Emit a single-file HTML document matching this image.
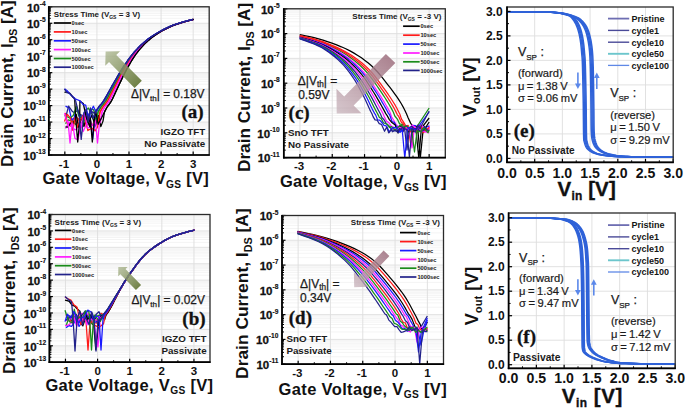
<!DOCTYPE html>
<html><head><meta charset="utf-8"><title>Figure</title>
<style>html,body{margin:0;padding:0;background:#fff;overflow:hidden}svg{display:block}</style>
</head><body>
<svg width="685" height="408" viewBox="0 0 685 408">
<rect width="685" height="408" fill="#ffffff"/>
<defs><clipPath id="clipA"><rect x="48.8" y="6.8" width="160.4" height="148.2"/></clipPath><clipPath id="clipB"><rect x="49.4" y="214.5" width="160.6" height="147.7"/></clipPath><clipPath id="clipC"><rect x="283.8" y="8.8" width="161.5" height="148.8"/></clipPath><clipPath id="clipD"><rect x="282" y="215.5" width="161.5" height="148.7"/></clipPath><clipPath id="clipE"><rect x="507" y="7" width="166.2" height="155.3"/></clipPath><clipPath id="clipF"><rect x="508.6" y="213" width="166.6" height="155.3"/></clipPath></defs>
<defs>
<linearGradient id="gOl" x1="1" y1="1" x2="0" y2="0"><stop offset="0" stop-color="#5f7230" stop-opacity="0.95"/><stop offset="1" stop-color="#aab58e" stop-opacity="0.75"/></linearGradient>
<linearGradient id="gMv" x1="1" y1="0" x2="0" y2="1"><stop offset="0" stop-color="#9a6878" stop-opacity="0.85"/><stop offset="1" stop-color="#c8b4bc" stop-opacity="0.75"/></linearGradient>
</defs>
<line x1="48.8" y1="150.04" x2="209.2" y2="150.04" stroke="#f1f1f1" stroke-width="0.8" />
<line x1="48.8" y1="147.14" x2="209.2" y2="147.14" stroke="#f1f1f1" stroke-width="0.8" />
<line x1="48.8" y1="145.09" x2="209.2" y2="145.09" stroke="#f1f1f1" stroke-width="0.8" />
<line x1="48.8" y1="143.49" x2="209.2" y2="143.49" stroke="#f1f1f1" stroke-width="0.8" />
<line x1="48.8" y1="142.19" x2="209.2" y2="142.19" stroke="#f1f1f1" stroke-width="0.8" />
<line x1="48.8" y1="141.08" x2="209.2" y2="141.08" stroke="#f1f1f1" stroke-width="0.8" />
<line x1="48.8" y1="140.13" x2="209.2" y2="140.13" stroke="#f1f1f1" stroke-width="0.8" />
<line x1="48.8" y1="139.29" x2="209.2" y2="139.29" stroke="#f1f1f1" stroke-width="0.8" />
<line x1="48.8" y1="133.58" x2="209.2" y2="133.58" stroke="#f1f1f1" stroke-width="0.8" />
<line x1="48.8" y1="130.68" x2="209.2" y2="130.68" stroke="#f1f1f1" stroke-width="0.8" />
<line x1="48.8" y1="128.62" x2="209.2" y2="128.62" stroke="#f1f1f1" stroke-width="0.8" />
<line x1="48.8" y1="127.02" x2="209.2" y2="127.02" stroke="#f1f1f1" stroke-width="0.8" />
<line x1="48.8" y1="125.72" x2="209.2" y2="125.72" stroke="#f1f1f1" stroke-width="0.8" />
<line x1="48.8" y1="124.62" x2="209.2" y2="124.62" stroke="#f1f1f1" stroke-width="0.8" />
<line x1="48.8" y1="123.66" x2="209.2" y2="123.66" stroke="#f1f1f1" stroke-width="0.8" />
<line x1="48.8" y1="122.82" x2="209.2" y2="122.82" stroke="#f1f1f1" stroke-width="0.8" />
<line x1="48.8" y1="117.11" x2="209.2" y2="117.11" stroke="#f1f1f1" stroke-width="0.8" />
<line x1="48.8" y1="114.21" x2="209.2" y2="114.21" stroke="#f1f1f1" stroke-width="0.8" />
<line x1="48.8" y1="112.15" x2="209.2" y2="112.15" stroke="#f1f1f1" stroke-width="0.8" />
<line x1="48.8" y1="110.56" x2="209.2" y2="110.56" stroke="#f1f1f1" stroke-width="0.8" />
<line x1="48.8" y1="109.25" x2="209.2" y2="109.25" stroke="#f1f1f1" stroke-width="0.8" />
<line x1="48.8" y1="108.15" x2="209.2" y2="108.15" stroke="#f1f1f1" stroke-width="0.8" />
<line x1="48.8" y1="107.2" x2="209.2" y2="107.2" stroke="#f1f1f1" stroke-width="0.8" />
<line x1="48.8" y1="106.35" x2="209.2" y2="106.35" stroke="#f1f1f1" stroke-width="0.8" />
<line x1="48.8" y1="100.64" x2="209.2" y2="100.64" stroke="#f1f1f1" stroke-width="0.8" />
<line x1="48.8" y1="97.74" x2="209.2" y2="97.74" stroke="#f1f1f1" stroke-width="0.8" />
<line x1="48.8" y1="95.69" x2="209.2" y2="95.69" stroke="#f1f1f1" stroke-width="0.8" />
<line x1="48.8" y1="94.09" x2="209.2" y2="94.09" stroke="#f1f1f1" stroke-width="0.8" />
<line x1="48.8" y1="92.79" x2="209.2" y2="92.79" stroke="#f1f1f1" stroke-width="0.8" />
<line x1="48.8" y1="91.68" x2="209.2" y2="91.68" stroke="#f1f1f1" stroke-width="0.8" />
<line x1="48.8" y1="90.73" x2="209.2" y2="90.73" stroke="#f1f1f1" stroke-width="0.8" />
<line x1="48.8" y1="89.89" x2="209.2" y2="89.89" stroke="#f1f1f1" stroke-width="0.8" />
<line x1="48.8" y1="84.18" x2="209.2" y2="84.18" stroke="#f1f1f1" stroke-width="0.8" />
<line x1="48.8" y1="81.28" x2="209.2" y2="81.28" stroke="#f1f1f1" stroke-width="0.8" />
<line x1="48.8" y1="79.22" x2="209.2" y2="79.22" stroke="#f1f1f1" stroke-width="0.8" />
<line x1="48.8" y1="77.62" x2="209.2" y2="77.62" stroke="#f1f1f1" stroke-width="0.8" />
<line x1="48.8" y1="76.32" x2="209.2" y2="76.32" stroke="#f1f1f1" stroke-width="0.8" />
<line x1="48.8" y1="75.22" x2="209.2" y2="75.22" stroke="#f1f1f1" stroke-width="0.8" />
<line x1="48.8" y1="74.26" x2="209.2" y2="74.26" stroke="#f1f1f1" stroke-width="0.8" />
<line x1="48.8" y1="73.42" x2="209.2" y2="73.42" stroke="#f1f1f1" stroke-width="0.8" />
<line x1="48.8" y1="67.71" x2="209.2" y2="67.71" stroke="#f1f1f1" stroke-width="0.8" />
<line x1="48.8" y1="64.81" x2="209.2" y2="64.81" stroke="#f1f1f1" stroke-width="0.8" />
<line x1="48.8" y1="62.75" x2="209.2" y2="62.75" stroke="#f1f1f1" stroke-width="0.8" />
<line x1="48.8" y1="61.16" x2="209.2" y2="61.16" stroke="#f1f1f1" stroke-width="0.8" />
<line x1="48.8" y1="59.85" x2="209.2" y2="59.85" stroke="#f1f1f1" stroke-width="0.8" />
<line x1="48.8" y1="58.75" x2="209.2" y2="58.75" stroke="#f1f1f1" stroke-width="0.8" />
<line x1="48.8" y1="57.8" x2="209.2" y2="57.8" stroke="#f1f1f1" stroke-width="0.8" />
<line x1="48.8" y1="56.95" x2="209.2" y2="56.95" stroke="#f1f1f1" stroke-width="0.8" />
<line x1="48.8" y1="51.24" x2="209.2" y2="51.24" stroke="#f1f1f1" stroke-width="0.8" />
<line x1="48.8" y1="48.34" x2="209.2" y2="48.34" stroke="#f1f1f1" stroke-width="0.8" />
<line x1="48.8" y1="46.29" x2="209.2" y2="46.29" stroke="#f1f1f1" stroke-width="0.8" />
<line x1="48.8" y1="44.69" x2="209.2" y2="44.69" stroke="#f1f1f1" stroke-width="0.8" />
<line x1="48.8" y1="43.39" x2="209.2" y2="43.39" stroke="#f1f1f1" stroke-width="0.8" />
<line x1="48.8" y1="42.28" x2="209.2" y2="42.28" stroke="#f1f1f1" stroke-width="0.8" />
<line x1="48.8" y1="41.33" x2="209.2" y2="41.33" stroke="#f1f1f1" stroke-width="0.8" />
<line x1="48.8" y1="40.49" x2="209.2" y2="40.49" stroke="#f1f1f1" stroke-width="0.8" />
<line x1="48.8" y1="34.78" x2="209.2" y2="34.78" stroke="#f1f1f1" stroke-width="0.8" />
<line x1="48.8" y1="31.88" x2="209.2" y2="31.88" stroke="#f1f1f1" stroke-width="0.8" />
<line x1="48.8" y1="29.82" x2="209.2" y2="29.82" stroke="#f1f1f1" stroke-width="0.8" />
<line x1="48.8" y1="28.22" x2="209.2" y2="28.22" stroke="#f1f1f1" stroke-width="0.8" />
<line x1="48.8" y1="26.92" x2="209.2" y2="26.92" stroke="#f1f1f1" stroke-width="0.8" />
<line x1="48.8" y1="25.82" x2="209.2" y2="25.82" stroke="#f1f1f1" stroke-width="0.8" />
<line x1="48.8" y1="24.86" x2="209.2" y2="24.86" stroke="#f1f1f1" stroke-width="0.8" />
<line x1="48.8" y1="24.02" x2="209.2" y2="24.02" stroke="#f1f1f1" stroke-width="0.8" />
<line x1="48.8" y1="18.31" x2="209.2" y2="18.31" stroke="#f1f1f1" stroke-width="0.8" />
<line x1="48.8" y1="15.41" x2="209.2" y2="15.41" stroke="#f1f1f1" stroke-width="0.8" />
<line x1="48.8" y1="13.35" x2="209.2" y2="13.35" stroke="#f1f1f1" stroke-width="0.8" />
<line x1="48.8" y1="11.76" x2="209.2" y2="11.76" stroke="#f1f1f1" stroke-width="0.8" />
<line x1="48.8" y1="10.45" x2="209.2" y2="10.45" stroke="#f1f1f1" stroke-width="0.8" />
<line x1="48.8" y1="9.35" x2="209.2" y2="9.35" stroke="#f1f1f1" stroke-width="0.8" />
<line x1="48.8" y1="8.4" x2="209.2" y2="8.4" stroke="#f1f1f1" stroke-width="0.8" />
<line x1="48.8" y1="7.55" x2="209.2" y2="7.55" stroke="#f1f1f1" stroke-width="0.8" />
<line x1="64.84" y1="6.8" x2="64.84" y2="155" stroke="#dedede" stroke-width="0.9" />
<line x1="96.92" y1="6.8" x2="96.92" y2="155" stroke="#dedede" stroke-width="0.9" />
<line x1="129" y1="6.8" x2="129" y2="155" stroke="#dedede" stroke-width="0.9" />
<line x1="161.08" y1="6.8" x2="161.08" y2="155" stroke="#dedede" stroke-width="0.9" />
<line x1="193.16" y1="6.8" x2="193.16" y2="155" stroke="#dedede" stroke-width="0.9" />
<line x1="48.8" y1="155" x2="209.2" y2="155" stroke="#dedede" stroke-width="0.9" />
<line x1="48.8" y1="138.53" x2="209.2" y2="138.53" stroke="#dedede" stroke-width="0.9" />
<line x1="48.8" y1="122.07" x2="209.2" y2="122.07" stroke="#dedede" stroke-width="0.9" />
<line x1="48.8" y1="105.6" x2="209.2" y2="105.6" stroke="#dedede" stroke-width="0.9" />
<line x1="48.8" y1="89.13" x2="209.2" y2="89.13" stroke="#dedede" stroke-width="0.9" />
<line x1="48.8" y1="72.67" x2="209.2" y2="72.67" stroke="#dedede" stroke-width="0.9" />
<line x1="48.8" y1="56.2" x2="209.2" y2="56.2" stroke="#dedede" stroke-width="0.9" />
<line x1="48.8" y1="39.73" x2="209.2" y2="39.73" stroke="#dedede" stroke-width="0.9" />
<line x1="48.8" y1="23.27" x2="209.2" y2="23.27" stroke="#dedede" stroke-width="0.9" />
<line x1="48.8" y1="6.8" x2="209.2" y2="6.8" stroke="#dedede" stroke-width="0.9" />
<line x1="49.4" y1="357.26" x2="210" y2="357.26" stroke="#f1f1f1" stroke-width="0.8" />
<line x1="49.4" y1="354.37" x2="210" y2="354.37" stroke="#f1f1f1" stroke-width="0.8" />
<line x1="49.4" y1="352.32" x2="210" y2="352.32" stroke="#f1f1f1" stroke-width="0.8" />
<line x1="49.4" y1="350.73" x2="210" y2="350.73" stroke="#f1f1f1" stroke-width="0.8" />
<line x1="49.4" y1="349.43" x2="210" y2="349.43" stroke="#f1f1f1" stroke-width="0.8" />
<line x1="49.4" y1="348.33" x2="210" y2="348.33" stroke="#f1f1f1" stroke-width="0.8" />
<line x1="49.4" y1="347.38" x2="210" y2="347.38" stroke="#f1f1f1" stroke-width="0.8" />
<line x1="49.4" y1="346.54" x2="210" y2="346.54" stroke="#f1f1f1" stroke-width="0.8" />
<line x1="49.4" y1="340.85" x2="210" y2="340.85" stroke="#f1f1f1" stroke-width="0.8" />
<line x1="49.4" y1="337.96" x2="210" y2="337.96" stroke="#f1f1f1" stroke-width="0.8" />
<line x1="49.4" y1="335.91" x2="210" y2="335.91" stroke="#f1f1f1" stroke-width="0.8" />
<line x1="49.4" y1="334.32" x2="210" y2="334.32" stroke="#f1f1f1" stroke-width="0.8" />
<line x1="49.4" y1="333.02" x2="210" y2="333.02" stroke="#f1f1f1" stroke-width="0.8" />
<line x1="49.4" y1="331.92" x2="210" y2="331.92" stroke="#f1f1f1" stroke-width="0.8" />
<line x1="49.4" y1="330.97" x2="210" y2="330.97" stroke="#f1f1f1" stroke-width="0.8" />
<line x1="49.4" y1="330.13" x2="210" y2="330.13" stroke="#f1f1f1" stroke-width="0.8" />
<line x1="49.4" y1="324.44" x2="210" y2="324.44" stroke="#f1f1f1" stroke-width="0.8" />
<line x1="49.4" y1="321.55" x2="210" y2="321.55" stroke="#f1f1f1" stroke-width="0.8" />
<line x1="49.4" y1="319.5" x2="210" y2="319.5" stroke="#f1f1f1" stroke-width="0.8" />
<line x1="49.4" y1="317.91" x2="210" y2="317.91" stroke="#f1f1f1" stroke-width="0.8" />
<line x1="49.4" y1="316.61" x2="210" y2="316.61" stroke="#f1f1f1" stroke-width="0.8" />
<line x1="49.4" y1="315.51" x2="210" y2="315.51" stroke="#f1f1f1" stroke-width="0.8" />
<line x1="49.4" y1="314.56" x2="210" y2="314.56" stroke="#f1f1f1" stroke-width="0.8" />
<line x1="49.4" y1="313.72" x2="210" y2="313.72" stroke="#f1f1f1" stroke-width="0.8" />
<line x1="49.4" y1="308.03" x2="210" y2="308.03" stroke="#f1f1f1" stroke-width="0.8" />
<line x1="49.4" y1="305.14" x2="210" y2="305.14" stroke="#f1f1f1" stroke-width="0.8" />
<line x1="49.4" y1="303.09" x2="210" y2="303.09" stroke="#f1f1f1" stroke-width="0.8" />
<line x1="49.4" y1="301.5" x2="210" y2="301.5" stroke="#f1f1f1" stroke-width="0.8" />
<line x1="49.4" y1="300.2" x2="210" y2="300.2" stroke="#f1f1f1" stroke-width="0.8" />
<line x1="49.4" y1="299.1" x2="210" y2="299.1" stroke="#f1f1f1" stroke-width="0.8" />
<line x1="49.4" y1="298.15" x2="210" y2="298.15" stroke="#f1f1f1" stroke-width="0.8" />
<line x1="49.4" y1="297.31" x2="210" y2="297.31" stroke="#f1f1f1" stroke-width="0.8" />
<line x1="49.4" y1="291.62" x2="210" y2="291.62" stroke="#f1f1f1" stroke-width="0.8" />
<line x1="49.4" y1="288.73" x2="210" y2="288.73" stroke="#f1f1f1" stroke-width="0.8" />
<line x1="49.4" y1="286.68" x2="210" y2="286.68" stroke="#f1f1f1" stroke-width="0.8" />
<line x1="49.4" y1="285.08" x2="210" y2="285.08" stroke="#f1f1f1" stroke-width="0.8" />
<line x1="49.4" y1="283.79" x2="210" y2="283.79" stroke="#f1f1f1" stroke-width="0.8" />
<line x1="49.4" y1="282.69" x2="210" y2="282.69" stroke="#f1f1f1" stroke-width="0.8" />
<line x1="49.4" y1="281.73" x2="210" y2="281.73" stroke="#f1f1f1" stroke-width="0.8" />
<line x1="49.4" y1="280.9" x2="210" y2="280.9" stroke="#f1f1f1" stroke-width="0.8" />
<line x1="49.4" y1="275.2" x2="210" y2="275.2" stroke="#f1f1f1" stroke-width="0.8" />
<line x1="49.4" y1="272.31" x2="210" y2="272.31" stroke="#f1f1f1" stroke-width="0.8" />
<line x1="49.4" y1="270.26" x2="210" y2="270.26" stroke="#f1f1f1" stroke-width="0.8" />
<line x1="49.4" y1="268.67" x2="210" y2="268.67" stroke="#f1f1f1" stroke-width="0.8" />
<line x1="49.4" y1="267.37" x2="210" y2="267.37" stroke="#f1f1f1" stroke-width="0.8" />
<line x1="49.4" y1="266.28" x2="210" y2="266.28" stroke="#f1f1f1" stroke-width="0.8" />
<line x1="49.4" y1="265.32" x2="210" y2="265.32" stroke="#f1f1f1" stroke-width="0.8" />
<line x1="49.4" y1="264.48" x2="210" y2="264.48" stroke="#f1f1f1" stroke-width="0.8" />
<line x1="49.4" y1="258.79" x2="210" y2="258.79" stroke="#f1f1f1" stroke-width="0.8" />
<line x1="49.4" y1="255.9" x2="210" y2="255.9" stroke="#f1f1f1" stroke-width="0.8" />
<line x1="49.4" y1="253.85" x2="210" y2="253.85" stroke="#f1f1f1" stroke-width="0.8" />
<line x1="49.4" y1="252.26" x2="210" y2="252.26" stroke="#f1f1f1" stroke-width="0.8" />
<line x1="49.4" y1="250.96" x2="210" y2="250.96" stroke="#f1f1f1" stroke-width="0.8" />
<line x1="49.4" y1="249.86" x2="210" y2="249.86" stroke="#f1f1f1" stroke-width="0.8" />
<line x1="49.4" y1="248.91" x2="210" y2="248.91" stroke="#f1f1f1" stroke-width="0.8" />
<line x1="49.4" y1="248.07" x2="210" y2="248.07" stroke="#f1f1f1" stroke-width="0.8" />
<line x1="49.4" y1="242.38" x2="210" y2="242.38" stroke="#f1f1f1" stroke-width="0.8" />
<line x1="49.4" y1="239.49" x2="210" y2="239.49" stroke="#f1f1f1" stroke-width="0.8" />
<line x1="49.4" y1="237.44" x2="210" y2="237.44" stroke="#f1f1f1" stroke-width="0.8" />
<line x1="49.4" y1="235.85" x2="210" y2="235.85" stroke="#f1f1f1" stroke-width="0.8" />
<line x1="49.4" y1="234.55" x2="210" y2="234.55" stroke="#f1f1f1" stroke-width="0.8" />
<line x1="49.4" y1="233.45" x2="210" y2="233.45" stroke="#f1f1f1" stroke-width="0.8" />
<line x1="49.4" y1="232.5" x2="210" y2="232.5" stroke="#f1f1f1" stroke-width="0.8" />
<line x1="49.4" y1="231.66" x2="210" y2="231.66" stroke="#f1f1f1" stroke-width="0.8" />
<line x1="49.4" y1="225.97" x2="210" y2="225.97" stroke="#f1f1f1" stroke-width="0.8" />
<line x1="49.4" y1="223.08" x2="210" y2="223.08" stroke="#f1f1f1" stroke-width="0.8" />
<line x1="49.4" y1="221.03" x2="210" y2="221.03" stroke="#f1f1f1" stroke-width="0.8" />
<line x1="49.4" y1="219.44" x2="210" y2="219.44" stroke="#f1f1f1" stroke-width="0.8" />
<line x1="49.4" y1="218.14" x2="210" y2="218.14" stroke="#f1f1f1" stroke-width="0.8" />
<line x1="49.4" y1="217.04" x2="210" y2="217.04" stroke="#f1f1f1" stroke-width="0.8" />
<line x1="49.4" y1="216.09" x2="210" y2="216.09" stroke="#f1f1f1" stroke-width="0.8" />
<line x1="49.4" y1="215.25" x2="210" y2="215.25" stroke="#f1f1f1" stroke-width="0.8" />
<line x1="65.46" y1="214.5" x2="65.46" y2="362.2" stroke="#dedede" stroke-width="0.9" />
<line x1="97.58" y1="214.5" x2="97.58" y2="362.2" stroke="#dedede" stroke-width="0.9" />
<line x1="129.7" y1="214.5" x2="129.7" y2="362.2" stroke="#dedede" stroke-width="0.9" />
<line x1="161.82" y1="214.5" x2="161.82" y2="362.2" stroke="#dedede" stroke-width="0.9" />
<line x1="193.94" y1="214.5" x2="193.94" y2="362.2" stroke="#dedede" stroke-width="0.9" />
<line x1="49.4" y1="362.2" x2="210" y2="362.2" stroke="#dedede" stroke-width="0.9" />
<line x1="49.4" y1="345.79" x2="210" y2="345.79" stroke="#dedede" stroke-width="0.9" />
<line x1="49.4" y1="329.38" x2="210" y2="329.38" stroke="#dedede" stroke-width="0.9" />
<line x1="49.4" y1="312.97" x2="210" y2="312.97" stroke="#dedede" stroke-width="0.9" />
<line x1="49.4" y1="296.56" x2="210" y2="296.56" stroke="#dedede" stroke-width="0.9" />
<line x1="49.4" y1="280.14" x2="210" y2="280.14" stroke="#dedede" stroke-width="0.9" />
<line x1="49.4" y1="263.73" x2="210" y2="263.73" stroke="#dedede" stroke-width="0.9" />
<line x1="49.4" y1="247.32" x2="210" y2="247.32" stroke="#dedede" stroke-width="0.9" />
<line x1="49.4" y1="230.91" x2="210" y2="230.91" stroke="#dedede" stroke-width="0.9" />
<line x1="49.4" y1="214.5" x2="210" y2="214.5" stroke="#dedede" stroke-width="0.9" />
<line x1="283.8" y1="150.13" x2="445.3" y2="150.13" stroke="#f1f1f1" stroke-width="0.8" />
<line x1="283.8" y1="145.77" x2="445.3" y2="145.77" stroke="#f1f1f1" stroke-width="0.8" />
<line x1="283.8" y1="142.67" x2="445.3" y2="142.67" stroke="#f1f1f1" stroke-width="0.8" />
<line x1="283.8" y1="140.27" x2="445.3" y2="140.27" stroke="#f1f1f1" stroke-width="0.8" />
<line x1="283.8" y1="138.3" x2="445.3" y2="138.3" stroke="#f1f1f1" stroke-width="0.8" />
<line x1="283.8" y1="136.64" x2="445.3" y2="136.64" stroke="#f1f1f1" stroke-width="0.8" />
<line x1="283.8" y1="135.2" x2="445.3" y2="135.2" stroke="#f1f1f1" stroke-width="0.8" />
<line x1="283.8" y1="133.93" x2="445.3" y2="133.93" stroke="#f1f1f1" stroke-width="0.8" />
<line x1="283.8" y1="125.33" x2="445.3" y2="125.33" stroke="#f1f1f1" stroke-width="0.8" />
<line x1="283.8" y1="120.97" x2="445.3" y2="120.97" stroke="#f1f1f1" stroke-width="0.8" />
<line x1="283.8" y1="117.87" x2="445.3" y2="117.87" stroke="#f1f1f1" stroke-width="0.8" />
<line x1="283.8" y1="115.47" x2="445.3" y2="115.47" stroke="#f1f1f1" stroke-width="0.8" />
<line x1="283.8" y1="113.5" x2="445.3" y2="113.5" stroke="#f1f1f1" stroke-width="0.8" />
<line x1="283.8" y1="111.84" x2="445.3" y2="111.84" stroke="#f1f1f1" stroke-width="0.8" />
<line x1="283.8" y1="110.4" x2="445.3" y2="110.4" stroke="#f1f1f1" stroke-width="0.8" />
<line x1="283.8" y1="109.13" x2="445.3" y2="109.13" stroke="#f1f1f1" stroke-width="0.8" />
<line x1="283.8" y1="100.53" x2="445.3" y2="100.53" stroke="#f1f1f1" stroke-width="0.8" />
<line x1="283.8" y1="96.17" x2="445.3" y2="96.17" stroke="#f1f1f1" stroke-width="0.8" />
<line x1="283.8" y1="93.07" x2="445.3" y2="93.07" stroke="#f1f1f1" stroke-width="0.8" />
<line x1="283.8" y1="90.67" x2="445.3" y2="90.67" stroke="#f1f1f1" stroke-width="0.8" />
<line x1="283.8" y1="88.7" x2="445.3" y2="88.7" stroke="#f1f1f1" stroke-width="0.8" />
<line x1="283.8" y1="87.04" x2="445.3" y2="87.04" stroke="#f1f1f1" stroke-width="0.8" />
<line x1="283.8" y1="85.6" x2="445.3" y2="85.6" stroke="#f1f1f1" stroke-width="0.8" />
<line x1="283.8" y1="84.33" x2="445.3" y2="84.33" stroke="#f1f1f1" stroke-width="0.8" />
<line x1="283.8" y1="75.73" x2="445.3" y2="75.73" stroke="#f1f1f1" stroke-width="0.8" />
<line x1="283.8" y1="71.37" x2="445.3" y2="71.37" stroke="#f1f1f1" stroke-width="0.8" />
<line x1="283.8" y1="68.27" x2="445.3" y2="68.27" stroke="#f1f1f1" stroke-width="0.8" />
<line x1="283.8" y1="65.87" x2="445.3" y2="65.87" stroke="#f1f1f1" stroke-width="0.8" />
<line x1="283.8" y1="63.9" x2="445.3" y2="63.9" stroke="#f1f1f1" stroke-width="0.8" />
<line x1="283.8" y1="62.24" x2="445.3" y2="62.24" stroke="#f1f1f1" stroke-width="0.8" />
<line x1="283.8" y1="60.8" x2="445.3" y2="60.8" stroke="#f1f1f1" stroke-width="0.8" />
<line x1="283.8" y1="59.53" x2="445.3" y2="59.53" stroke="#f1f1f1" stroke-width="0.8" />
<line x1="283.8" y1="50.93" x2="445.3" y2="50.93" stroke="#f1f1f1" stroke-width="0.8" />
<line x1="283.8" y1="46.57" x2="445.3" y2="46.57" stroke="#f1f1f1" stroke-width="0.8" />
<line x1="283.8" y1="43.47" x2="445.3" y2="43.47" stroke="#f1f1f1" stroke-width="0.8" />
<line x1="283.8" y1="41.07" x2="445.3" y2="41.07" stroke="#f1f1f1" stroke-width="0.8" />
<line x1="283.8" y1="39.1" x2="445.3" y2="39.1" stroke="#f1f1f1" stroke-width="0.8" />
<line x1="283.8" y1="37.44" x2="445.3" y2="37.44" stroke="#f1f1f1" stroke-width="0.8" />
<line x1="283.8" y1="36" x2="445.3" y2="36" stroke="#f1f1f1" stroke-width="0.8" />
<line x1="283.8" y1="34.73" x2="445.3" y2="34.73" stroke="#f1f1f1" stroke-width="0.8" />
<line x1="283.8" y1="26.13" x2="445.3" y2="26.13" stroke="#f1f1f1" stroke-width="0.8" />
<line x1="283.8" y1="21.77" x2="445.3" y2="21.77" stroke="#f1f1f1" stroke-width="0.8" />
<line x1="283.8" y1="18.67" x2="445.3" y2="18.67" stroke="#f1f1f1" stroke-width="0.8" />
<line x1="283.8" y1="16.27" x2="445.3" y2="16.27" stroke="#f1f1f1" stroke-width="0.8" />
<line x1="283.8" y1="14.3" x2="445.3" y2="14.3" stroke="#f1f1f1" stroke-width="0.8" />
<line x1="283.8" y1="12.64" x2="445.3" y2="12.64" stroke="#f1f1f1" stroke-width="0.8" />
<line x1="283.8" y1="11.2" x2="445.3" y2="11.2" stroke="#f1f1f1" stroke-width="0.8" />
<line x1="283.8" y1="9.93" x2="445.3" y2="9.93" stroke="#f1f1f1" stroke-width="0.8" />
<line x1="299.95" y1="8.8" x2="299.95" y2="157.6" stroke="#dedede" stroke-width="0.9" />
<line x1="332.25" y1="8.8" x2="332.25" y2="157.6" stroke="#dedede" stroke-width="0.9" />
<line x1="364.55" y1="8.8" x2="364.55" y2="157.6" stroke="#dedede" stroke-width="0.9" />
<line x1="396.85" y1="8.8" x2="396.85" y2="157.6" stroke="#dedede" stroke-width="0.9" />
<line x1="429.15" y1="8.8" x2="429.15" y2="157.6" stroke="#dedede" stroke-width="0.9" />
<line x1="283.8" y1="157.6" x2="445.3" y2="157.6" stroke="#dedede" stroke-width="0.9" />
<line x1="283.8" y1="132.8" x2="445.3" y2="132.8" stroke="#dedede" stroke-width="0.9" />
<line x1="283.8" y1="108" x2="445.3" y2="108" stroke="#dedede" stroke-width="0.9" />
<line x1="283.8" y1="83.2" x2="445.3" y2="83.2" stroke="#dedede" stroke-width="0.9" />
<line x1="283.8" y1="58.4" x2="445.3" y2="58.4" stroke="#dedede" stroke-width="0.9" />
<line x1="283.8" y1="33.6" x2="445.3" y2="33.6" stroke="#dedede" stroke-width="0.9" />
<line x1="283.8" y1="8.8" x2="445.3" y2="8.8" stroke="#dedede" stroke-width="0.9" />
<line x1="282" y1="356.74" x2="443.5" y2="356.74" stroke="#f1f1f1" stroke-width="0.8" />
<line x1="282" y1="352.38" x2="443.5" y2="352.38" stroke="#f1f1f1" stroke-width="0.8" />
<line x1="282" y1="349.28" x2="443.5" y2="349.28" stroke="#f1f1f1" stroke-width="0.8" />
<line x1="282" y1="346.88" x2="443.5" y2="346.88" stroke="#f1f1f1" stroke-width="0.8" />
<line x1="282" y1="344.91" x2="443.5" y2="344.91" stroke="#f1f1f1" stroke-width="0.8" />
<line x1="282" y1="343.26" x2="443.5" y2="343.26" stroke="#f1f1f1" stroke-width="0.8" />
<line x1="282" y1="341.82" x2="443.5" y2="341.82" stroke="#f1f1f1" stroke-width="0.8" />
<line x1="282" y1="340.55" x2="443.5" y2="340.55" stroke="#f1f1f1" stroke-width="0.8" />
<line x1="282" y1="331.96" x2="443.5" y2="331.96" stroke="#f1f1f1" stroke-width="0.8" />
<line x1="282" y1="327.59" x2="443.5" y2="327.59" stroke="#f1f1f1" stroke-width="0.8" />
<line x1="282" y1="324.5" x2="443.5" y2="324.5" stroke="#f1f1f1" stroke-width="0.8" />
<line x1="282" y1="322.09" x2="443.5" y2="322.09" stroke="#f1f1f1" stroke-width="0.8" />
<line x1="282" y1="320.13" x2="443.5" y2="320.13" stroke="#f1f1f1" stroke-width="0.8" />
<line x1="282" y1="318.47" x2="443.5" y2="318.47" stroke="#f1f1f1" stroke-width="0.8" />
<line x1="282" y1="317.04" x2="443.5" y2="317.04" stroke="#f1f1f1" stroke-width="0.8" />
<line x1="282" y1="315.77" x2="443.5" y2="315.77" stroke="#f1f1f1" stroke-width="0.8" />
<line x1="282" y1="307.17" x2="443.5" y2="307.17" stroke="#f1f1f1" stroke-width="0.8" />
<line x1="282" y1="302.81" x2="443.5" y2="302.81" stroke="#f1f1f1" stroke-width="0.8" />
<line x1="282" y1="299.71" x2="443.5" y2="299.71" stroke="#f1f1f1" stroke-width="0.8" />
<line x1="282" y1="297.31" x2="443.5" y2="297.31" stroke="#f1f1f1" stroke-width="0.8" />
<line x1="282" y1="295.35" x2="443.5" y2="295.35" stroke="#f1f1f1" stroke-width="0.8" />
<line x1="282" y1="293.69" x2="443.5" y2="293.69" stroke="#f1f1f1" stroke-width="0.8" />
<line x1="282" y1="292.25" x2="443.5" y2="292.25" stroke="#f1f1f1" stroke-width="0.8" />
<line x1="282" y1="290.98" x2="443.5" y2="290.98" stroke="#f1f1f1" stroke-width="0.8" />
<line x1="282" y1="282.39" x2="443.5" y2="282.39" stroke="#f1f1f1" stroke-width="0.8" />
<line x1="282" y1="278.03" x2="443.5" y2="278.03" stroke="#f1f1f1" stroke-width="0.8" />
<line x1="282" y1="274.93" x2="443.5" y2="274.93" stroke="#f1f1f1" stroke-width="0.8" />
<line x1="282" y1="272.53" x2="443.5" y2="272.53" stroke="#f1f1f1" stroke-width="0.8" />
<line x1="282" y1="270.56" x2="443.5" y2="270.56" stroke="#f1f1f1" stroke-width="0.8" />
<line x1="282" y1="268.91" x2="443.5" y2="268.91" stroke="#f1f1f1" stroke-width="0.8" />
<line x1="282" y1="267.47" x2="443.5" y2="267.47" stroke="#f1f1f1" stroke-width="0.8" />
<line x1="282" y1="266.2" x2="443.5" y2="266.2" stroke="#f1f1f1" stroke-width="0.8" />
<line x1="282" y1="257.61" x2="443.5" y2="257.61" stroke="#f1f1f1" stroke-width="0.8" />
<line x1="282" y1="253.24" x2="443.5" y2="253.24" stroke="#f1f1f1" stroke-width="0.8" />
<line x1="282" y1="250.15" x2="443.5" y2="250.15" stroke="#f1f1f1" stroke-width="0.8" />
<line x1="282" y1="247.74" x2="443.5" y2="247.74" stroke="#f1f1f1" stroke-width="0.8" />
<line x1="282" y1="245.78" x2="443.5" y2="245.78" stroke="#f1f1f1" stroke-width="0.8" />
<line x1="282" y1="244.12" x2="443.5" y2="244.12" stroke="#f1f1f1" stroke-width="0.8" />
<line x1="282" y1="242.69" x2="443.5" y2="242.69" stroke="#f1f1f1" stroke-width="0.8" />
<line x1="282" y1="241.42" x2="443.5" y2="241.42" stroke="#f1f1f1" stroke-width="0.8" />
<line x1="282" y1="232.82" x2="443.5" y2="232.82" stroke="#f1f1f1" stroke-width="0.8" />
<line x1="282" y1="228.46" x2="443.5" y2="228.46" stroke="#f1f1f1" stroke-width="0.8" />
<line x1="282" y1="225.36" x2="443.5" y2="225.36" stroke="#f1f1f1" stroke-width="0.8" />
<line x1="282" y1="222.96" x2="443.5" y2="222.96" stroke="#f1f1f1" stroke-width="0.8" />
<line x1="282" y1="221" x2="443.5" y2="221" stroke="#f1f1f1" stroke-width="0.8" />
<line x1="282" y1="219.34" x2="443.5" y2="219.34" stroke="#f1f1f1" stroke-width="0.8" />
<line x1="282" y1="217.9" x2="443.5" y2="217.9" stroke="#f1f1f1" stroke-width="0.8" />
<line x1="282" y1="216.63" x2="443.5" y2="216.63" stroke="#f1f1f1" stroke-width="0.8" />
<line x1="298.15" y1="215.5" x2="298.15" y2="364.2" stroke="#dedede" stroke-width="0.9" />
<line x1="330.45" y1="215.5" x2="330.45" y2="364.2" stroke="#dedede" stroke-width="0.9" />
<line x1="362.75" y1="215.5" x2="362.75" y2="364.2" stroke="#dedede" stroke-width="0.9" />
<line x1="395.05" y1="215.5" x2="395.05" y2="364.2" stroke="#dedede" stroke-width="0.9" />
<line x1="427.35" y1="215.5" x2="427.35" y2="364.2" stroke="#dedede" stroke-width="0.9" />
<line x1="282" y1="364.2" x2="443.5" y2="364.2" stroke="#dedede" stroke-width="0.9" />
<line x1="282" y1="339.42" x2="443.5" y2="339.42" stroke="#dedede" stroke-width="0.9" />
<line x1="282" y1="314.63" x2="443.5" y2="314.63" stroke="#dedede" stroke-width="0.9" />
<line x1="282" y1="289.85" x2="443.5" y2="289.85" stroke="#dedede" stroke-width="0.9" />
<line x1="282" y1="265.07" x2="443.5" y2="265.07" stroke="#dedede" stroke-width="0.9" />
<line x1="282" y1="240.28" x2="443.5" y2="240.28" stroke="#dedede" stroke-width="0.9" />
<line x1="282" y1="215.5" x2="443.5" y2="215.5" stroke="#dedede" stroke-width="0.9" />
<line x1="534.7" y1="7" x2="534.7" y2="162.3" stroke="#dedede" stroke-width="0.9" />
<line x1="562.4" y1="7" x2="562.4" y2="162.3" stroke="#dedede" stroke-width="0.9" />
<line x1="590.1" y1="7" x2="590.1" y2="162.3" stroke="#dedede" stroke-width="0.9" />
<line x1="617.8" y1="7" x2="617.8" y2="162.3" stroke="#dedede" stroke-width="0.9" />
<line x1="645.5" y1="7" x2="645.5" y2="162.3" stroke="#dedede" stroke-width="0.9" />
<line x1="507" y1="158.4" x2="673.2" y2="158.4" stroke="#dedede" stroke-width="0.9" />
<line x1="507" y1="133.9" x2="673.2" y2="133.9" stroke="#dedede" stroke-width="0.9" />
<line x1="507" y1="109.4" x2="673.2" y2="109.4" stroke="#dedede" stroke-width="0.9" />
<line x1="507" y1="84.9" x2="673.2" y2="84.9" stroke="#dedede" stroke-width="0.9" />
<line x1="507" y1="60.4" x2="673.2" y2="60.4" stroke="#dedede" stroke-width="0.9" />
<line x1="507" y1="35.9" x2="673.2" y2="35.9" stroke="#dedede" stroke-width="0.9" />
<line x1="536.37" y1="213" x2="536.37" y2="368.3" stroke="#dedede" stroke-width="0.9" />
<line x1="564.13" y1="213" x2="564.13" y2="368.3" stroke="#dedede" stroke-width="0.9" />
<line x1="591.9" y1="213" x2="591.9" y2="368.3" stroke="#dedede" stroke-width="0.9" />
<line x1="619.67" y1="213" x2="619.67" y2="368.3" stroke="#dedede" stroke-width="0.9" />
<line x1="647.43" y1="213" x2="647.43" y2="368.3" stroke="#dedede" stroke-width="0.9" />
<line x1="508.6" y1="364.7" x2="675.2" y2="364.7" stroke="#dedede" stroke-width="0.9" />
<line x1="508.6" y1="340.2" x2="675.2" y2="340.2" stroke="#dedede" stroke-width="0.9" />
<line x1="508.6" y1="315.7" x2="675.2" y2="315.7" stroke="#dedede" stroke-width="0.9" />
<line x1="508.6" y1="291.2" x2="675.2" y2="291.2" stroke="#dedede" stroke-width="0.9" />
<line x1="508.6" y1="266.7" x2="675.2" y2="266.7" stroke="#dedede" stroke-width="0.9" />
<line x1="508.6" y1="242.2" x2="675.2" y2="242.2" stroke="#dedede" stroke-width="0.9" />
<g clip-path="url(#clipA)">
<polyline points="65.5,123.58 68.4,119.83 70.43,120.53 73.46,122.17 75.71,124.5 78.54,118.98 80.68,120.24 83.4,118.92 85.48,120.98 88.13,124.7 90.25,109.07 93.5,109.61 96.79,122.08 98,112 98.22,111.63 98.5,111.14 98.83,110.57 99.2,109.92 99.61,109.22 100.06,108.49 100.53,107.74 101.03,107 101.53,106.31 102.05,105.68 102.59,105.06 103.17,104.39 103.79,103.63 104.47,102.72 105.23,101.63 106.06,100.3 107,98.69 108.03,96.82 109.14,94.75 110.31,92.55 111.51,90.27 112.74,87.96 113.96,85.68 115.15,83.5 116.33,81.37 117.51,79.22 118.69,77.06 119.89,74.9 121.1,72.75 122.35,70.6 123.63,68.49 124.94,66.4 126.29,64.33 127.66,62.26 129.05,60.21 130.48,58.17 131.94,56.16 133.45,54.19 135.01,52.27 136.63,50.4 138.29,48.58 139.98,46.81 141.71,45.08 143.49,43.39 145.34,41.74 147.27,40.13 149.28,38.55 151.4,37 153.65,35.47 156.01,33.96 158.47,32.47 161,31.02 163.59,29.63 166.2,28.3 168.83,27.06 171.44,25.9 174.21,24.81 177.23,23.78 180.37,22.81 183.49,21.91 186.45,21.09 189.12,20.38 191.36,19.78 193.04,19.3" fill="none" stroke="#1a8c1a" stroke-width="1.3" stroke-linejoin="round" />
<polyline points="65.5,112.94 67.59,124.49 70.79,126.13 73.14,118.56 76.37,117.15 78.43,118.93 81,126.83 84.58,125.48 86.67,118.54 88.82,115.77 92.17,125.64 95.37,120.21 98.14,123.17 100,112 100.21,111.63 100.48,111.14 100.79,110.57 101.15,109.92 101.55,109.22 101.98,108.49 102.44,107.74 102.92,107 103.41,106.31 103.91,105.68 104.44,105.06 105,104.39 105.61,103.63 106.27,102.72 107,101.63 107.81,100.3 108.71,98.69 109.71,96.82 110.77,94.75 111.89,92.55 113.05,90.27 114.22,87.96 115.39,85.68 116.54,83.5 117.67,81.37 118.8,79.22 119.94,77.06 121.09,74.9 122.26,72.75 123.46,70.6 124.69,68.49 125.97,66.4 127.27,64.33 128.59,62.26 129.94,60.21 131.32,58.17 132.74,56.16 134.21,54.19 135.73,52.27 137.31,50.4 138.93,48.58 140.58,46.81 142.28,45.08 144.02,43.39 145.83,41.74 147.72,40.13 149.71,38.55 151.79,37 154,35.47 156.33,33.96 158.76,32.47 161.27,31.02 163.83,29.63 166.44,28.3 169.07,27.06 171.68,25.9 174.45,24.81 177.47,23.78 180.61,22.81 183.73,21.91 186.69,21.09 189.36,20.38 191.6,19.78 193.28,19.3" fill="none" stroke="#ff1a1a" stroke-width="1.3" stroke-linejoin="round" />
<polyline points="65.5,128.46 69.02,122.15 71.8,127.12 74.11,129.25 76.52,129.83 79.89,121.18 83.13,131.52 86.73,123.65 89.98,124.39 92.62,129.9 95.81,124.99 98.31,117.26 100.54,121.75 102,112 102.2,111.63 102.46,111.14 102.76,110.57 103.11,109.92 103.49,109.22 103.91,108.49 104.35,107.74 104.81,107 105.29,106.31 105.78,105.68 106.29,105.06 106.84,104.39 107.43,103.63 108.07,102.72 108.78,101.63 109.56,100.3 110.43,98.69 111.38,96.82 112.4,94.75 113.48,92.55 114.58,90.27 115.7,87.96 116.83,85.68 117.93,83.5 119.02,81.37 120.1,79.22 121.19,77.06 122.29,74.9 123.42,72.75 124.57,70.6 125.76,68.49 126.99,66.4 128.25,64.33 129.53,62.26 130.83,60.21 132.17,58.17 133.54,56.16 134.97,54.19 136.45,52.27 137.99,50.4 139.57,48.58 141.18,46.81 142.84,45.08 144.55,43.39 146.32,41.74 148.18,40.13 150.13,38.55 152.18,37 154.36,35.47 156.66,33.96 159.05,32.47 161.53,31.02 164.07,29.63 166.68,28.3 169.31,27.06 171.92,25.9 174.69,24.81 177.71,23.78 180.85,22.81 183.97,21.91 186.93,21.09 189.6,20.38 191.84,19.78 193.52,19.3" fill="none" stroke="#ff1aff" stroke-width="1.3" stroke-linejoin="round" />
<polyline points="65.5,126.79 67.88,127.16 70.65,122.93 72.88,124.09 76.24,114.45 78.52,127.01 81.85,116.93 83.99,126.46 86.32,117.07 88.64,122.96 91.77,115.22 95.34,125.84 98.7,115.52 100.83,126.51 103,121.12 104.5,112 104.69,111.63 104.94,111.14 105.23,110.57 105.55,109.92 105.92,109.22 106.31,108.49 106.73,107.74 107.18,107 107.64,106.31 108.11,105.68 108.61,105.06 109.13,104.39 109.7,103.63 110.32,102.72 111,101.63 111.75,100.3 112.57,98.69 113.47,96.82 114.44,94.75 115.45,92.55 116.5,90.27 117.56,87.96 118.62,85.68 119.66,83.5 120.69,81.37 121.72,79.22 122.75,77.06 123.8,74.9 124.86,72.75 125.96,70.6 127.09,68.49 128.26,66.4 129.47,64.33 130.69,62.26 131.94,60.21 133.22,58.17 134.54,56.16 135.92,54.19 137.34,52.27 138.83,50.4 140.37,48.58 141.94,46.81 143.54,45.08 145.21,43.39 146.94,41.74 148.75,40.13 150.66,38.55 152.67,37 154.81,35.47 157.06,33.96 159.42,32.47 161.85,31.02 164.37,29.63 166.98,28.3 169.61,27.06 172.22,25.9 174.99,24.81 178.01,23.78 181.15,22.81 184.27,21.91 187.23,21.09 189.9,20.38 192.14,19.78 193.82,19.3" fill="none" stroke="#000000" stroke-width="1.3" stroke-linejoin="round" />
<polyline points="65.5,106.13 68.98,107.82 71.74,120.14 74.16,118.35 76.42,106.4 78.79,114.02 82.37,117.39 85.15,110.28 87.31,115.95 89.76,113.26 92.7,139.29 94.85,120.05 96,112 96.23,111.63 96.52,111.14 96.86,110.57 97.24,109.92 97.67,109.22 98.13,108.49 98.62,107.74 99.13,107 99.65,106.31 100.19,105.68 100.74,105.06 101.33,104.39 101.97,103.63 102.67,102.72 103.45,101.63 104.31,100.3 105.29,98.69 106.36,96.82 107.51,94.75 108.73,92.55 109.98,90.27 111.25,87.96 112.52,85.68 113.76,83.5 114.99,81.37 116.21,79.22 117.44,77.06 118.68,74.9 119.95,72.75 121.24,70.6 122.56,68.49 123.92,66.4 125.32,64.33 126.73,62.26 128.16,60.21 129.63,58.17 131.14,56.16 132.69,54.19 134.29,52.27 135.95,50.4 137.65,48.58 139.38,46.81 141.15,45.08 142.97,43.39 144.85,41.74 146.81,40.13 148.86,38.55 151.01,37 153.29,35.47 155.68,33.96 158.18,32.47 160.74,31.02 163.35,29.63 165.96,28.3 168.59,27.06 171.2,25.9 173.97,24.81 176.99,23.78 180.13,22.81 183.25,21.91 186.21,21.09 188.88,20.38 191.12,19.78 192.8,19.3" fill="none" stroke="#1a1aff" stroke-width="1.3" stroke-linejoin="round" />
<polyline points="65.5,118.2 68.57,106.12 72.15,111.21 74.44,112.71 77.67,110.16 79.97,114.24 82.59,115.55 84.91,116.14 87.89,120.91 90.96,110.43 93.26,113.01 95.5,112 95.73,111.63 96.02,111.14 96.36,110.57 96.75,109.92 97.19,109.22 97.65,108.49 98.15,107.74 98.66,107 99.19,106.31 99.72,105.68 100.28,105.06 100.87,104.39 101.51,103.63 102.22,102.72 103,101.63 103.88,100.3 104.86,98.69 105.94,96.82 107.11,94.75 108.33,92.55 109.6,90.27 110.88,87.96 112.16,85.68 113.42,83.5 114.65,81.37 115.89,79.22 117.13,77.06 118.38,74.9 119.66,72.75 120.96,70.6 122.29,68.49 123.67,66.4 125.07,64.33 126.5,62.26 127.94,60.21 129.42,58.17 130.94,56.16 132.5,54.19 134.11,52.27 135.78,50.4 137.49,48.58 139.23,46.81 141.01,45.08 142.83,43.39 144.73,41.74 146.69,40.13 148.75,38.55 150.91,37 153.2,35.47 155.6,33.96 158.1,32.47 160.68,31.02 163.29,29.63 165.9,28.3 168.53,27.06 171.14,25.9 173.91,24.81 176.93,23.78 180.07,22.81 183.19,21.91 186.15,21.09 188.82,20.38 191.06,19.78 192.74,19.3" fill="none" stroke="#22228a" stroke-width="1.3" stroke-linejoin="round" />
<polyline points="64.5,115.49 66.63,116.51 70.04,118.11 73.21,115.46 76.55,106.51 78.6,115.82 80.97,117.57 83.95,121.57 85.97,110.42 88.29,108.05 91.35,112.95 93.87,116.99 96.56,119.51 98,112 98.22,111.63 98.5,111.14 98.83,110.57 99.2,109.92 99.61,109.22 100.06,108.49 100.53,107.74 101.03,107 101.53,106.31 102.05,105.68 102.59,105.06 103.17,104.39 103.79,103.63 104.47,102.72 105.23,101.63 106.06,100.3 107,98.69 108.03,96.82 109.14,94.75 110.31,92.55 111.51,90.27 112.74,87.96 113.96,85.68 115.15,83.5 116.33,81.37 117.51,79.22 118.69,77.06 119.89,74.9 121.1,72.75 122.35,70.6 123.63,68.49 124.94,66.4 126.29,64.33 127.66,62.26 129.05,60.21 130.48,58.17 131.94,56.16 133.45,54.19 135.01,52.27 136.63,50.4 138.29,48.58 139.98,46.81 141.71,45.08 143.49,43.39 145.34,41.74 147.27,40.13 149.28,38.55 151.4,37 153.65,35.47 156.01,33.96 158.47,32.47 161,31.02 163.59,29.63 166.2,28.3 168.83,27.06 171.44,25.9 174.21,24.81 177.23,23.78 180.37,22.81 183.49,21.91 186.45,21.09 189.12,20.38 191.36,19.78 193.04,19.3" fill="none" stroke="#1a8c1a" stroke-width="1.3" stroke-linejoin="round" />
<polyline points="64.5,121.46 67.14,114.31 70.38,117.86 72.91,130.35 75.1,117.43 77.2,127.35 80.09,121.05 83.26,115.36 85.45,120.57 87.88,130.48 90.37,128.93 93,128.38 95.16,130.81 97.57,126.91 100,112 100.21,111.63 100.48,111.14 100.79,110.57 101.15,109.92 101.55,109.22 101.98,108.49 102.44,107.74 102.92,107 103.41,106.31 103.91,105.68 104.44,105.06 105,104.39 105.61,103.63 106.27,102.72 107,101.63 107.81,100.3 108.71,98.69 109.71,96.82 110.77,94.75 111.89,92.55 113.05,90.27 114.22,87.96 115.39,85.68 116.54,83.5 117.67,81.37 118.8,79.22 119.94,77.06 121.09,74.9 122.26,72.75 123.46,70.6 124.69,68.49 125.97,66.4 127.27,64.33 128.59,62.26 129.94,60.21 131.32,58.17 132.74,56.16 134.21,54.19 135.73,52.27 137.31,50.4 138.93,48.58 140.58,46.81 142.28,45.08 144.02,43.39 145.83,41.74 147.72,40.13 149.71,38.55 151.79,37 154,35.47 156.33,33.96 158.76,32.47 161.27,31.02 163.83,29.63 166.44,28.3 169.07,27.06 171.68,25.9 174.45,24.81 177.47,23.78 180.61,22.81 183.73,21.91 186.69,21.09 189.36,20.38 191.6,19.78 193.28,19.3" fill="none" stroke="#ff1a1a" stroke-width="1.3" stroke-linejoin="round" />
<polyline points="64.5,113.09 67.09,122.3 68,121 70,143 72,123 72.72,124.44 74.95,138.45 78.07,139.82 80.84,125.15 84.44,113.35 87.62,128.2 90.74,126.28 93.31,124.33 95.5,121 97.5,143 99.5,123 100.08,122.31 102,112 102.2,111.63 102.46,111.14 102.76,110.57 103.11,109.92 103.49,109.22 103.91,108.49 104.35,107.74 104.81,107 105.29,106.31 105.78,105.68 106.29,105.06 106.84,104.39 107.43,103.63 108.07,102.72 108.78,101.63 109.56,100.3 110.43,98.69 111.38,96.82 112.4,94.75 113.48,92.55 114.58,90.27 115.7,87.96 116.83,85.68 117.93,83.5 119.02,81.37 120.1,79.22 121.19,77.06 122.29,74.9 123.42,72.75 124.57,70.6 125.76,68.49 126.99,66.4 128.25,64.33 129.53,62.26 130.83,60.21 132.17,58.17 133.54,56.16 134.97,54.19 136.45,52.27 137.99,50.4 139.57,48.58 141.18,46.81 142.84,45.08 144.55,43.39 146.32,41.74 148.18,40.13 150.13,38.55 152.18,37 154.36,35.47 156.66,33.96 159.05,32.47 161.53,31.02 164.07,29.63 166.68,28.3 169.31,27.06 171.92,25.9 174.69,24.81 177.71,23.78 180.85,22.81 183.97,21.91 186.93,21.09 189.6,20.38 191.84,19.78 193.52,19.3" fill="none" stroke="#ff1aff" stroke-width="1.3" stroke-linejoin="round" />
<polyline points="64.5,92.27 67.25,91.88 70.06,93.49 72.55,96.95 74.62,98.21 75.7,118 77.7,142 79.7,120 79.91,101.09 83.25,103.5 86.31,117.23 89.91,126.92 90.3,118 92.3,142 94.3,120 95.5,110.26 98.15,124.24 101.5,118 104.5,112 104.69,111.63 104.94,111.14 105.23,110.57 105.55,109.92 105.92,109.22 106.31,108.49 106.73,107.74 107.18,107 107.64,106.31 108.11,105.68 108.61,105.06 109.13,104.39 109.7,103.63 110.32,102.72 111,101.63 111.75,100.3 112.57,98.69 113.47,96.82 114.44,94.75 115.45,92.55 116.5,90.27 117.56,87.96 118.62,85.68 119.66,83.5 120.69,81.37 121.72,79.22 122.75,77.06 123.8,74.9 124.86,72.75 125.96,70.6 127.09,68.49 128.26,66.4 129.47,64.33 130.69,62.26 131.94,60.21 133.22,58.17 134.54,56.16 135.92,54.19 137.34,52.27 138.83,50.4 140.37,48.58 141.94,46.81 143.54,45.08 145.21,43.39 146.94,41.74 148.75,40.13 150.66,38.55 152.67,37 154.81,35.47 157.06,33.96 159.42,32.47 161.85,31.02 164.37,29.63 166.98,28.3 169.61,27.06 172.22,25.9 174.99,24.81 178.01,23.78 181.15,22.81 184.27,21.91 187.23,21.09 189.9,20.38 192.14,19.78 193.82,19.3" fill="none" stroke="#000000" stroke-width="1.3" stroke-linejoin="round" />
<polyline points="64.5,88.85 66.89,90.46 70.42,94.67 72.72,96.44 75.12,98.82 77.43,99.75 80.1,100.9 83.23,104.59 85.7,105.08 88.07,116.07 91.05,111.04 93.38,106.3 96,112 96.23,111.63 96.52,111.14 96.86,110.57 97.24,109.92 97.67,109.22 98.13,108.49 98.62,107.74 99.13,107 99.65,106.31 100.19,105.68 100.74,105.06 101.33,104.39 101.97,103.63 102.67,102.72 103.45,101.63 104.31,100.3 105.29,98.69 106.36,96.82 107.51,94.75 108.73,92.55 109.98,90.27 111.25,87.96 112.52,85.68 113.76,83.5 114.99,81.37 116.21,79.22 117.44,77.06 118.68,74.9 119.95,72.75 121.24,70.6 122.56,68.49 123.92,66.4 125.32,64.33 126.73,62.26 128.16,60.21 129.63,58.17 131.14,56.16 132.69,54.19 134.29,52.27 135.95,50.4 137.65,48.58 139.38,46.81 141.15,45.08 142.97,43.39 144.85,41.74 146.81,40.13 148.86,38.55 151.01,37 153.29,35.47 155.68,33.96 158.18,32.47 160.74,31.02 163.35,29.63 165.96,28.3 168.59,27.06 171.2,25.9 173.97,24.81 176.99,23.78 180.13,22.81 183.25,21.91 186.21,21.09 188.88,20.38 191.12,19.78 192.8,19.3" fill="none" stroke="#1a1aff" stroke-width="1.3" stroke-linejoin="round" />
<polyline points="64.5,88.95 66.72,92.57 69.86,93.4 72.58,96.62 75.58,100.63 79.15,115.14 81.2,139.46 84.11,112.56 86.14,109.45 88.18,121.93 90.41,107.84 93.12,118.34 95.5,112 95.73,111.63 96.02,111.14 96.36,110.57 96.75,109.92 97.19,109.22 97.65,108.49 98.15,107.74 98.66,107 99.19,106.31 99.72,105.68 100.28,105.06 100.87,104.39 101.51,103.63 102.22,102.72 103,101.63 103.88,100.3 104.86,98.69 105.94,96.82 107.11,94.75 108.33,92.55 109.6,90.27 110.88,87.96 112.16,85.68 113.42,83.5 114.65,81.37 115.89,79.22 117.13,77.06 118.38,74.9 119.66,72.75 120.96,70.6 122.29,68.49 123.67,66.4 125.07,64.33 126.5,62.26 127.94,60.21 129.42,58.17 130.94,56.16 132.5,54.19 134.11,52.27 135.78,50.4 137.49,48.58 139.23,46.81 141.01,45.08 142.83,43.39 144.73,41.74 146.69,40.13 148.75,38.55 150.91,37 153.2,35.47 155.6,33.96 158.1,32.47 160.68,31.02 163.29,29.63 165.9,28.3 168.53,27.06 171.14,25.9 173.91,24.81 176.93,23.78 180.07,22.81 183.19,21.91 186.15,21.09 188.82,20.38 191.06,19.78 192.74,19.3" fill="none" stroke="#22228a" stroke-width="1.3" stroke-linejoin="round" />
</g>
<g clip-path="url(#clipB)">
<polyline points="66,315 69.09,315.94 72.45,322.91 75.77,316.92 78.36,319.89 80.71,323.06 82.85,325.91 85.72,317.62 89.25,318.19 92.51,324.42 95.2,318.07 97.8,324.63 100.14,317.18 103.63,314.71 106,315 106.32,314.52 106.72,313.96 107.19,313.3 107.73,312.53 108.34,311.62 109.01,310.57 109.74,309.37 110.53,308 111.39,306.42 112.33,304.62 113.34,302.64 114.41,300.54 115.52,298.34 116.68,296.09 117.86,293.83 119.06,291.6 120.31,289.37 121.65,287.1 123.03,284.78 124.44,282.43 125.91,280.04 127.45,277.64 129.07,275.22 130.78,272.8 132.56,270.33 134.39,267.77 136.28,265.18 138.25,262.58 140.31,260.01 142.47,257.5 144.76,255.08 147.18,252.8 149.77,250.61 152.54,248.46 155.45,246.38 158.46,244.37 161.52,242.46 164.6,240.67 167.67,239.01 170.68,237.5 173.82,236.14 177.21,234.9 180.7,233.79 184.15,232.79 187.42,231.92 190.36,231.16 192.83,230.53 194.68,230" fill="none" stroke="#000000" stroke-width="1.3" stroke-linejoin="round" />
<polyline points="66,314.36 68.7,319.6 71.54,321.83 74.5,318.76 77.58,316.11 80.9,323.42 83.61,316.24 85.9,320.76 89.3,314.62 92.18,319.18 94.2,323.12 96.45,322.95 98.47,319.63 101.06,313.27 104.1,314.78 105.3,315 105.63,314.52 106.05,313.96 106.53,313.3 107.09,312.53 107.72,311.62 108.42,310.57 109.18,309.37 110,308 110.9,306.42 111.88,304.62 112.94,302.64 114.06,300.54 115.23,298.34 116.44,296.09 117.68,293.83 118.94,291.6 120.22,289.37 121.57,287.1 122.94,284.78 124.36,282.43 125.83,280.04 127.37,277.64 128.98,275.22 130.7,272.8 132.48,270.33 134.31,267.77 136.2,265.18 138.16,262.58 140.22,260.01 142.39,257.5 144.67,255.08 147.1,252.8 149.69,250.61 152.46,248.46 155.37,246.38 158.37,244.37 161.43,242.46 164.52,240.67 167.59,239.01 170.6,237.5 173.74,236.14 177.12,234.9 180.61,233.79 184.06,232.79 187.33,231.92 190.27,231.16 192.74,230.53 194.6,230" fill="none" stroke="#ff1a1a" stroke-width="1.3" stroke-linejoin="round" />
<polyline points="66,319.59 68.25,320.88 71.27,318.14 73.82,314.36 76.27,318.33 79.82,314.11 82.05,313.3 84.93,317.9 88.06,313.35 91.46,319.73 94.58,319.41 97.29,320.26 100.39,314.98 104,315 104.36,314.52 104.79,313.96 105.31,313.3 105.91,312.53 106.58,311.62 107.32,310.57 108.14,309.37 109.02,308 109.99,306.42 111.06,304.62 112.21,302.64 113.42,300.54 114.69,298.34 116.01,296.09 117.35,293.83 118.71,291.6 120.07,289.37 121.41,287.1 122.79,284.78 124.2,282.43 125.67,280.04 127.21,277.64 128.83,275.22 130.54,272.8 132.32,270.33 134.15,267.77 136.04,265.18 138.01,262.58 140.07,260.01 142.23,257.5 144.52,255.08 146.94,252.8 149.53,250.61 152.3,248.46 155.21,246.38 158.22,244.37 161.28,242.46 164.36,240.67 167.43,239.01 170.44,237.5 173.58,236.14 176.97,234.9 180.46,233.79 183.91,232.79 187.18,231.92 190.12,231.16 192.59,230.53 194.44,230" fill="none" stroke="#ff1aff" stroke-width="1.3" stroke-linejoin="round" />
<polyline points="66,325.95 69.44,316.36 71.86,316.52 74.94,317.28 77.06,323.94 80.3,319.45 82.81,319.82 86.2,314.7 89.64,317.86 92.59,323.95 95.83,315.86 98,315.63 100.63,314.85 103.5,315 103.86,314.52 104.31,313.96 104.84,313.3 105.45,312.53 106.14,311.62 106.9,310.57 107.74,309.37 108.65,308 109.65,306.42 110.74,304.62 111.92,302.64 113.18,300.54 114.49,298.34 115.84,296.09 117.22,293.83 118.62,291.6 120.01,289.37 121.35,287.1 122.73,284.78 124.14,282.43 125.61,280.04 127.15,277.64 128.77,275.22 130.48,272.8 132.26,270.33 134.09,267.77 135.98,265.18 137.95,262.58 140.01,260.01 142.17,257.5 144.46,255.08 146.88,252.8 149.47,250.61 152.24,248.46 155.15,246.38 158.16,244.37 161.22,242.46 164.3,240.67 167.37,239.01 170.38,237.5 173.52,236.14 176.91,234.9 180.4,233.79 183.85,232.79 187.12,231.92 190.06,231.16 192.53,230.53 194.38,230" fill="none" stroke="#1a8c1a" stroke-width="1.3" stroke-linejoin="round" />
<polyline points="66,327.8 69.09,325.58 71.52,326.4 73.76,323.41 76.42,318.12 79.08,326.43 81.86,322.31 84.23,319.17 87.27,316.62 90.81,316.88 94.36,322.25 97.69,321.63 100.11,319.7 103.32,317.24 104.5,315 104.85,314.52 105.28,313.96 105.78,313.3 106.36,312.53 107.02,311.62 107.74,310.57 108.54,309.37 109.4,308 110.34,306.42 111.38,304.62 112.49,302.64 113.67,300.54 114.9,298.34 116.18,296.09 117.48,293.83 118.8,291.6 120.13,289.37 121.47,287.1 122.85,284.78 124.26,282.43 125.73,280.04 127.27,277.64 128.89,275.22 130.6,272.8 132.38,270.33 134.21,267.77 136.1,265.18 138.07,262.58 140.13,260.01 142.29,257.5 144.58,255.08 147,252.8 149.59,250.61 152.36,248.46 155.27,246.38 158.28,244.37 161.34,242.46 164.42,240.67 167.49,239.01 170.5,237.5 173.64,236.14 177.03,234.9 180.52,233.79 183.97,232.79 187.24,231.92 190.18,231.16 192.65,230.53 194.5,230" fill="none" stroke="#1a1aff" stroke-width="1.3" stroke-linejoin="round" />
<polyline points="66,320.23 68.05,318.3 71.2,316.16 73.32,320.72 76.29,314.29 78.67,321.36 81.72,315.7 85.11,311.01 87.55,317.42 90.1,320.61 93.55,317.56 96.3,314.26 98.95,311.65 101.52,317.39 103,315 103.37,314.52 103.83,313.96 104.37,313.3 104.99,312.53 105.7,311.62 106.48,310.57 107.34,309.37 108.27,308 109.3,306.42 110.43,304.62 111.64,302.64 112.93,300.54 114.28,298.34 115.67,296.09 117.1,293.83 118.54,291.6 119.95,289.37 121.29,287.1 122.67,284.78 124.08,282.43 125.55,280.04 127.09,277.64 128.71,275.22 130.42,272.8 132.2,270.33 134.03,267.77 135.92,265.18 137.89,262.58 139.95,260.01 142.11,257.5 144.4,255.08 146.82,252.8 149.41,250.61 152.18,248.46 155.09,246.38 158.09,244.37 161.16,242.46 164.24,240.67 167.31,239.01 170.32,237.5 173.46,236.14 176.85,234.9 180.34,233.79 183.79,232.79 187.06,231.92 190,231.16 192.47,230.53 194.32,230" fill="none" stroke="#22228a" stroke-width="1.3" stroke-linejoin="round" />
<polyline points="65,300.18 67.13,300.72 69.34,301.48 72.07,305.04 74.74,306.03 76.84,308.53 79.83,311.12 82.42,320.01 84.92,313.2 88.07,320.27 91.1,314.55 93.62,323.42 95.8,349.62 98.72,323.49 101.31,316.04 104.55,319.69 106,315 106.32,314.52 106.72,313.96 107.19,313.3 107.73,312.53 108.34,311.62 109.01,310.57 109.74,309.37 110.53,308 111.39,306.42 112.33,304.62 113.34,302.64 114.41,300.54 115.52,298.34 116.68,296.09 117.86,293.83 119.06,291.6 120.31,289.37 121.65,287.1 123.03,284.78 124.44,282.43 125.91,280.04 127.45,277.64 129.07,275.22 130.78,272.8 132.56,270.33 134.39,267.77 136.28,265.18 138.25,262.58 140.31,260.01 142.47,257.5 144.76,255.08 147.18,252.8 149.77,250.61 152.54,248.46 155.45,246.38 158.46,244.37 161.52,242.46 164.6,240.67 167.67,239.01 170.68,237.5 173.82,236.14 177.21,234.9 180.7,233.79 184.15,232.79 187.42,231.92 190.36,231.16 192.83,230.53 194.68,230" fill="none" stroke="#000000" stroke-width="1.3" stroke-linejoin="round" />
<polyline points="65,296.99 67.38,298.48 70.89,300.11 73.56,304.46 77.12,307.3 80.7,324.49 84.26,319.28 86,321 88,350 90,323 92.04,321.41 94.91,325.38 97.58,326.61 100.13,326.49 103.56,323.63 105.3,315 105.63,314.52 106.05,313.96 106.53,313.3 107.09,312.53 107.72,311.62 108.42,310.57 109.18,309.37 110,308 110.9,306.42 111.88,304.62 112.94,302.64 114.06,300.54 115.23,298.34 116.44,296.09 117.68,293.83 118.94,291.6 120.22,289.37 121.57,287.1 122.94,284.78 124.36,282.43 125.83,280.04 127.37,277.64 128.98,275.22 130.7,272.8 132.48,270.33 134.31,267.77 136.2,265.18 138.16,262.58 140.22,260.01 142.39,257.5 144.67,255.08 147.1,252.8 149.69,250.61 152.46,248.46 155.37,246.38 158.37,244.37 161.43,242.46 164.52,240.67 167.59,239.01 170.6,237.5 173.74,236.14 177.12,234.9 180.61,233.79 184.06,232.79 187.33,231.92 190.27,231.16 192.74,230.53 194.6,230" fill="none" stroke="#ff1a1a" stroke-width="1.3" stroke-linejoin="round" />
<polyline points="65,325.58 68.4,325.09 71.65,322.43 74.11,317.48 76.6,326.44 79.22,318.87 81.98,320.75 84.43,314.25 86.85,324.93 89.02,319.48 91.93,319.19 94.34,324.91 97.92,346.96 100.36,318.07 104,315 104.36,314.52 104.79,313.96 105.31,313.3 105.91,312.53 106.58,311.62 107.32,310.57 108.14,309.37 109.02,308 109.99,306.42 111.06,304.62 112.21,302.64 113.42,300.54 114.69,298.34 116.01,296.09 117.35,293.83 118.71,291.6 120.07,289.37 121.41,287.1 122.79,284.78 124.2,282.43 125.67,280.04 127.21,277.64 128.83,275.22 130.54,272.8 132.32,270.33 134.15,267.77 136.04,265.18 138.01,262.58 140.07,260.01 142.23,257.5 144.52,255.08 146.94,252.8 149.53,250.61 152.3,248.46 155.21,246.38 158.22,244.37 161.28,242.46 164.36,240.67 167.43,239.01 170.44,237.5 173.58,236.14 176.97,234.9 180.46,233.79 183.91,232.79 187.18,231.92 190.12,231.16 192.59,230.53 194.44,230" fill="none" stroke="#ff1aff" stroke-width="1.3" stroke-linejoin="round" />
<polyline points="65,310.27 67.63,318.51 69.76,321.81 72.03,322.67 74.32,309.27 76.54,319.25 79.68,316.98 82.99,317.44 85.52,310.88 88.89,311.89 89.5,316 91.5,350 93.5,318 94.77,315.1 97.81,319.43 100.31,321.41 103.5,315 103.86,314.52 104.31,313.96 104.84,313.3 105.45,312.53 106.14,311.62 106.9,310.57 107.74,309.37 108.65,308 109.65,306.42 110.74,304.62 111.92,302.64 113.18,300.54 114.49,298.34 115.84,296.09 117.22,293.83 118.62,291.6 120.01,289.37 121.35,287.1 122.73,284.78 124.14,282.43 125.61,280.04 127.15,277.64 128.77,275.22 130.48,272.8 132.26,270.33 134.09,267.77 135.98,265.18 137.95,262.58 140.01,260.01 142.17,257.5 144.46,255.08 146.88,252.8 149.47,250.61 152.24,248.46 155.15,246.38 158.16,244.37 161.22,242.46 164.3,240.67 167.37,239.01 170.38,237.5 173.52,236.14 176.91,234.9 180.4,233.79 183.85,232.79 187.12,231.92 190.06,231.16 192.53,230.53 194.38,230" fill="none" stroke="#1a8c1a" stroke-width="1.3" stroke-linejoin="round" />
<polyline points="65,321.62 67.38,314.13 70.62,317.8 73.94,311.52 76.47,317.83 78.87,323.32 81.77,317.59 84.66,316.59 87.81,310.06 91.07,311.99 93.4,319.54 96.12,315.92 99,317 101,350 103,319 104.5,315 104.85,314.52 105.28,313.96 105.78,313.3 106.36,312.53 107.02,311.62 107.74,310.57 108.54,309.37 109.4,308 110.34,306.42 111.38,304.62 112.49,302.64 113.67,300.54 114.9,298.34 116.18,296.09 117.48,293.83 118.8,291.6 120.13,289.37 121.47,287.1 122.85,284.78 124.26,282.43 125.73,280.04 127.27,277.64 128.89,275.22 130.6,272.8 132.38,270.33 134.21,267.77 136.1,265.18 138.07,262.58 140.13,260.01 142.29,257.5 144.58,255.08 147,252.8 149.59,250.61 152.36,248.46 155.27,246.38 158.28,244.37 161.34,242.46 164.42,240.67 167.49,239.01 170.5,237.5 173.64,236.14 177.03,234.9 180.52,233.79 183.97,232.79 187.24,231.92 190.18,231.16 192.65,230.53 194.5,230" fill="none" stroke="#1a1aff" stroke-width="1.3" stroke-linejoin="round" />
<polyline points="65,296.52 68.33,299.6 71.54,301.76 73,318 75,351 77,320 79.65,310.86 82.57,324.55 85.57,316.99 89.04,324.74 91.73,311.88 94,318 96,351 98,320 99.59,320.92 103,315 103.37,314.52 103.83,313.96 104.37,313.3 104.99,312.53 105.7,311.62 106.48,310.57 107.34,309.37 108.27,308 109.3,306.42 110.43,304.62 111.64,302.64 112.93,300.54 114.28,298.34 115.67,296.09 117.1,293.83 118.54,291.6 119.95,289.37 121.29,287.1 122.67,284.78 124.08,282.43 125.55,280.04 127.09,277.64 128.71,275.22 130.42,272.8 132.2,270.33 134.03,267.77 135.92,265.18 137.89,262.58 139.95,260.01 142.11,257.5 144.4,255.08 146.82,252.8 149.41,250.61 152.18,248.46 155.09,246.38 158.09,244.37 161.16,242.46 164.24,240.67 167.31,239.01 170.32,237.5 173.46,236.14 176.85,234.9 180.34,233.79 183.79,232.79 187.06,231.92 190,231.16 192.47,230.53 194.32,230" fill="none" stroke="#22228a" stroke-width="1.3" stroke-linejoin="round" />
</g>
<g clip-path="url(#clipC)">
<polyline points="299.7,34.7 302.19,35.23 305.6,35.9 309.66,36.73 314.1,37.7 318.63,38.83 323,40.1 327.35,41.54 331.93,43.15 336.61,44.91 341.27,46.8 345.78,48.8 350,50.9 353.96,53.1 357.77,55.42 361.43,57.85 364.93,60.39 368.29,63.04 371.5,65.8 374.54,68.71 377.39,71.77 380.1,74.95 382.7,78.18 385.22,81.42 387.7,84.6 390.15,87.74 392.55,90.89 394.88,94.04 397.1,97.2 399.22,100.35 401.2,103.5 403.06,106.82 404.82,110.33 406.47,113.84 407.99,117.53 410.6,123.13 412.6,126.05 414.58,127.99 416.2,132.29 418.8,158 421.4,128.08 429.15,118" fill="none" stroke="#000000" stroke-width="1.25" stroke-linejoin="round" />
<polyline points="299.7,35.52 302.19,36.12 305.6,36.9 309.66,37.86 314.07,38.97 318.55,40.23 322.8,41.64 326.97,43.21 331.3,44.96 335.71,46.86 340.06,48.89 344.26,51.02 348.2,53.22 351.88,55.51 355.39,57.9 358.75,60.39 361.97,62.98 365.04,65.66 368,68.44 370.81,71.35 373.45,74.42 375.95,77.58 378.36,80.78 380.68,83.96 382.96,87.08 385.19,90.14 387.36,93.2 389.45,96.24 391.45,99.26 393.36,102.25 395.16,105.2 396.86,108.24 398.47,111.42 399.99,114.56 401.4,118.84 403.88,122.67 405.92,126.04 408.13,125.29 408.4,128.46 411,146 413.6,127.29 414.97,126.73 417.16,132.33 420,126.28 429.15,130" fill="none" stroke="#ff1a1a" stroke-width="1.25" stroke-linejoin="round" />
<polyline points="299.7,36.18 302.18,36.84 305.6,37.71 309.66,38.76 314.06,39.98 318.48,41.36 322.64,42.87 326.66,44.55 330.8,46.41 334.98,48.43 339.1,50.56 343.06,52.79 346.76,55.08 350.21,57.43 353.49,59.88 356.61,62.42 359.59,65.05 362.45,67.76 365.2,70.55 367.82,73.47 370.29,76.54 372.64,79.68 374.89,82.86 377.05,86 379.17,89.06 381.23,92.06 383.21,95.04 385.11,98 386.93,100.91 388.67,103.77 390.33,106.56 391.9,109.39 393.39,112.28 394.8,116.02 397.36,119.06 399.58,123.88 401.5,124.21 403.48,125.15 406.5,126.68 408.6,132.86 411.62,127.31 414.77,129.31 417,126.64 429.15,108" fill="none" stroke="#1a8c1a" stroke-width="1.25" stroke-linejoin="round" />
<polyline points="299.7,36.59 302.18,37.29 305.6,38.21 309.66,39.33 314.05,40.62 318.44,42.06 322.54,43.64 326.47,45.39 330.49,47.32 334.53,49.4 338.49,51.61 342.3,53.9 345.86,56.24 349.17,58.63 352.3,61.12 355.28,63.69 358.11,66.34 360.83,69.07 363.45,71.87 365.95,74.8 368.32,77.86 370.57,81 372.72,84.15 374.79,87.28 376.8,90.3 378.74,93.26 380.61,96.2 382.4,99.1 384.11,101.94 385.74,104.72 387.31,107.41 388.8,110.1 390.22,112.83 391.56,116.81 394.03,120.74 396.22,124.78 398.2,126.36 400.28,125.94 402.59,126.33 404.59,125.52 406.81,129.82 408.62,130.42 409.4,131.64 412,148 414.6,125.53 416.08,128.85 418.86,125.46 422.03,125.18 424.88,131.76 426.7,131.3 429.02,129.63 429.15,125.37" fill="none" stroke="#ff1aff" stroke-width="1.25" stroke-linejoin="round" />
<polyline points="299.7,36.83 302.18,37.56 305.6,38.51 309.66,39.67 314.04,41 318.42,42.49 322.48,44.1 326.35,45.89 330.3,47.86 334.26,49.99 338.13,52.24 341.85,54.56 345.32,56.93 348.55,59.36 351.59,61.86 354.48,64.45 357.22,67.12 359.86,69.85 362.4,72.66 364.83,75.59 367.14,78.65 369.32,81.78 371.41,84.93 373.43,88.04 375.38,91.05 377.26,93.98 379.05,96.89 380.77,99.76 382.41,102.56 383.99,105.29 385.5,107.92 386.94,110.53 388.31,113.15 389.62,114.74 392.02,121.54 394.2,122.38 396.22,125.85 398.36,127.77 401.48,127.76 403.78,129.2 406.66,125.86 409.51,131.38 412.51,125.29 415.64,125.73 417.91,129.89 421,127.72 421,129.36 429.15,126" fill="none" stroke="#1a1aff" stroke-width="1.25" stroke-linejoin="round" />
<polyline points="299.7,37.16 302.18,37.92 305.6,38.91 309.66,40.12 314.03,41.51 318.38,43.05 322.4,44.72 326.2,46.56 330.05,48.59 333.89,50.77 337.65,53.07 341.24,55.45 344.6,57.86 347.71,60.32 350.64,62.85 353.41,65.47 356.04,68.15 358.56,70.9 361,73.72 363.34,76.65 365.56,79.71 367.67,82.84 369.68,85.97 371.61,89.06 373.48,92.04 375.27,94.94 376.98,97.81 378.6,100.64 380.15,103.39 381.64,106.05 383.08,108.6 384.46,111.1 385.77,113.59 387.02,115.42 389.36,119.64 391.51,122.21 393.58,123.69 395.24,124.95 398,132.97 400.03,125.39 403.21,129.27 405.58,126.9 408.21,131.61 410.65,128.37 412.53,132.33 414.37,128.95 417.35,126.04 417.7,128.13 420.3,158 422.9,131.82 429.15,122" fill="none" stroke="#000000" stroke-width="1.25" stroke-linejoin="round" />
<polyline points="299.7,35.85 302.18,36.48 305.6,37.31 309.66,38.31 314.07,39.48 318.52,40.8 322.72,42.26 326.81,43.88 331.05,45.69 335.34,47.64 339.58,49.72 343.66,51.9 347.48,54.15 351.05,56.47 354.44,58.89 357.68,61.4 360.78,64.01 363.75,66.71 366.6,69.5 369.31,72.41 371.87,75.48 374.3,78.63 376.62,81.82 378.87,84.98 381.06,88.07 383.21,91.1 385.28,94.12 387.28,97.12 389.19,100.09 391.02,103.01 392.74,105.88 394.38,108.82 395.93,111.85 397.39,114.84 398.76,116.47 401.19,121.95 403.25,123.66 404.92,127 407.13,128.63 410.33,131.82 413.49,128.63 415.98,130.84 418.45,127.33 420.81,126.17 423.14,132.91 426.29,130.02 428.78,127.71 429.15,127.18" fill="none" stroke="#ff1a1a" stroke-width="1.25" stroke-linejoin="round" />
<polyline points="299.7,37.49 302.17,38.28 305.6,39.32 309.66,40.57 314.02,42.01 318.35,43.61 322.32,45.34 326.04,47.22 329.8,49.31 333.53,51.55 337.17,53.91 340.64,56.33 343.88,58.79 346.88,61.28 349.69,63.85 352.34,66.48 354.85,69.18 357.26,71.95 359.6,74.78 361.85,77.71 363.98,80.77 366.01,83.89 367.94,87.01 369.8,90.08 371.58,93.03 373.29,95.9 374.9,98.74 376.43,101.52 377.89,104.22 379.3,106.81 380.66,109.28 381.98,111.67 383.23,114.02 384.43,117.11 386.69,121.31 388.82,122.64 390.94,125.69 392.66,126.74 395.43,130.31 398.3,127.91 401.08,127.25 403.56,131.16 406.33,127.35 409.45,130.2 412.07,125.09 414.63,127.01 417.37,128.7 420,130.18 429.15,133" fill="none" stroke="#ff1aff" stroke-width="1.25" stroke-linejoin="round" />
<polyline points="299.7,37.82 302.17,38.64 305.6,39.72 309.66,41.02 314.01,42.52 318.32,44.18 322.24,45.95 325.89,47.89 329.55,50.04 333.17,52.34 336.68,54.75 340.03,57.22 343.16,59.72 346.05,62.24 348.74,64.84 351.27,67.5 353.67,70.22 355.97,73 358.2,75.83 360.35,78.77 362.4,81.83 364.35,84.94 366.21,88.05 367.98,91.1 369.69,94.02 371.3,96.86 372.82,99.66 374.26,102.39 375.63,105.04 376.96,107.57 378.25,109.96 379.5,112.24 380.69,114.46 381.84,117.44 384.02,119.77 386.13,123.37 388.3,125.43 390.08,126.82 392.37,131.74 395.39,130.51 398.56,132.65 401.08,129.23 403.12,131.69 404.4,126.57 407,150 409.6,127.37 411.82,126.37 414.71,129.65 417.44,128.37 420.12,131.2 422.81,130.76 424.65,126.28 427.06,130.2 429.15,130.49" fill="none" stroke="#22228a" stroke-width="1.25" stroke-linejoin="round" />
<polyline points="299.7,38.14 302.17,39 305.6,40.12 309.66,41.48 314,43.03 318.28,44.74 322.16,46.57 325.73,48.56 329.3,50.76 332.81,53.12 336.2,55.58 339.43,58.11 342.44,60.64 345.21,63.2 347.79,65.83 350.2,68.51 352.48,71.25 354.67,74.05 356.8,76.89 358.86,79.83 360.82,82.88 362.69,85.99 364.47,89.09 366.17,92.12 367.79,95.02 369.32,97.82 370.75,100.58 372.09,103.27 373.37,105.87 374.61,108.33 375.83,110.64 377.02,112.82 378.15,114.89 379.25,117.23 381.35,118.86 383.45,122.74 385.66,123.77 387.5,124.41 389.49,127.54 391.55,126.55 393.4,128.72 395.73,129.89 398.35,126.9 401.42,125.01 403.79,127.23 406.16,125.92 409.12,127.99 410.97,129.91 411.9,131.69 414.5,152 417.1,130.56 418.32,131.55 420.71,131.5 423.41,127.96 425.41,129.77 428,132.66 429.15,129.87" fill="none" stroke="#1a8c1a" stroke-width="1.25" stroke-linejoin="round" />
<polyline points="299.7,38.47 302.17,39.35 305.6,40.52 309.66,41.93 313.99,43.54 318.25,45.3 322.08,47.18 325.58,49.23 329.05,51.49 332.44,53.9 335.72,56.42 338.82,58.99 341.72,61.57 344.38,64.17 346.84,66.82 349.13,69.53 351.3,72.29 353.37,75.09 355.4,77.94 357.37,80.89 359.24,83.94 361.03,87.04 362.74,90.13 364.36,93.14 365.9,96.01 367.34,98.78 368.67,101.5 369.92,104.15 371.11,106.69 372.27,109.09 373.42,111.32 374.54,113.39 375.61,114.88 377.67,119.95 379.69,120.07 381.89,122.49 384.05,125.32 386.71,126.13 389.39,132.13 391.72,128.45 393.84,127.33 397,128.04 400.15,132.31 402.2,129.61 404.8,158 407.4,130.67 408.33,127.55 411.51,128.93 413.71,128.82 415.68,129.97 418,127.34 429.15,112" fill="none" stroke="#1a1aff" stroke-width="1.25" stroke-linejoin="round" />
<polyline points="299.7,38.8 302.16,39.71 305.6,40.92 309.66,42.38 313.99,44.04 318.22,45.87 322,47.8 325.43,49.9 328.8,52.21 332.08,54.68 335.23,57.26 338.22,59.88 341,62.5 343.55,65.13 345.89,67.81 348.06,70.54 350.11,73.32 352.08,76.14 354,79 355.88,81.95 357.67,85 359.38,88.09 361,91.17 362.54,94.16 364,97 365.35,99.74 366.59,102.43 367.75,105.03 368.85,107.52 369.93,109.85 371,112 372.06,113.96 373.07,116.6 375.04,119.89 377,120.04 379.22,123.63 381.44,124.34 384.55,131.26 386.7,127.14 388.71,132.91 390.92,129.86 393.39,130.16 396.03,130.95 398,131.08 400.22,129.27 402.49,127.37 405.03,128.71 406.8,130.06 409.4,157 412,128.86 412.12,128.64 415.2,132.1 417.77,125.12 420,128.42 429.15,111" fill="none" stroke="#22228a" stroke-width="1.25" stroke-linejoin="round" />
</g>
<g clip-path="url(#clipD)">
<polyline points="297.5,231.3 300.26,231.89 304.06,232.67 308.56,233.61 313.44,234.68 318.37,235.85 323,237.1 327.48,238.44 332.09,239.9 336.75,241.46 341.35,243.1 345.8,244.82 350,246.6 353.96,248.42 357.77,250.29 361.43,252.23 364.93,254.27 368.29,256.42 371.5,258.7 374.51,261.12 377.29,263.65 379.93,266.29 382.5,269.05 385.06,271.92 387.7,274.9 390.46,278.05 393.3,281.39 396.14,284.83 398.9,288.31 401.51,291.76 403.9,295.1 406.06,298.39 408.07,301.71 409.92,305 411.63,308.19 413.22,311.21 414.7,314 416.05,316.51 418.34,321.11 420.19,324.4 422.36,329.95 424,328.52 427.35,322" fill="none" stroke="#000000" stroke-width="1.25" stroke-linejoin="round" />
<polyline points="297.5,231.53 300.26,232.16 304.08,233.01 308.6,234.02 313.48,235.17 318.4,236.44 323,237.78 327.42,239.22 331.95,240.78 336.51,242.46 341.01,244.22 345.36,246.06 349.46,247.95 353.33,249.89 357.04,251.88 360.6,253.95 364.01,256.1 367.28,258.36 370.42,260.73 373.37,263.22 376.11,265.82 378.72,268.52 381.25,271.32 383.77,274.21 386.35,277.19 389.04,280.32 391.78,283.61 394.52,287 397.19,290.4 399.71,293.76 402.01,296.99 404.1,300.16 406.03,303.33 407.81,306.45 409.47,309.46 411,312.31 412.43,314.95 413.74,317.43 415.98,323.16 417.8,324.42 419.95,329.01 421.6,330.3 423.46,329.27 426.24,329.71 427.35,327.94" fill="none" stroke="#ff1a1a" stroke-width="1.25" stroke-linejoin="round" />
<polyline points="297.5,231.81 300.27,232.5 304.1,233.41 308.64,234.52 313.53,235.77 318.44,237.14 323,238.6 327.35,240.15 331.78,241.85 336.23,243.66 340.6,245.56 344.82,247.54 348.81,249.57 352.57,251.65 356.16,253.79 359.61,256.01 362.91,258.3 366.07,260.69 369.12,263.17 372,265.75 374.7,268.43 377.26,271.19 379.75,274.04 382.22,276.96 384.73,279.94 387.32,283.04 389.96,286.28 392.59,289.59 395.13,292.91 397.54,296.15 399.74,299.26 401.74,302.27 403.58,305.26 405.29,308.19 406.86,310.99 408.33,313.64 409.71,315.3 412.11,319.37 414.08,324.37 415.72,328.49 417.6,329.52 420.48,329.3 423.32,327.61 425.53,331.05 427.35,329.53" fill="none" stroke="#000000" stroke-width="1.25" stroke-linejoin="round" />
<polyline points="297.5,231.99 300.28,232.72 304.12,233.68 308.66,234.85 313.56,236.17 318.46,237.61 323,239.14 327.3,240.78 331.67,242.56 336.04,244.46 340.33,246.46 344.47,248.53 348.38,250.65 352.06,252.82 355.58,255.06 358.94,257.38 362.17,259.77 365.27,262.24 368.26,264.79 371.09,267.43 373.75,270.16 376.29,272.98 378.75,275.86 381.18,278.79 383.65,281.77 386.18,284.85 388.75,288.06 391.3,291.33 393.76,294.58 396.09,297.75 398.23,300.77 400.17,303.68 401.95,306.55 403.6,309.34 405.13,312.02 406.55,314.53 407.89,315.61 410.25,320.34 412.18,323.74 413.8,326.64 415.67,330.16 417.75,332.32 418.4,332.92 421,345 423.6,332 427.35,320" fill="none" stroke="#1a1aff" stroke-width="1.25" stroke-linejoin="round" />
<polyline points="297.5,232.17 300.28,232.94 304.13,233.95 308.69,235.18 313.6,236.57 318.49,238.08 323,239.68 327.25,241.4 331.56,243.27 335.85,245.26 340.06,247.35 344.11,249.52 347.95,251.73 351.56,254 355,256.34 358.28,258.75 361.43,261.24 364.47,263.79 367.4,266.41 370.18,269.12 372.81,271.9 375.31,274.76 377.75,277.67 380.15,280.62 382.57,283.6 385.04,286.67 387.54,289.84 390.01,293.06 392.39,296.25 394.65,299.35 396.72,302.28 398.6,305.09 400.32,307.85 401.92,310.5 403.4,313.04 404.78,315.42 406.07,316.18 408.38,321.32 410.28,326.09 412.58,327.07 414.21,329.74 416.18,330.47 419.23,328.22 421.04,327.5 423.6,327.1 425.52,329.98 427.35,329.52" fill="none" stroke="#ff1aff" stroke-width="1.25" stroke-linejoin="round" />
<polyline points="297.5,232.36 300.29,233.16 304.15,234.22 308.72,235.51 313.63,236.96 318.51,238.55 323,240.23 327.21,242.02 331.45,243.97 335.66,246.06 339.79,248.25 343.76,250.51 347.52,252.81 351.05,255.17 354.41,257.61 357.62,260.12 360.7,262.7 363.66,265.34 366.53,268.04 369.27,270.8 371.86,273.64 374.34,276.54 376.75,279.48 379.12,282.45 381.49,285.43 383.9,288.48 386.33,291.62 388.72,294.79 391.03,297.92 393.2,300.94 395.21,303.79 397.02,306.51 398.69,309.14 400.23,311.66 401.66,314.06 403,316 405.43,320.7 407.49,322.46 409.2,326.64 411.27,327.84 412.96,330.1 416.1,327.33 418.68,330.64 420,328.61 427.35,316" fill="none" stroke="#22228a" stroke-width="1.25" stroke-linejoin="round" />
<polyline points="297.5,232.56 300.29,233.41 304.17,234.53 308.75,235.88 313.66,237.41 318.54,239.08 323,240.84 327.15,242.72 331.32,244.77 335.45,246.96 339.48,249.25 343.36,251.62 347.03,254.03 350.48,256.49 353.76,259.04 356.88,261.67 359.87,264.35 362.76,267.09 365.56,269.87 368.25,272.7 370.8,275.6 373.25,278.55 375.62,281.52 377.95,284.51 380.27,287.5 382.62,290.52 384.96,293.63 387.27,296.74 389.48,299.8 391.58,302.74 393.5,305.5 395.25,308.09 396.86,310.59 398.34,312.96 399.71,315.21 401,318.78 403.36,322.49 405.36,322.97 407.05,327.2 409.1,330.16 410.8,328.94 413.46,327.26 415.77,331.04 418.39,331.65 420.32,329.08 423.33,330.5 425.76,329.41 427.35,330.45" fill="none" stroke="#ff1a1a" stroke-width="1.25" stroke-linejoin="round" />
<polyline points="297.5,232.77 300.3,233.66 304.18,234.83 308.78,236.25 313.7,237.86 318.57,239.61 323,241.45 327.1,243.42 331.2,245.57 335.24,247.86 339.18,250.26 342.96,252.73 346.54,255.24 349.91,257.81 353.1,260.47 356.13,263.21 359.04,266 361.85,268.84 364.59,271.69 367.23,274.59 369.74,277.55 372.16,280.55 374.5,283.57 376.79,286.58 379.06,289.56 381.33,292.56 383.6,295.63 385.81,298.69 387.94,301.68 389.95,304.53 391.8,307.2 393.49,309.68 395.02,312.04 396.44,314.27 397.76,314.91 400.17,320.98 402.3,322.68 404.11,325.53 406.32,327.46 407.95,329.19 410.21,327.53 412.89,327.62 415.79,327.15 418.68,331.85 421.18,331.26 422,331.43 427.35,327" fill="none" stroke="#1a8c1a" stroke-width="1.25" stroke-linejoin="round" />
<polyline points="297.5,232.96 300.3,233.88 304.2,235.1 308.81,236.58 313.73,238.26 318.59,240.08 323,242 327.05,244.05 331.08,246.28 335.05,248.66 338.9,251.15 342.61,253.72 346.11,256.32 349.4,258.99 352.51,261.75 355.47,264.58 358.31,267.47 361.05,270.39 363.72,273.32 366.32,276.27 368.8,279.29 371.18,282.33 373.5,285.38 375.76,288.41 377.98,291.39 380.19,294.38 382.39,297.41 384.52,300.42 386.57,303.35 388.51,306.13 390.29,308.71 391.91,311.09 393.39,313.33 394.76,315.43 396.03,317.15 398.36,320.03 400.43,325.1 402.21,325.69 404.39,327.97 406.03,330.41 408.35,331.01 410.39,332.06 412.55,327.3 414.4,327.64 417,342 419.6,329.09 421.49,327.07 423.37,328.25 425.72,330.67 427.35,329.13" fill="none" stroke="#ff1aff" stroke-width="1.25" stroke-linejoin="round" />
<polyline points="297.5,233.14 300.31,234.1 304.22,235.37 308.83,236.91 313.76,238.65 318.62,240.55 323,242.54 327.01,244.67 330.97,246.99 334.86,249.46 338.63,252.05 342.25,254.71 345.68,257.4 348.9,260.16 351.93,263.02 354.81,265.96 357.57,268.94 360.24,271.94 362.86,274.94 365.41,277.96 367.85,281.03 370.21,284.11 372.5,287.19 374.72,290.24 376.9,293.22 379.05,296.19 381.17,299.19 383.23,302.15 385.21,305.02 387.06,307.73 388.78,310.22 390.34,312.5 391.76,314.62 393.07,315.51 395.44,320.25 397.59,321.9 399.47,324.06 401.08,327.25 403.08,329.38 404.8,328.3 407.23,331.22 410.1,329.3 413.14,328.01 415.9,330.54 418.5,352 421.1,332.86 427.35,318" fill="none" stroke="#1a1aff" stroke-width="1.25" stroke-linejoin="round" />
<polyline points="297.5,233.37 300.31,234.38 304.24,235.71 308.87,237.32 313.8,239.15 318.65,241.14 323,243.22 326.95,245.45 330.83,247.88 334.62,250.46 338.29,253.16 341.81,255.94 345.14,258.75 348.26,261.63 351.2,264.61 353.98,267.67 356.65,270.77 359.24,273.88 361.78,276.97 364.27,280.06 366.67,283.2 369,286.34 371.25,289.46 373.43,292.53 375.55,295.51 377.63,298.46 379.66,301.42 381.62,304.32 383.49,307.1 385.26,309.72 386.89,312.11 388.38,314.27 389.73,316.62 392.12,318.43 394.27,323.39 396.23,324.01 397.93,325.12 400.06,327.44 401.7,329.13 404.28,329.33 406.33,329.89 409.45,330.21 412.57,327.17 415.76,332.33 418.32,330.14 420.87,332.46 422.77,330.86 425.32,328.8 427.35,331.32" fill="none" stroke="#1a8c1a" stroke-width="1.25" stroke-linejoin="round" />
<polyline points="297.5,233.6 300.32,234.65 304.26,236.05 308.9,237.74 313.84,239.65 318.68,241.72 323,243.9 326.89,246.23 330.69,248.76 334.39,251.46 337.95,254.28 341.36,257.18 344.6,260.1 347.63,263.09 350.47,266.2 353.16,269.39 355.73,272.61 358.23,275.82 360.7,279 363.13,282.17 365.49,285.37 367.78,288.57 370,291.73 372.14,294.82 374.2,297.8 376.2,300.73 378.14,303.64 380.01,306.48 381.78,309.19 383.45,311.72 385,314 386.41,314.84 388.86,320.08 390.99,322.14 392.97,324.54 394.75,326.66 397,326.66 398.81,329.34 401.13,332.27 403.26,331.94 406.08,330.75 409.11,327.22 411.74,330.68 414.49,329.44 416.39,328.13 417.1,327.05 419.7,364 422.3,332.72 423.39,330.21 425.22,331.65 427.35,331.7" fill="none" stroke="#22228a" stroke-width="1.25" stroke-linejoin="round" />
</g>
<g clip-path="url(#clipE)">
<polyline points="507,12 508.73,12 511.05,12 513.81,11.99 516.9,11.99 520.19,11.99 523.54,11.99 526.82,11.99 529.91,11.99 532.68,11.99 535,12 536.93,12.01 538.64,12.02 540.16,12.03 541.52,12.05 542.75,12.06 543.88,12.08 544.94,12.1 545.96,12.13 546.97,12.16 548,12.2 549.01,12.24 549.95,12.29 550.82,12.33 551.64,12.39 552.42,12.44 553.16,12.5 553.88,12.57 554.59,12.64 555.29,12.72 556,12.8 556.69,12.88 557.35,12.97 557.98,13.06 558.59,13.15 559.19,13.24 559.78,13.35 560.38,13.47 561,13.6 561.63,13.74 562.3,13.9 563.01,14.07 563.76,14.24 564.53,14.42 565.32,14.6 566.12,14.81 566.9,15.03 567.67,15.27 568.39,15.55 569.08,15.86 569.7,16.2 570.27,16.59 570.8,17.01 571.29,17.48 571.75,17.97 572.18,18.48 572.59,19.01 572.98,19.56 573.36,20.11 573.73,20.66 574.1,21.2 574.45,21.74 574.79,22.28 575.1,22.83 575.4,23.39 575.69,23.95 575.96,24.53 576.23,25.12 576.49,25.72 576.75,26.35 577,27 577.25,27.67 577.5,28.36 577.73,29.06 577.96,29.78 578.19,30.51 578.4,31.26 578.61,32.03 578.82,32.8 579.01,33.6 579.2,34.4 579.38,35.22 579.55,36.05 579.72,36.89 579.87,37.75 580.03,38.62 580.17,39.5 580.31,40.41 580.44,41.32 580.57,42.25 580.7,43.2 580.82,44.17 580.94,45.16 581.05,46.17 581.15,47.2 581.25,48.24 581.35,49.29 581.44,50.35 581.53,51.4 581.61,52.46 581.7,53.5 581.78,54.43 581.86,55.18 581.93,55.83 582,56.46 582.06,57.14 582.13,57.95 582.19,58.97 582.26,60.26 582.33,61.92 582.4,64 582.48,66.57 582.56,69.58 582.65,72.96 582.73,76.61 582.82,80.47 582.9,84.45 582.99,88.47 583.06,92.46 583.14,96.33 583.2,100 583.25,103.67 583.3,107.51 583.34,111.46 583.37,115.42 583.41,119.31 583.44,123.06 583.47,126.59 583.51,129.81 583.55,132.64 583.6,135 583.65,136.84 583.69,138.2 583.72,139.17 583.76,139.84 583.81,140.28 583.86,140.58 583.93,140.82 584.03,141.08 584.15,141.45 584.3,142 584.47,142.68 584.66,143.37 584.86,144.06 585.08,144.74 585.32,145.42 585.59,146.08 585.88,146.73 586.22,147.35 586.59,147.94 587,148.5 587.46,149.03 587.96,149.53 588.49,150.02 589.07,150.48 589.67,150.92 590.3,151.34 590.95,151.73 591.62,152.11 592.3,152.46 593,152.8 593.71,153.11 594.42,153.39 595.16,153.64 595.91,153.87 596.69,154.09 597.49,154.29 598.32,154.47 599.18,154.65 600.07,154.83 601,155 601.95,155.17 602.9,155.33 603.86,155.48 604.85,155.61 605.88,155.74 606.95,155.87 608.09,155.98 609.3,156.09 610.6,156.2 612,156.3 613.4,156.4 614.75,156.49 616.1,156.57 617.5,156.65 619,156.72 620.66,156.78 622.54,156.85 624.69,156.9 627.16,156.95 630,157 633.48,157.04 637.69,157.08 642.42,157.1 647.46,157.13 652.62,157.14 657.7,157.16 662.47,157.17 666.75,157.18 670.33,157.19 673,157.2" fill="none" stroke="#2f62d8" stroke-width="1.5" stroke-linejoin="round" />
<polyline points="508,12 509.73,12 512.05,12 514.81,11.99 517.9,11.99 521.19,11.99 524.54,11.99 527.82,11.99 530.91,11.99 533.68,11.99 536,12 537.93,12.01 539.64,12.02 541.16,12.03 542.52,12.05 543.75,12.06 544.88,12.08 545.94,12.1 546.96,12.13 547.97,12.16 549,12.2 550.01,12.24 550.95,12.29 551.82,12.33 552.64,12.39 553.42,12.44 554.16,12.5 554.88,12.57 555.59,12.64 556.29,12.72 557,12.8 557.69,12.88 558.35,12.97 558.98,13.06 559.59,13.15 560.19,13.24 560.78,13.35 561.38,13.47 562,13.6 562.63,13.74 563.3,13.9 564.01,14.07 564.76,14.24 565.53,14.42 566.32,14.6 567.12,14.81 567.9,15.03 568.67,15.27 569.39,15.55 570.08,15.86 570.7,16.2 571.27,16.59 571.8,17.01 572.29,17.48 572.75,17.97 573.18,18.48 573.59,19.01 573.98,19.56 574.36,20.11 574.73,20.66 575.1,21.2 575.45,21.74 575.79,22.28 576.1,22.83 576.4,23.39 576.69,23.95 576.96,24.53 577.23,25.12 577.49,25.72 577.75,26.35 578,27 578.25,27.67 578.5,28.36 578.73,29.06 578.96,29.78 579.19,30.51 579.4,31.26 579.61,32.03 579.82,32.8 580.01,33.6 580.2,34.4 580.38,35.22 580.55,36.05 580.72,36.89 580.87,37.75 581.03,38.62 581.17,39.5 581.31,40.41 581.44,41.32 581.57,42.25 581.7,43.2 581.82,44.17 581.94,45.16 582.05,46.17 582.15,47.2 582.25,48.24 582.35,49.29 582.44,50.35 582.53,51.4 582.61,52.46 582.7,53.5 582.78,54.43 582.86,55.18 582.93,55.83 583,56.46 583.06,57.14 583.13,57.95 583.19,58.97 583.26,60.26 583.33,61.92 583.4,64 583.48,66.57 583.56,69.58 583.65,72.96 583.73,76.61 583.82,80.47 583.9,84.45 583.99,88.47 584.06,92.46 584.14,96.33 584.2,100 584.25,103.67 584.3,107.51 584.34,111.46 584.37,115.42 584.41,119.31 584.44,123.06 584.47,126.59 584.51,129.81 584.55,132.64 584.6,135 584.65,136.84 584.69,138.2 584.72,139.17 584.76,139.84 584.81,140.28 584.86,140.58 584.93,140.82 585.03,141.08 585.15,141.45 585.3,142 585.47,142.68 585.66,143.37 585.86,144.06 586.08,144.74 586.32,145.42 586.59,146.08 586.88,146.73 587.22,147.35 587.59,147.94 588,148.5 588.46,149.03 588.96,149.53 589.49,150.02 590.07,150.48 590.67,150.92 591.3,151.34 591.95,151.73 592.62,152.11 593.3,152.46 594,152.8 594.71,153.11 595.42,153.39 596.16,153.64 596.91,153.87 597.69,154.09 598.49,154.29 599.32,154.47 600.18,154.65 601.07,154.83 602,155 602.95,155.17 603.9,155.33 604.86,155.48 605.85,155.61 606.88,155.74 607.95,155.87 609.09,155.98 610.3,156.09 611.6,156.2 613,156.3 614.4,156.4 615.75,156.49 617.1,156.57 618.5,156.65 620,156.72 621.66,156.78 623.54,156.85 625.69,156.9 628.16,156.95 631,157 634.48,157.04 638.69,157.08 643.42,157.1 648.46,157.13 653.62,157.14 658.7,157.16 663.47,157.17 667.75,157.18 671.33,157.19 674,157.2" fill="none" stroke="#2f62d8" stroke-width="1.5" stroke-linejoin="round" />
<polyline points="509,12 510.73,12 513.05,12 515.81,11.99 518.9,11.99 522.19,11.99 525.54,11.99 528.82,11.99 531.91,11.99 534.68,11.99 537,12 538.93,12.01 540.64,12.02 542.16,12.03 543.52,12.05 544.75,12.06 545.88,12.08 546.94,12.1 547.96,12.13 548.97,12.16 550,12.2 551.01,12.24 551.95,12.29 552.82,12.33 553.64,12.39 554.42,12.44 555.16,12.5 555.88,12.57 556.59,12.64 557.29,12.72 558,12.8 558.69,12.88 559.35,12.97 559.98,13.06 560.59,13.15 561.19,13.24 561.78,13.35 562.38,13.47 563,13.6 563.63,13.74 564.3,13.9 565.01,14.07 565.76,14.24 566.53,14.42 567.32,14.6 568.12,14.81 568.9,15.03 569.67,15.27 570.39,15.55 571.08,15.86 571.7,16.2 572.27,16.59 572.8,17.01 573.29,17.48 573.75,17.97 574.18,18.48 574.59,19.01 574.98,19.56 575.36,20.11 575.73,20.66 576.1,21.2 576.45,21.74 576.79,22.28 577.1,22.83 577.4,23.39 577.69,23.95 577.96,24.53 578.23,25.12 578.49,25.72 578.75,26.35 579,27 579.25,27.67 579.5,28.36 579.73,29.06 579.96,29.78 580.19,30.51 580.4,31.26 580.61,32.03 580.82,32.8 581.01,33.6 581.2,34.4 581.38,35.22 581.55,36.05 581.72,36.89 581.87,37.75 582.03,38.62 582.17,39.5 582.31,40.41 582.44,41.32 582.57,42.25 582.7,43.2 582.82,44.17 582.94,45.16 583.05,46.17 583.15,47.2 583.25,48.24 583.35,49.29 583.44,50.35 583.53,51.4 583.61,52.46 583.7,53.5 583.78,54.43 583.86,55.18 583.93,55.83 584,56.46 584.06,57.14 584.13,57.95 584.19,58.97 584.26,60.26 584.33,61.92 584.4,64 584.48,66.57 584.56,69.58 584.65,72.96 584.73,76.61 584.82,80.47 584.9,84.45 584.99,88.47 585.06,92.46 585.14,96.33 585.2,100 585.25,103.67 585.3,107.51 585.34,111.46 585.37,115.42 585.41,119.31 585.44,123.06 585.47,126.59 585.51,129.81 585.55,132.64 585.6,135 585.65,136.84 585.69,138.2 585.72,139.17 585.76,139.84 585.81,140.28 585.86,140.58 585.93,140.82 586.03,141.08 586.15,141.45 586.3,142 586.47,142.68 586.66,143.37 586.86,144.06 587.08,144.74 587.32,145.42 587.59,146.08 587.88,146.73 588.22,147.35 588.59,147.94 589,148.5 589.46,149.03 589.96,149.53 590.49,150.02 591.07,150.48 591.67,150.92 592.3,151.34 592.95,151.73 593.62,152.11 594.3,152.46 595,152.8 595.71,153.11 596.42,153.39 597.16,153.64 597.91,153.87 598.69,154.09 599.49,154.29 600.32,154.47 601.18,154.65 602.07,154.83 603,155 603.95,155.17 604.9,155.33 605.86,155.48 606.85,155.61 607.88,155.74 608.95,155.87 610.09,155.98 611.3,156.09 612.6,156.2 614,156.3 615.4,156.4 616.75,156.49 618.1,156.57 619.5,156.65 621,156.72 622.66,156.78 624.54,156.85 626.69,156.9 629.16,156.95 632,157 635.48,157.04 639.69,157.08 644.42,157.1 649.46,157.13 654.62,157.14 659.7,157.16 664.47,157.17 668.75,157.18 672.33,157.19 675,157.2" fill="none" stroke="#2f62d8" stroke-width="1.5" stroke-linejoin="round" />
<polyline points="509.9,12 511.63,12 513.95,12 516.71,11.99 519.8,11.99 523.09,11.99 526.44,11.99 529.72,11.99 532.81,11.99 535.58,11.99 537.9,12 539.83,12.01 541.54,12.02 543.06,12.03 544.42,12.05 545.65,12.06 546.78,12.08 547.84,12.1 548.86,12.13 549.87,12.16 550.9,12.2 551.91,12.24 552.85,12.29 553.72,12.33 554.54,12.39 555.32,12.44 556.06,12.5 556.78,12.57 557.49,12.64 558.19,12.72 558.9,12.8 559.59,12.88 560.25,12.97 560.88,13.06 561.49,13.15 562.09,13.24 562.68,13.35 563.28,13.47 563.9,13.6 564.53,13.74 565.2,13.9 565.91,14.07 566.66,14.24 567.43,14.42 568.22,14.6 569.02,14.81 569.8,15.03 570.57,15.27 571.29,15.55 571.98,15.86 572.6,16.2 573.17,16.59 573.7,17.01 574.19,17.48 574.65,17.97 575.08,18.48 575.49,19.01 575.88,19.56 576.26,20.11 576.63,20.66 577,21.2 577.35,21.74 577.69,22.28 578,22.83 578.3,23.39 578.59,23.95 578.86,24.53 579.13,25.12 579.39,25.72 579.65,26.35 579.9,27 580.15,27.67 580.4,28.36 580.63,29.06 580.86,29.78 581.09,30.51 581.3,31.26 581.51,32.03 581.72,32.8 581.91,33.6 582.1,34.4 582.28,35.22 582.45,36.05 582.62,36.89 582.77,37.75 582.93,38.62 583.07,39.5 583.21,40.41 583.34,41.32 583.47,42.25 583.6,43.2 583.72,44.17 583.84,45.16 583.95,46.17 584.05,47.2 584.15,48.24 584.25,49.29 584.34,50.35 584.43,51.4 584.51,52.46 584.6,53.5 584.68,54.43 584.76,55.18 584.83,55.83 584.9,56.46 584.96,57.14 585.03,57.95 585.09,58.97 585.16,60.26 585.23,61.92 585.3,64 585.38,66.57 585.46,69.58 585.55,72.96 585.63,76.61 585.72,80.47 585.8,84.45 585.89,88.47 585.96,92.46 586.04,96.33 586.1,100 586.15,103.67 586.2,107.51 586.24,111.46 586.27,115.42 586.31,119.31 586.34,123.06 586.37,126.59 586.41,129.81 586.45,132.64 586.5,135 586.55,136.84 586.59,138.2 586.62,139.17 586.66,139.84 586.71,140.28 586.76,140.58 586.83,140.82 586.93,141.08 587.05,141.45 587.2,142 587.37,142.68 587.56,143.37 587.76,144.06 587.98,144.74 588.22,145.42 588.49,146.08 588.78,146.73 589.12,147.35 589.49,147.94 589.9,148.5 590.36,149.03 590.86,149.53 591.39,150.02 591.97,150.48 592.57,150.92 593.2,151.34 593.85,151.73 594.52,152.11 595.2,152.46 595.9,152.8 596.61,153.11 597.32,153.39 598.06,153.64 598.81,153.87 599.59,154.09 600.39,154.29 601.22,154.47 602.08,154.65 602.97,154.83 603.9,155 604.85,155.17 605.8,155.33 606.76,155.48 607.75,155.61 608.77,155.74 609.85,155.87 610.99,155.98 612.2,156.09 613.5,156.2 614.9,156.3 616.3,156.4 617.65,156.49 619,156.57 620.4,156.65 621.9,156.72 623.56,156.78 625.44,156.85 627.59,156.9 630.06,156.95 632.9,157 636.38,157.04 640.59,157.08 645.32,157.1 650.36,157.13 655.52,157.14 660.6,157.16 665.37,157.17 669.65,157.18 673.23,157.19 675.9,157.2" fill="none" stroke="#2f62d8" stroke-width="1.5" stroke-linejoin="round" />
<polyline points="507,12 508.93,12 511.5,12 514.59,11.99 518.03,11.99 521.69,11.98 525.41,11.98 529.05,11.98 532.46,11.98 535.49,11.99 538,12 540.05,12.02 541.82,12.03 543.35,12.05 544.69,12.07 545.88,12.09 546.95,12.12 547.96,12.16 548.94,12.2 549.94,12.24 551,12.3 552.07,12.36 553.09,12.43 554.06,12.5 554.99,12.58 555.89,12.67 556.75,12.76 557.59,12.86 558.4,12.97 559.21,13.08 560,13.2 560.76,13.32 561.47,13.45 562.14,13.58 562.78,13.71 563.41,13.86 564.04,14.01 564.68,14.18 565.35,14.37 566.05,14.57 566.8,14.8 567.61,15.05 568.48,15.3 569.38,15.57 570.32,15.86 571.26,16.16 572.19,16.48 573.11,16.83 573.99,17.19 574.83,17.58 575.6,18 576.32,18.45 577,18.92 577.65,19.42 578.27,19.94 578.87,20.49 579.44,21.05 579.98,21.62 580.51,22.21 581.01,22.8 581.5,23.4 581.96,24 582.4,24.61 582.81,25.22 583.2,25.85 583.56,26.49 583.91,27.14 584.25,27.82 584.57,28.52 584.89,29.25 585.2,30 585.5,30.78 585.79,31.6 586.07,32.43 586.33,33.29 586.58,34.17 586.82,35.07 587.05,35.98 587.28,36.91 587.49,37.85 587.7,38.8 587.9,39.76 588.09,40.74 588.27,41.73 588.44,42.74 588.61,43.76 588.76,44.8 588.91,45.85 589.05,46.92 589.18,48 589.3,49.1 589.41,50.19 589.52,51.25 589.61,52.3 589.69,53.36 589.77,54.45 589.84,55.58 589.91,56.78 589.97,58.05 590.04,59.42 590.1,60.9 590.16,62.47 590.22,64.08 590.28,65.75 590.33,67.49 590.38,69.31 590.42,71.22 590.47,73.24 590.51,75.37 590.56,77.62 590.6,80 590.64,82.59 590.69,85.43 590.73,88.45 590.77,91.6 590.81,94.82 590.85,98.05 590.89,101.24 590.93,104.34 590.96,107.27 591,110 591.03,112.58 591.05,115.12 591.07,117.6 591.08,120 591.1,122.31 591.12,124.52 591.15,126.61 591.18,128.56 591.23,130.36 591.3,132 591.38,133.44 591.45,134.67 591.54,135.73 591.63,136.66 591.73,137.47 591.85,138.2 591.98,138.89 592.13,139.57 592.3,140.26 592.5,141 592.72,141.76 592.94,142.5 593.19,143.2 593.45,143.89 593.73,144.54 594.03,145.18 594.36,145.79 594.71,146.38 595.09,146.95 595.5,147.5 595.94,148.03 596.4,148.52 596.89,149 597.4,149.45 597.94,149.88 598.5,150.29 599.09,150.69 599.7,151.07 600.34,151.44 601,151.8 601.69,152.15 602.39,152.48 603.12,152.79 603.88,153.09 604.66,153.37 605.46,153.64 606.3,153.9 607.17,154.14 608.07,154.38 609,154.6 609.94,154.81 610.86,155.01 611.8,155.19 612.75,155.36 613.75,155.53 614.81,155.68 615.94,155.82 617.18,155.95 618.52,156.08 620,156.2 621.58,156.32 623.22,156.42 624.93,156.52 626.73,156.61 628.62,156.69 630.63,156.76 632.76,156.83 635.02,156.89 637.43,156.95 640,157 642.92,157.05 646.3,157.08 649.98,157.11 653.85,157.13 657.75,157.15 661.55,157.16 665.12,157.17 668.3,157.18 670.98,157.19 673,157.2" fill="none" stroke="#2f62d8" stroke-width="1.5" stroke-linejoin="round" />
<polyline points="508,12 509.93,12 512.5,12 515.59,11.99 519.03,11.99 522.69,11.98 526.41,11.98 530.05,11.98 533.46,11.98 536.49,11.99 539,12 541.05,12.02 542.82,12.03 544.35,12.05 545.69,12.07 546.88,12.09 547.95,12.12 548.96,12.16 549.94,12.2 550.94,12.24 552,12.3 553.07,12.36 554.09,12.43 555.06,12.5 555.99,12.58 556.89,12.67 557.75,12.76 558.59,12.86 559.4,12.97 560.21,13.08 561,13.2 561.76,13.32 562.47,13.45 563.14,13.58 563.78,13.71 564.41,13.86 565.04,14.01 565.68,14.18 566.35,14.37 567.05,14.57 567.8,14.8 568.61,15.05 569.48,15.3 570.38,15.57 571.32,15.86 572.26,16.16 573.19,16.48 574.11,16.83 574.99,17.19 575.83,17.58 576.6,18 577.32,18.45 578,18.92 578.65,19.42 579.27,19.94 579.87,20.49 580.44,21.05 580.98,21.62 581.51,22.21 582.01,22.8 582.5,23.4 582.96,24 583.4,24.61 583.81,25.22 584.2,25.85 584.56,26.49 584.91,27.14 585.25,27.82 585.57,28.52 585.89,29.25 586.2,30 586.5,30.78 586.79,31.6 587.07,32.43 587.33,33.29 587.58,34.17 587.82,35.07 588.05,35.98 588.28,36.91 588.49,37.85 588.7,38.8 588.9,39.76 589.09,40.74 589.27,41.73 589.44,42.74 589.61,43.76 589.76,44.8 589.91,45.85 590.05,46.92 590.18,48 590.3,49.1 590.41,50.19 590.52,51.25 590.61,52.3 590.69,53.36 590.77,54.45 590.84,55.58 590.91,56.78 590.97,58.05 591.04,59.42 591.1,60.9 591.16,62.47 591.22,64.08 591.28,65.75 591.33,67.49 591.38,69.31 591.42,71.22 591.47,73.24 591.51,75.37 591.56,77.62 591.6,80 591.64,82.59 591.69,85.43 591.73,88.45 591.77,91.6 591.81,94.82 591.85,98.05 591.89,101.24 591.93,104.34 591.96,107.27 592,110 592.03,112.58 592.05,115.12 592.07,117.6 592.08,120 592.1,122.31 592.12,124.52 592.15,126.61 592.18,128.56 592.23,130.36 592.3,132 592.38,133.44 592.45,134.67 592.54,135.73 592.63,136.66 592.73,137.47 592.85,138.2 592.98,138.89 593.13,139.57 593.3,140.26 593.5,141 593.72,141.76 593.94,142.5 594.19,143.2 594.45,143.89 594.73,144.54 595.03,145.18 595.36,145.79 595.71,146.38 596.09,146.95 596.5,147.5 596.94,148.03 597.4,148.52 597.89,149 598.4,149.45 598.94,149.88 599.5,150.29 600.09,150.69 600.7,151.07 601.34,151.44 602,151.8 602.69,152.15 603.39,152.48 604.12,152.79 604.88,153.09 605.66,153.37 606.46,153.64 607.3,153.9 608.17,154.14 609.07,154.38 610,154.6 610.94,154.81 611.86,155.01 612.8,155.19 613.75,155.36 614.75,155.53 615.81,155.68 616.94,155.82 618.18,155.95 619.52,156.08 621,156.2 622.58,156.32 624.22,156.42 625.93,156.52 627.73,156.61 629.62,156.69 631.63,156.76 633.76,156.83 636.02,156.89 638.43,156.95 641,157 643.92,157.05 647.3,157.08 650.98,157.11 654.85,157.13 658.75,157.15 662.55,157.16 666.12,157.17 669.3,157.18 671.98,157.19 674,157.2" fill="none" stroke="#2f62d8" stroke-width="1.5" stroke-linejoin="round" />
<polyline points="509,12 510.93,12 513.5,12 516.59,11.99 520.03,11.99 523.69,11.98 527.41,11.98 531.05,11.98 534.46,11.98 537.49,11.99 540,12 542.05,12.02 543.82,12.03 545.35,12.05 546.69,12.07 547.88,12.09 548.95,12.12 549.96,12.16 550.94,12.2 551.94,12.24 553,12.3 554.07,12.36 555.09,12.43 556.06,12.5 556.99,12.58 557.89,12.67 558.75,12.76 559.59,12.86 560.4,12.97 561.21,13.08 562,13.2 562.76,13.32 563.47,13.45 564.14,13.58 564.78,13.71 565.41,13.86 566.04,14.01 566.68,14.18 567.35,14.37 568.05,14.57 568.8,14.8 569.61,15.05 570.48,15.3 571.38,15.57 572.32,15.86 573.26,16.16 574.19,16.48 575.11,16.83 575.99,17.19 576.83,17.58 577.6,18 578.32,18.45 579,18.92 579.65,19.42 580.27,19.94 580.87,20.49 581.44,21.05 581.98,21.62 582.51,22.21 583.01,22.8 583.5,23.4 583.96,24 584.4,24.61 584.81,25.22 585.2,25.85 585.56,26.49 585.91,27.14 586.25,27.82 586.57,28.52 586.89,29.25 587.2,30 587.5,30.78 587.79,31.6 588.07,32.43 588.33,33.29 588.58,34.17 588.82,35.07 589.05,35.98 589.28,36.91 589.49,37.85 589.7,38.8 589.9,39.76 590.09,40.74 590.27,41.73 590.44,42.74 590.61,43.76 590.76,44.8 590.91,45.85 591.05,46.92 591.18,48 591.3,49.1 591.41,50.19 591.52,51.25 591.61,52.3 591.69,53.36 591.77,54.45 591.84,55.58 591.91,56.78 591.97,58.05 592.04,59.42 592.1,60.9 592.16,62.47 592.22,64.08 592.28,65.75 592.33,67.49 592.38,69.31 592.42,71.22 592.47,73.24 592.51,75.37 592.56,77.62 592.6,80 592.64,82.59 592.69,85.43 592.73,88.45 592.77,91.6 592.81,94.82 592.85,98.05 592.89,101.24 592.93,104.34 592.96,107.27 593,110 593.03,112.58 593.05,115.12 593.07,117.6 593.08,120 593.1,122.31 593.12,124.52 593.15,126.61 593.18,128.56 593.23,130.36 593.3,132 593.38,133.44 593.45,134.67 593.54,135.73 593.63,136.66 593.73,137.47 593.85,138.2 593.98,138.89 594.13,139.57 594.3,140.26 594.5,141 594.72,141.76 594.94,142.5 595.19,143.2 595.45,143.89 595.73,144.54 596.03,145.18 596.36,145.79 596.71,146.38 597.09,146.95 597.5,147.5 597.94,148.03 598.4,148.52 598.89,149 599.4,149.45 599.94,149.88 600.5,150.29 601.09,150.69 601.7,151.07 602.34,151.44 603,151.8 603.69,152.15 604.39,152.48 605.12,152.79 605.88,153.09 606.66,153.37 607.46,153.64 608.3,153.9 609.17,154.14 610.07,154.38 611,154.6 611.94,154.81 612.86,155.01 613.8,155.19 614.75,155.36 615.75,155.53 616.81,155.68 617.94,155.82 619.18,155.95 620.52,156.08 622,156.2 623.58,156.32 625.22,156.42 626.93,156.52 628.73,156.61 630.62,156.69 632.63,156.76 634.76,156.83 637.02,156.89 639.43,156.95 642,157 644.92,157.05 648.3,157.08 651.98,157.11 655.85,157.13 659.75,157.15 663.55,157.16 667.12,157.17 670.3,157.18 672.98,157.19 675,157.2" fill="none" stroke="#2f62d8" stroke-width="1.5" stroke-linejoin="round" />
<polyline points="509.9,12 511.83,12 514.4,12 517.49,11.99 520.93,11.99 524.59,11.98 528.31,11.98 531.95,11.98 535.36,11.98 538.39,11.99 540.9,12 542.95,12.02 544.72,12.03 546.25,12.05 547.59,12.07 548.77,12.09 549.85,12.12 550.86,12.16 551.84,12.2 552.84,12.24 553.9,12.3 554.97,12.36 555.99,12.43 556.96,12.5 557.89,12.58 558.79,12.67 559.65,12.76 560.49,12.86 561.3,12.97 562.11,13.08 562.9,13.2 563.66,13.32 564.37,13.45 565.04,13.58 565.68,13.71 566.31,13.86 566.94,14.01 567.58,14.18 568.25,14.37 568.95,14.57 569.7,14.8 570.51,15.05 571.38,15.3 572.28,15.57 573.22,15.86 574.16,16.16 575.09,16.48 576.01,16.83 576.89,17.19 577.73,17.58 578.5,18 579.22,18.45 579.9,18.92 580.55,19.42 581.17,19.94 581.77,20.49 582.34,21.05 582.88,21.62 583.41,22.21 583.91,22.8 584.4,23.4 584.86,24 585.3,24.61 585.71,25.22 586.1,25.85 586.46,26.49 586.81,27.14 587.15,27.82 587.47,28.52 587.79,29.25 588.1,30 588.4,30.78 588.69,31.6 588.97,32.43 589.23,33.29 589.48,34.17 589.72,35.07 589.95,35.98 590.18,36.91 590.39,37.85 590.6,38.8 590.8,39.76 590.99,40.74 591.17,41.73 591.34,42.74 591.51,43.76 591.66,44.8 591.81,45.85 591.95,46.92 592.08,48 592.2,49.1 592.31,50.19 592.42,51.25 592.51,52.3 592.59,53.36 592.67,54.45 592.74,55.58 592.81,56.78 592.87,58.05 592.94,59.42 593,60.9 593.06,62.47 593.12,64.08 593.18,65.75 593.23,67.49 593.28,69.31 593.32,71.22 593.37,73.24 593.41,75.37 593.46,77.62 593.5,80 593.54,82.59 593.59,85.43 593.63,88.45 593.67,91.6 593.71,94.82 593.75,98.05 593.79,101.24 593.83,104.34 593.86,107.27 593.9,110 593.93,112.58 593.95,115.12 593.97,117.6 593.98,120 594,122.31 594.02,124.52 594.05,126.61 594.08,128.56 594.13,130.36 594.2,132 594.28,133.44 594.35,134.67 594.44,135.73 594.53,136.66 594.63,137.47 594.75,138.2 594.88,138.89 595.03,139.57 595.2,140.26 595.4,141 595.62,141.76 595.84,142.5 596.09,143.2 596.35,143.89 596.63,144.54 596.93,145.18 597.26,145.79 597.61,146.38 597.99,146.95 598.4,147.5 598.84,148.03 599.3,148.52 599.79,149 600.3,149.45 600.84,149.88 601.4,150.29 601.99,150.69 602.6,151.07 603.24,151.44 603.9,151.8 604.59,152.15 605.29,152.48 606.02,152.79 606.78,153.09 607.56,153.37 608.36,153.64 609.2,153.9 610.07,154.14 610.97,154.38 611.9,154.6 612.84,154.81 613.76,155.01 614.7,155.19 615.65,155.36 616.65,155.53 617.71,155.68 618.84,155.82 620.08,155.95 621.42,156.08 622.9,156.2 624.48,156.32 626.12,156.42 627.83,156.52 629.63,156.61 631.52,156.69 633.53,156.76 635.66,156.83 637.92,156.89 640.33,156.95 642.9,157 645.82,157.05 649.2,157.08 652.88,157.11 656.75,157.13 660.65,157.15 664.45,157.16 668.02,157.17 671.2,157.18 673.88,157.19 675.9,157.2" fill="none" stroke="#2f62d8" stroke-width="1.5" stroke-linejoin="round" />
</g>
<g clip-path="url(#clipF)">
<polyline points="508.6,218 510.23,218 512.4,218 515,217.99 517.9,217.99 520.99,217.99 524.14,217.99 527.23,217.99 530.16,217.99 532.78,217.99 535,218 536.87,218.01 538.54,218.02 540.04,218.03 541.4,218.05 542.65,218.06 543.8,218.08 544.89,218.1 545.93,218.13 546.96,218.16 548,218.2 549.01,218.24 549.94,218.29 550.81,218.34 551.63,218.39 552.4,218.45 553.14,218.51 553.86,218.58 554.57,218.65 555.28,218.72 556,218.8 556.71,218.87 557.4,218.94 558.06,219.01 558.7,219.08 559.34,219.15 559.97,219.24 560.61,219.34 561.25,219.47 561.91,219.62 562.6,219.8 563.32,220.01 564.08,220.24 564.86,220.49 565.65,220.76 566.44,221.04 567.22,221.35 567.98,221.68 568.7,222.03 569.38,222.41 570,222.8 570.57,223.22 571.1,223.66 571.59,224.13 572.05,224.62 572.48,225.13 572.89,225.65 573.28,226.19 573.66,226.75 574.03,227.32 574.4,227.9 574.76,228.5 575.09,229.11 575.41,229.74 575.72,230.39 576.01,231.06 576.29,231.73 576.56,232.41 576.81,233.1 577.06,233.8 577.3,234.5 577.53,235.19 577.74,235.88 577.94,236.57 578.13,237.26 578.31,237.97 578.48,238.69 578.64,239.44 578.8,240.22 578.95,241.04 579.1,241.9 579.25,242.78 579.38,243.66 579.51,244.55 579.64,245.46 579.76,246.41 579.87,247.42 579.98,248.48 580.09,249.63 580.19,250.86 580.3,252.2 580.4,253.61 580.51,255.05 580.6,256.55 580.7,258.11 580.79,259.76 580.88,261.5 580.97,263.36 581.05,265.36 581.13,267.5 581.2,269.8 581.27,272.27 581.33,274.88 581.39,277.63 581.44,280.5 581.49,283.5 581.53,286.61 581.58,289.82 581.62,293.13 581.66,296.53 581.7,300 581.74,303.74 581.77,307.87 581.8,312.26 581.83,316.78 581.86,321.32 581.88,325.76 581.91,329.97 581.94,333.83 581.97,337.21 582,340 582.03,342.18 582.05,343.87 582.07,345.14 582.1,346.08 582.12,346.76 582.15,347.26 582.19,347.66 582.24,348.03 582.31,348.45 582.4,349 582.5,349.59 582.59,350.09 582.68,350.53 582.79,350.9 582.91,351.23 583.06,351.54 583.23,351.83 583.44,352.13 583.7,352.45 584,352.8 584.35,353.18 584.73,353.55 585.16,353.93 585.61,354.31 586.1,354.68 586.62,355.05 587.17,355.42 587.75,355.79 588.36,356.15 589,356.5 589.67,356.85 590.38,357.2 591.12,357.55 591.89,357.89 592.69,358.23 593.51,358.56 594.36,358.89 595.22,359.2 596.11,359.51 597,359.8 597.88,360.08 598.74,360.35 599.6,360.62 600.47,360.87 601.38,361.12 602.33,361.36 603.35,361.58 604.46,361.8 605.67,362 607,362.2 608.33,362.38 609.58,362.56 610.8,362.72 612.09,362.87 613.5,363.01 615.11,363.15 617,363.27 619.22,363.39 621.87,363.5 625,363.6 628.93,363.7 633.75,363.78 639.22,363.86 645.1,363.93 651.12,363.99 657.06,364.04 662.67,364.09 667.69,364.13 671.88,364.17 675,364.2" fill="none" stroke="#2f62d8" stroke-width="1.5" stroke-linejoin="round" />
<polyline points="509.4,218 511.03,218 513.2,218 515.8,217.99 518.7,217.99 521.79,217.99 524.94,217.99 528.03,217.99 530.96,217.99 533.58,217.99 535.8,218 537.67,218.01 539.34,218.02 540.84,218.03 542.2,218.05 543.45,218.06 544.6,218.08 545.69,218.1 546.73,218.13 547.76,218.16 548.8,218.2 549.81,218.24 550.74,218.29 551.61,218.34 552.43,218.39 553.2,218.45 553.94,218.51 554.66,218.58 555.37,218.65 556.08,218.72 556.8,218.8 557.51,218.87 558.2,218.94 558.86,219.01 559.5,219.08 560.14,219.15 560.77,219.24 561.41,219.34 562.05,219.47 562.71,219.62 563.4,219.8 564.12,220.01 564.88,220.24 565.66,220.49 566.45,220.76 567.24,221.04 568.02,221.35 568.78,221.68 569.5,222.03 570.18,222.41 570.8,222.8 571.37,223.22 571.9,223.66 572.39,224.13 572.85,224.62 573.28,225.13 573.69,225.65 574.08,226.19 574.46,226.75 574.83,227.32 575.2,227.9 575.56,228.5 575.89,229.11 576.21,229.74 576.52,230.39 576.81,231.06 577.09,231.73 577.36,232.41 577.61,233.1 577.86,233.8 578.1,234.5 578.33,235.19 578.54,235.88 578.74,236.57 578.93,237.26 579.11,237.97 579.28,238.69 579.44,239.44 579.6,240.22 579.75,241.04 579.9,241.9 580.05,242.78 580.18,243.66 580.31,244.55 580.44,245.46 580.56,246.41 580.67,247.42 580.78,248.48 580.89,249.63 580.99,250.86 581.1,252.2 581.2,253.61 581.31,255.05 581.4,256.55 581.5,258.11 581.59,259.76 581.68,261.5 581.77,263.36 581.85,265.36 581.93,267.5 582,269.8 582.07,272.27 582.13,274.88 582.19,277.63 582.24,280.5 582.29,283.5 582.33,286.61 582.38,289.82 582.42,293.13 582.46,296.53 582.5,300 582.54,303.74 582.57,307.87 582.6,312.26 582.63,316.78 582.66,321.32 582.68,325.76 582.71,329.97 582.74,333.83 582.77,337.21 582.8,340 582.83,342.18 582.85,343.87 582.87,345.14 582.9,346.08 582.92,346.76 582.95,347.26 582.99,347.66 583.04,348.03 583.11,348.45 583.2,349 583.3,349.59 583.39,350.09 583.48,350.53 583.59,350.9 583.71,351.23 583.86,351.54 584.03,351.83 584.24,352.13 584.5,352.45 584.8,352.8 585.15,353.18 585.53,353.55 585.96,353.93 586.41,354.31 586.9,354.68 587.42,355.05 587.97,355.42 588.55,355.79 589.16,356.15 589.8,356.5 590.47,356.85 591.18,357.2 591.92,357.55 592.69,357.89 593.49,358.23 594.31,358.56 595.16,358.89 596.02,359.2 596.91,359.51 597.8,359.8 598.68,360.08 599.54,360.35 600.4,360.62 601.27,360.87 602.17,361.12 603.13,361.36 604.15,361.58 605.26,361.8 606.47,362 607.8,362.2 609.13,362.38 610.38,362.56 611.6,362.72 612.89,362.87 614.3,363.01 615.91,363.15 617.8,363.27 620.02,363.39 622.67,363.5 625.8,363.6 629.73,363.7 634.55,363.78 640.02,363.86 645.9,363.93 651.92,363.99 657.86,364.04 663.47,364.09 668.49,364.13 672.68,364.17 675.8,364.2" fill="none" stroke="#2f62d8" stroke-width="1.5" stroke-linejoin="round" />
<polyline points="510.2,218 511.83,218 514,218 516.6,217.99 519.5,217.99 522.59,217.99 525.74,217.99 528.83,217.99 531.76,217.99 534.38,217.99 536.6,218 538.47,218.01 540.14,218.02 541.64,218.03 543,218.05 544.25,218.06 545.4,218.08 546.49,218.1 547.53,218.13 548.56,218.16 549.6,218.2 550.61,218.24 551.54,218.29 552.41,218.34 553.23,218.39 554,218.45 554.74,218.51 555.46,218.58 556.17,218.65 556.88,218.72 557.6,218.8 558.31,218.87 559,218.94 559.66,219.01 560.3,219.08 560.94,219.15 561.57,219.24 562.21,219.34 562.85,219.47 563.51,219.62 564.2,219.8 564.92,220.01 565.68,220.24 566.46,220.49 567.25,220.76 568.04,221.04 568.82,221.35 569.58,221.68 570.3,222.03 570.98,222.41 571.6,222.8 572.17,223.22 572.7,223.66 573.19,224.13 573.65,224.62 574.08,225.13 574.49,225.65 574.88,226.19 575.26,226.75 575.63,227.32 576,227.9 576.36,228.5 576.69,229.11 577.01,229.74 577.32,230.39 577.61,231.06 577.89,231.73 578.16,232.41 578.41,233.1 578.66,233.8 578.9,234.5 579.13,235.19 579.34,235.88 579.54,236.57 579.73,237.26 579.91,237.97 580.08,238.69 580.24,239.44 580.4,240.22 580.55,241.04 580.7,241.9 580.85,242.78 580.98,243.66 581.11,244.55 581.24,245.46 581.36,246.41 581.47,247.42 581.58,248.48 581.69,249.63 581.79,250.86 581.9,252.2 582,253.61 582.11,255.05 582.2,256.55 582.3,258.11 582.39,259.76 582.48,261.5 582.57,263.36 582.65,265.36 582.73,267.5 582.8,269.8 582.87,272.27 582.93,274.88 582.99,277.63 583.04,280.5 583.09,283.5 583.13,286.61 583.18,289.82 583.22,293.13 583.26,296.53 583.3,300 583.34,303.74 583.37,307.87 583.4,312.26 583.43,316.78 583.46,321.32 583.48,325.76 583.51,329.97 583.54,333.83 583.57,337.21 583.6,340 583.63,342.18 583.65,343.87 583.67,345.14 583.7,346.08 583.72,346.76 583.75,347.26 583.79,347.66 583.84,348.03 583.91,348.45 584,349 584.1,349.59 584.19,350.09 584.28,350.53 584.39,350.9 584.51,351.23 584.66,351.54 584.83,351.83 585.04,352.13 585.3,352.45 585.6,352.8 585.95,353.18 586.33,353.55 586.76,353.93 587.21,354.31 587.7,354.68 588.22,355.05 588.77,355.42 589.35,355.79 589.96,356.15 590.6,356.5 591.27,356.85 591.98,357.2 592.72,357.55 593.49,357.89 594.29,358.23 595.11,358.56 595.96,358.89 596.82,359.2 597.71,359.51 598.6,359.8 599.48,360.08 600.34,360.35 601.2,360.62 602.07,360.87 602.98,361.12 603.93,361.36 604.95,361.58 606.06,361.8 607.27,362 608.6,362.2 609.93,362.38 611.18,362.56 612.4,362.72 613.69,362.87 615.1,363.01 616.71,363.15 618.6,363.27 620.82,363.39 623.47,363.5 626.6,363.6 630.53,363.7 635.35,363.78 640.82,363.86 646.7,363.93 652.73,363.99 658.66,364.04 664.27,364.09 669.29,364.13 673.48,364.17 676.6,364.2" fill="none" stroke="#2f62d8" stroke-width="1.5" stroke-linejoin="round" />
<polyline points="510.9,218 512.53,218 514.7,218 517.3,217.99 520.2,217.99 523.29,217.99 526.44,217.99 529.53,217.99 532.46,217.99 535.08,217.99 537.3,218 539.17,218.01 540.84,218.02 542.34,218.03 543.7,218.05 544.95,218.06 546.1,218.08 547.19,218.1 548.23,218.13 549.26,218.16 550.3,218.2 551.31,218.24 552.24,218.29 553.11,218.34 553.93,218.39 554.7,218.45 555.44,218.51 556.16,218.58 556.87,218.65 557.58,218.72 558.3,218.8 559.01,218.87 559.7,218.94 560.36,219.01 561,219.08 561.64,219.15 562.27,219.24 562.91,219.34 563.55,219.47 564.21,219.62 564.9,219.8 565.62,220.01 566.38,220.24 567.16,220.49 567.95,220.76 568.74,221.04 569.52,221.35 570.28,221.68 571,222.03 571.68,222.41 572.3,222.8 572.87,223.22 573.4,223.66 573.89,224.13 574.35,224.62 574.78,225.13 575.19,225.65 575.58,226.19 575.96,226.75 576.33,227.32 576.7,227.9 577.06,228.5 577.39,229.11 577.71,229.74 578.02,230.39 578.31,231.06 578.59,231.73 578.86,232.41 579.11,233.1 579.36,233.8 579.6,234.5 579.83,235.19 580.04,235.88 580.24,236.57 580.43,237.26 580.61,237.97 580.78,238.69 580.94,239.44 581.1,240.22 581.25,241.04 581.4,241.9 581.55,242.78 581.68,243.66 581.81,244.55 581.94,245.46 582.06,246.41 582.17,247.42 582.28,248.48 582.39,249.63 582.49,250.86 582.6,252.2 582.7,253.61 582.81,255.05 582.9,256.55 583,258.11 583.09,259.76 583.18,261.5 583.27,263.36 583.35,265.36 583.43,267.5 583.5,269.8 583.57,272.27 583.63,274.88 583.69,277.63 583.74,280.5 583.79,283.5 583.83,286.61 583.88,289.82 583.92,293.13 583.96,296.53 584,300 584.04,303.74 584.07,307.87 584.1,312.26 584.13,316.78 584.16,321.32 584.18,325.76 584.21,329.97 584.24,333.83 584.27,337.21 584.3,340 584.33,342.18 584.35,343.87 584.37,345.14 584.4,346.08 584.42,346.76 584.45,347.26 584.49,347.66 584.54,348.03 584.61,348.45 584.7,349 584.8,349.59 584.89,350.09 584.98,350.53 585.09,350.9 585.21,351.23 585.36,351.54 585.53,351.83 585.74,352.13 586,352.45 586.3,352.8 586.65,353.18 587.03,353.55 587.46,353.93 587.91,354.31 588.4,354.68 588.92,355.05 589.47,355.42 590.05,355.79 590.66,356.15 591.3,356.5 591.97,356.85 592.68,357.2 593.42,357.55 594.19,357.89 594.99,358.23 595.81,358.56 596.66,358.89 597.52,359.2 598.41,359.51 599.3,359.8 600.18,360.08 601.04,360.35 601.9,360.62 602.77,360.87 603.67,361.12 604.63,361.36 605.65,361.58 606.76,361.8 607.97,362 609.3,362.2 610.63,362.38 611.88,362.56 613.1,362.72 614.39,362.87 615.8,363.01 617.41,363.15 619.3,363.27 621.52,363.39 624.17,363.5 627.3,363.6 631.23,363.7 636.05,363.78 641.52,363.86 647.4,363.93 653.42,363.99 659.36,364.04 664.97,364.09 669.99,364.13 674.18,364.17 677.3,364.2" fill="none" stroke="#2f62d8" stroke-width="1.5" stroke-linejoin="round" />
<polyline points="508.6,218 510.42,218 512.84,218 515.74,217.99 518.98,217.99 522.43,217.98 525.94,217.98 529.39,217.98 532.64,217.98 535.55,217.99 538,218 540.05,218.02 541.87,218.03 543.49,218.06 544.95,218.08 546.27,218.11 547.5,218.14 548.65,218.17 549.77,218.21 550.87,218.25 552,218.3 553.11,218.35 554.16,218.41 555.14,218.47 556.07,218.53 556.95,218.6 557.8,218.67 558.62,218.75 559.42,218.83 560.21,218.91 561,219 561.77,219.08 562.49,219.15 563.19,219.21 563.85,219.27 564.51,219.34 565.15,219.42 565.79,219.54 566.44,219.68 567.11,219.87 567.8,220.1 568.52,220.38 569.26,220.69 570.02,221.03 570.78,221.4 571.55,221.8 572.31,222.23 573.05,222.68 573.77,223.17 574.45,223.67 575.1,224.2 575.72,224.76 576.31,225.35 576.89,225.98 577.44,226.63 577.98,227.31 578.49,228 578.98,228.71 579.44,229.44 579.88,230.17 580.3,230.9 580.69,231.64 581.04,232.4 581.37,233.18 581.68,233.96 581.96,234.76 582.23,235.57 582.48,236.39 582.73,237.22 582.96,238.06 583.2,238.9 583.43,239.74 583.64,240.58 583.85,241.42 584.04,242.26 584.23,243.12 584.4,244 584.56,244.9 584.72,245.83 584.86,246.79 585,247.8 585.13,248.86 585.25,249.98 585.35,251.15 585.45,252.35 585.54,253.56 585.62,254.79 585.7,256 585.77,257.2 585.83,258.37 585.9,259.5 585.96,260.5 586.01,261.33 586.06,262.07 586.1,262.77 586.14,263.49 586.17,264.31 586.2,265.29 586.23,266.49 586.27,267.97 586.3,269.8 586.33,271.99 586.36,274.49 586.39,277.25 586.42,280.22 586.45,283.36 586.48,286.62 586.51,289.96 586.54,293.33 586.57,296.7 586.6,300 586.64,303.42 586.67,307.11 586.71,310.97 586.74,314.9 586.78,318.82 586.82,322.64 586.86,326.26 586.91,329.59 586.95,332.53 587,335 587.05,336.97 587.09,338.53 587.12,339.74 587.16,340.66 587.21,341.38 587.26,341.94 587.32,342.41 587.39,342.87 587.49,343.38 587.6,344 587.73,344.66 587.86,345.26 587.99,345.8 588.14,346.3 588.31,346.76 588.49,347.21 588.7,347.64 588.93,348.08 589.2,348.53 589.5,349 589.83,349.49 590.19,349.99 590.58,350.49 590.99,350.98 591.43,351.47 591.9,351.96 592.38,352.44 592.9,352.91 593.44,353.36 594,353.8 594.59,354.22 595.21,354.63 595.85,355.03 596.52,355.42 597.22,355.8 597.94,356.17 598.67,356.54 599.43,356.89 600.21,357.25 601,357.6 601.79,357.95 602.58,358.29 603.36,358.63 604.17,358.96 605,359.29 605.87,359.61 606.8,359.92 607.78,360.22 608.85,360.52 610,360.8 611.1,361.08 612.06,361.35 612.96,361.62 613.89,361.88 614.94,362.14 616.19,362.38 617.74,362.61 619.66,362.82 622.06,363.02 625,363.2 628.81,363.36 633.56,363.51 639,363.63 644.88,363.75 650.94,363.85 656.92,363.94 662.57,364.02 667.64,364.09 671.87,364.15 675,364.2" fill="none" stroke="#2f62d8" stroke-width="1.5" stroke-linejoin="round" />
<polyline points="509.4,218 511.22,218 513.64,218 516.54,217.99 519.78,217.99 523.23,217.98 526.74,217.98 530.19,217.98 533.44,217.98 536.35,217.99 538.8,218 540.85,218.02 542.67,218.03 544.29,218.06 545.75,218.08 547.07,218.11 548.3,218.14 549.45,218.17 550.57,218.21 551.67,218.25 552.8,218.3 553.91,218.35 554.96,218.41 555.94,218.47 556.87,218.53 557.75,218.6 558.6,218.67 559.42,218.75 560.22,218.83 561.01,218.91 561.8,219 562.57,219.08 563.29,219.15 563.99,219.21 564.65,219.27 565.31,219.34 565.95,219.42 566.59,219.54 567.24,219.68 567.91,219.87 568.6,220.1 569.32,220.38 570.06,220.69 570.82,221.03 571.58,221.4 572.35,221.8 573.11,222.23 573.85,222.68 574.57,223.17 575.25,223.67 575.9,224.2 576.52,224.76 577.11,225.35 577.69,225.98 578.24,226.63 578.77,227.31 579.29,228 579.78,228.71 580.24,229.44 580.68,230.17 581.1,230.9 581.49,231.64 581.84,232.4 582.17,233.18 582.48,233.96 582.76,234.76 583.03,235.57 583.28,236.39 583.53,237.22 583.76,238.06 584,238.9 584.23,239.74 584.44,240.58 584.65,241.42 584.84,242.26 585.02,243.12 585.2,244 585.36,244.9 585.52,245.83 585.66,246.79 585.8,247.8 585.93,248.86 586.05,249.98 586.15,251.15 586.25,252.35 586.34,253.56 586.42,254.79 586.5,256 586.57,257.2 586.63,258.37 586.7,259.5 586.76,260.5 586.81,261.33 586.86,262.07 586.9,262.77 586.94,263.49 586.97,264.31 587,265.29 587.03,266.49 587.07,267.97 587.1,269.8 587.13,271.99 587.16,274.49 587.19,277.25 587.22,280.22 587.25,283.36 587.28,286.62 587.31,289.96 587.34,293.33 587.37,296.7 587.4,300 587.44,303.42 587.47,307.11 587.51,310.97 587.54,314.9 587.58,318.82 587.62,322.64 587.66,326.26 587.71,329.59 587.75,332.53 587.8,335 587.85,336.97 587.89,338.53 587.92,339.74 587.96,340.66 588.01,341.38 588.06,341.94 588.12,342.41 588.19,342.87 588.29,343.38 588.4,344 588.53,344.66 588.66,345.26 588.79,345.8 588.94,346.3 589.11,346.76 589.29,347.21 589.5,347.64 589.73,348.08 590,348.53 590.3,349 590.63,349.49 590.99,349.99 591.38,350.49 591.79,350.98 592.23,351.47 592.7,351.96 593.18,352.44 593.7,352.91 594.24,353.36 594.8,353.8 595.39,354.22 596.01,354.63 596.65,355.03 597.32,355.42 598.02,355.8 598.74,356.17 599.47,356.54 600.23,356.89 601.01,357.25 601.8,357.6 602.59,357.95 603.38,358.29 604.16,358.63 604.97,358.96 605.8,359.29 606.67,359.61 607.6,359.92 608.58,360.22 609.65,360.52 610.8,360.8 611.9,361.08 612.86,361.35 613.76,361.62 614.69,361.88 615.74,362.14 616.99,362.38 618.54,362.61 620.46,362.82 622.86,363.02 625.8,363.2 629.61,363.36 634.36,363.51 639.8,363.63 645.68,363.75 651.74,363.85 657.72,363.94 663.37,364.02 668.44,364.09 672.67,364.15 675.8,364.2" fill="none" stroke="#2f62d8" stroke-width="1.5" stroke-linejoin="round" />
<polyline points="510.2,218 512.02,218 514.44,218 517.34,217.99 520.58,217.99 524.03,217.98 527.54,217.98 530.99,217.98 534.24,217.98 537.15,217.99 539.6,218 541.65,218.02 543.47,218.03 545.09,218.06 546.55,218.08 547.88,218.11 549.1,218.14 550.25,218.17 551.37,218.21 552.47,218.25 553.6,218.3 554.71,218.35 555.76,218.41 556.74,218.47 557.67,218.53 558.55,218.6 559.4,218.67 560.22,218.75 561.02,218.83 561.81,218.91 562.6,219 563.37,219.08 564.09,219.15 564.79,219.21 565.45,219.27 566.11,219.34 566.75,219.42 567.39,219.54 568.04,219.68 568.71,219.87 569.4,220.1 570.12,220.38 570.86,220.69 571.62,221.03 572.38,221.4 573.15,221.8 573.91,222.23 574.65,222.68 575.37,223.17 576.05,223.67 576.7,224.2 577.32,224.76 577.91,225.35 578.49,225.98 579.04,226.63 579.58,227.31 580.09,228 580.58,228.71 581.04,229.44 581.48,230.17 581.9,230.9 582.29,231.64 582.64,232.4 582.97,233.18 583.28,233.96 583.56,234.76 583.83,235.57 584.08,236.39 584.33,237.22 584.56,238.06 584.8,238.9 585.03,239.74 585.24,240.58 585.45,241.42 585.64,242.26 585.83,243.12 586,244 586.16,244.9 586.32,245.83 586.46,246.79 586.6,247.8 586.73,248.86 586.85,249.98 586.95,251.15 587.05,252.35 587.14,253.56 587.22,254.79 587.3,256 587.37,257.2 587.43,258.37 587.5,259.5 587.56,260.5 587.61,261.33 587.66,262.07 587.7,262.77 587.74,263.49 587.77,264.31 587.8,265.29 587.83,266.49 587.87,267.97 587.9,269.8 587.93,271.99 587.96,274.49 587.99,277.25 588.02,280.22 588.05,283.36 588.08,286.62 588.11,289.96 588.14,293.33 588.17,296.7 588.2,300 588.24,303.42 588.27,307.11 588.31,310.97 588.34,314.9 588.38,318.82 588.42,322.64 588.46,326.26 588.51,329.59 588.55,332.53 588.6,335 588.65,336.97 588.69,338.53 588.72,339.74 588.76,340.66 588.81,341.38 588.86,341.94 588.92,342.41 588.99,342.87 589.09,343.38 589.2,344 589.33,344.66 589.46,345.26 589.59,345.8 589.74,346.3 589.91,346.76 590.09,347.21 590.3,347.64 590.53,348.08 590.8,348.53 591.1,349 591.43,349.49 591.79,349.99 592.18,350.49 592.59,350.98 593.03,351.47 593.5,351.96 593.98,352.44 594.5,352.91 595.04,353.36 595.6,353.8 596.19,354.22 596.81,354.63 597.45,355.03 598.12,355.42 598.82,355.8 599.54,356.17 600.27,356.54 601.03,356.89 601.81,357.25 602.6,357.6 603.39,357.95 604.18,358.29 604.96,358.63 605.77,358.96 606.6,359.29 607.47,359.61 608.4,359.92 609.38,360.22 610.45,360.52 611.6,360.8 612.7,361.08 613.66,361.35 614.56,361.62 615.49,361.88 616.54,362.14 617.79,362.38 619.34,362.61 621.26,362.82 623.66,363.02 626.6,363.2 630.41,363.36 635.16,363.51 640.6,363.63 646.48,363.75 652.54,363.85 658.52,363.94 664.17,364.02 669.24,364.09 673.47,364.15 676.6,364.2" fill="none" stroke="#2f62d8" stroke-width="1.5" stroke-linejoin="round" />
<polyline points="510.9,218 512.72,218 515.14,218 518.04,217.99 521.28,217.99 524.73,217.98 528.24,217.98 531.69,217.98 534.94,217.98 537.85,217.99 540.3,218 542.35,218.02 544.17,218.03 545.79,218.06 547.25,218.08 548.57,218.11 549.8,218.14 550.95,218.17 552.07,218.21 553.17,218.25 554.3,218.3 555.41,218.35 556.46,218.41 557.44,218.47 558.37,218.53 559.25,218.6 560.1,218.67 560.92,218.75 561.72,218.83 562.51,218.91 563.3,219 564.07,219.08 564.79,219.15 565.49,219.21 566.15,219.27 566.81,219.34 567.45,219.42 568.09,219.54 568.74,219.68 569.41,219.87 570.1,220.1 570.82,220.38 571.56,220.69 572.32,221.03 573.08,221.4 573.85,221.8 574.61,222.23 575.35,222.68 576.07,223.17 576.75,223.67 577.4,224.2 578.02,224.76 578.61,225.35 579.19,225.98 579.74,226.63 580.27,227.31 580.79,228 581.28,228.71 581.74,229.44 582.18,230.17 582.6,230.9 582.99,231.64 583.34,232.4 583.67,233.18 583.98,233.96 584.26,234.76 584.53,235.57 584.78,236.39 585.03,237.22 585.26,238.06 585.5,238.9 585.73,239.74 585.94,240.58 586.15,241.42 586.34,242.26 586.52,243.12 586.7,244 586.86,244.9 587.02,245.83 587.16,246.79 587.3,247.8 587.43,248.86 587.55,249.98 587.65,251.15 587.75,252.35 587.84,253.56 587.92,254.79 588,256 588.07,257.2 588.13,258.37 588.2,259.5 588.26,260.5 588.31,261.33 588.36,262.07 588.4,262.77 588.44,263.49 588.47,264.31 588.5,265.29 588.53,266.49 588.57,267.97 588.6,269.8 588.63,271.99 588.66,274.49 588.69,277.25 588.72,280.22 588.75,283.36 588.78,286.62 588.81,289.96 588.84,293.33 588.87,296.7 588.9,300 588.94,303.42 588.97,307.11 589.01,310.97 589.04,314.9 589.08,318.82 589.12,322.64 589.16,326.26 589.21,329.59 589.25,332.53 589.3,335 589.35,336.97 589.39,338.53 589.42,339.74 589.46,340.66 589.51,341.38 589.56,341.94 589.62,342.41 589.69,342.87 589.79,343.38 589.9,344 590.03,344.66 590.16,345.26 590.29,345.8 590.44,346.3 590.61,346.76 590.79,347.21 591,347.64 591.23,348.08 591.5,348.53 591.8,349 592.13,349.49 592.49,349.99 592.88,350.49 593.29,350.98 593.73,351.47 594.2,351.96 594.68,352.44 595.2,352.91 595.74,353.36 596.3,353.8 596.89,354.22 597.51,354.63 598.15,355.03 598.82,355.42 599.52,355.8 600.24,356.17 600.97,356.54 601.73,356.89 602.51,357.25 603.3,357.6 604.09,357.95 604.88,358.29 605.66,358.63 606.47,358.96 607.3,359.29 608.17,359.61 609.1,359.92 610.08,360.22 611.15,360.52 612.3,360.8 613.4,361.08 614.36,361.35 615.26,361.62 616.19,361.88 617.24,362.14 618.49,362.38 620.04,362.61 621.96,362.82 624.36,363.02 627.3,363.2 631.11,363.36 635.86,363.51 641.3,363.63 647.18,363.75 653.24,363.85 659.22,363.94 664.87,364.02 669.94,364.09 674.17,364.15 677.3,364.2" fill="none" stroke="#2f62d8" stroke-width="1.5" stroke-linejoin="round" />
</g>
<line x1="64.84" y1="155" x2="64.84" y2="151.5" stroke="#000" stroke-width="1.2" />
<line x1="96.92" y1="155" x2="96.92" y2="151.5" stroke="#000" stroke-width="1.2" />
<line x1="129" y1="155" x2="129" y2="151.5" stroke="#000" stroke-width="1.2" />
<line x1="161.08" y1="155" x2="161.08" y2="151.5" stroke="#000" stroke-width="1.2" />
<line x1="193.16" y1="155" x2="193.16" y2="151.5" stroke="#000" stroke-width="1.2" />
<line x1="80.88" y1="155" x2="80.88" y2="153" stroke="#000" stroke-width="1.0" />
<line x1="112.96" y1="155" x2="112.96" y2="153" stroke="#000" stroke-width="1.0" />
<line x1="145.04" y1="155" x2="145.04" y2="153" stroke="#000" stroke-width="1.0" />
<line x1="177.12" y1="155" x2="177.12" y2="153" stroke="#000" stroke-width="1.0" />
<line x1="48.8" y1="155" x2="52.3" y2="155" stroke="#000" stroke-width="1.2" />
<line x1="48.8" y1="138.53" x2="52.3" y2="138.53" stroke="#000" stroke-width="1.2" />
<line x1="48.8" y1="122.07" x2="52.3" y2="122.07" stroke="#000" stroke-width="1.2" />
<line x1="48.8" y1="105.6" x2="52.3" y2="105.6" stroke="#000" stroke-width="1.2" />
<line x1="48.8" y1="89.13" x2="52.3" y2="89.13" stroke="#000" stroke-width="1.2" />
<line x1="48.8" y1="72.67" x2="52.3" y2="72.67" stroke="#000" stroke-width="1.2" />
<line x1="48.8" y1="56.2" x2="52.3" y2="56.2" stroke="#000" stroke-width="1.2" />
<line x1="48.8" y1="39.73" x2="52.3" y2="39.73" stroke="#000" stroke-width="1.2" />
<line x1="48.8" y1="23.27" x2="52.3" y2="23.27" stroke="#000" stroke-width="1.2" />
<line x1="48.8" y1="6.8" x2="52.3" y2="6.8" stroke="#000" stroke-width="1.2" />
<line x1="48.8" y1="150.04" x2="50.8" y2="150.04" stroke="#000" stroke-width="1.0" />
<line x1="48.8" y1="147.14" x2="50.8" y2="147.14" stroke="#000" stroke-width="1.0" />
<line x1="48.8" y1="145.09" x2="50.8" y2="145.09" stroke="#000" stroke-width="1.0" />
<line x1="48.8" y1="143.49" x2="50.8" y2="143.49" stroke="#000" stroke-width="1.0" />
<line x1="48.8" y1="142.19" x2="50.8" y2="142.19" stroke="#000" stroke-width="1.0" />
<line x1="48.8" y1="141.08" x2="50.8" y2="141.08" stroke="#000" stroke-width="1.0" />
<line x1="48.8" y1="140.13" x2="50.8" y2="140.13" stroke="#000" stroke-width="1.0" />
<line x1="48.8" y1="139.29" x2="50.8" y2="139.29" stroke="#000" stroke-width="1.0" />
<line x1="48.8" y1="133.58" x2="50.8" y2="133.58" stroke="#000" stroke-width="1.0" />
<line x1="48.8" y1="130.68" x2="50.8" y2="130.68" stroke="#000" stroke-width="1.0" />
<line x1="48.8" y1="128.62" x2="50.8" y2="128.62" stroke="#000" stroke-width="1.0" />
<line x1="48.8" y1="127.02" x2="50.8" y2="127.02" stroke="#000" stroke-width="1.0" />
<line x1="48.8" y1="125.72" x2="50.8" y2="125.72" stroke="#000" stroke-width="1.0" />
<line x1="48.8" y1="124.62" x2="50.8" y2="124.62" stroke="#000" stroke-width="1.0" />
<line x1="48.8" y1="123.66" x2="50.8" y2="123.66" stroke="#000" stroke-width="1.0" />
<line x1="48.8" y1="122.82" x2="50.8" y2="122.82" stroke="#000" stroke-width="1.0" />
<line x1="48.8" y1="117.11" x2="50.8" y2="117.11" stroke="#000" stroke-width="1.0" />
<line x1="48.8" y1="114.21" x2="50.8" y2="114.21" stroke="#000" stroke-width="1.0" />
<line x1="48.8" y1="112.15" x2="50.8" y2="112.15" stroke="#000" stroke-width="1.0" />
<line x1="48.8" y1="110.56" x2="50.8" y2="110.56" stroke="#000" stroke-width="1.0" />
<line x1="48.8" y1="109.25" x2="50.8" y2="109.25" stroke="#000" stroke-width="1.0" />
<line x1="48.8" y1="108.15" x2="50.8" y2="108.15" stroke="#000" stroke-width="1.0" />
<line x1="48.8" y1="107.2" x2="50.8" y2="107.2" stroke="#000" stroke-width="1.0" />
<line x1="48.8" y1="106.35" x2="50.8" y2="106.35" stroke="#000" stroke-width="1.0" />
<line x1="48.8" y1="100.64" x2="50.8" y2="100.64" stroke="#000" stroke-width="1.0" />
<line x1="48.8" y1="97.74" x2="50.8" y2="97.74" stroke="#000" stroke-width="1.0" />
<line x1="48.8" y1="95.69" x2="50.8" y2="95.69" stroke="#000" stroke-width="1.0" />
<line x1="48.8" y1="94.09" x2="50.8" y2="94.09" stroke="#000" stroke-width="1.0" />
<line x1="48.8" y1="92.79" x2="50.8" y2="92.79" stroke="#000" stroke-width="1.0" />
<line x1="48.8" y1="91.68" x2="50.8" y2="91.68" stroke="#000" stroke-width="1.0" />
<line x1="48.8" y1="90.73" x2="50.8" y2="90.73" stroke="#000" stroke-width="1.0" />
<line x1="48.8" y1="89.89" x2="50.8" y2="89.89" stroke="#000" stroke-width="1.0" />
<line x1="48.8" y1="84.18" x2="50.8" y2="84.18" stroke="#000" stroke-width="1.0" />
<line x1="48.8" y1="81.28" x2="50.8" y2="81.28" stroke="#000" stroke-width="1.0" />
<line x1="48.8" y1="79.22" x2="50.8" y2="79.22" stroke="#000" stroke-width="1.0" />
<line x1="48.8" y1="77.62" x2="50.8" y2="77.62" stroke="#000" stroke-width="1.0" />
<line x1="48.8" y1="76.32" x2="50.8" y2="76.32" stroke="#000" stroke-width="1.0" />
<line x1="48.8" y1="75.22" x2="50.8" y2="75.22" stroke="#000" stroke-width="1.0" />
<line x1="48.8" y1="74.26" x2="50.8" y2="74.26" stroke="#000" stroke-width="1.0" />
<line x1="48.8" y1="73.42" x2="50.8" y2="73.42" stroke="#000" stroke-width="1.0" />
<line x1="48.8" y1="67.71" x2="50.8" y2="67.71" stroke="#000" stroke-width="1.0" />
<line x1="48.8" y1="64.81" x2="50.8" y2="64.81" stroke="#000" stroke-width="1.0" />
<line x1="48.8" y1="62.75" x2="50.8" y2="62.75" stroke="#000" stroke-width="1.0" />
<line x1="48.8" y1="61.16" x2="50.8" y2="61.16" stroke="#000" stroke-width="1.0" />
<line x1="48.8" y1="59.85" x2="50.8" y2="59.85" stroke="#000" stroke-width="1.0" />
<line x1="48.8" y1="58.75" x2="50.8" y2="58.75" stroke="#000" stroke-width="1.0" />
<line x1="48.8" y1="57.8" x2="50.8" y2="57.8" stroke="#000" stroke-width="1.0" />
<line x1="48.8" y1="56.95" x2="50.8" y2="56.95" stroke="#000" stroke-width="1.0" />
<line x1="48.8" y1="51.24" x2="50.8" y2="51.24" stroke="#000" stroke-width="1.0" />
<line x1="48.8" y1="48.34" x2="50.8" y2="48.34" stroke="#000" stroke-width="1.0" />
<line x1="48.8" y1="46.29" x2="50.8" y2="46.29" stroke="#000" stroke-width="1.0" />
<line x1="48.8" y1="44.69" x2="50.8" y2="44.69" stroke="#000" stroke-width="1.0" />
<line x1="48.8" y1="43.39" x2="50.8" y2="43.39" stroke="#000" stroke-width="1.0" />
<line x1="48.8" y1="42.28" x2="50.8" y2="42.28" stroke="#000" stroke-width="1.0" />
<line x1="48.8" y1="41.33" x2="50.8" y2="41.33" stroke="#000" stroke-width="1.0" />
<line x1="48.8" y1="40.49" x2="50.8" y2="40.49" stroke="#000" stroke-width="1.0" />
<line x1="48.8" y1="34.78" x2="50.8" y2="34.78" stroke="#000" stroke-width="1.0" />
<line x1="48.8" y1="31.88" x2="50.8" y2="31.88" stroke="#000" stroke-width="1.0" />
<line x1="48.8" y1="29.82" x2="50.8" y2="29.82" stroke="#000" stroke-width="1.0" />
<line x1="48.8" y1="28.22" x2="50.8" y2="28.22" stroke="#000" stroke-width="1.0" />
<line x1="48.8" y1="26.92" x2="50.8" y2="26.92" stroke="#000" stroke-width="1.0" />
<line x1="48.8" y1="25.82" x2="50.8" y2="25.82" stroke="#000" stroke-width="1.0" />
<line x1="48.8" y1="24.86" x2="50.8" y2="24.86" stroke="#000" stroke-width="1.0" />
<line x1="48.8" y1="24.02" x2="50.8" y2="24.02" stroke="#000" stroke-width="1.0" />
<line x1="48.8" y1="18.31" x2="50.8" y2="18.31" stroke="#000" stroke-width="1.0" />
<line x1="48.8" y1="15.41" x2="50.8" y2="15.41" stroke="#000" stroke-width="1.0" />
<line x1="48.8" y1="13.35" x2="50.8" y2="13.35" stroke="#000" stroke-width="1.0" />
<line x1="48.8" y1="11.76" x2="50.8" y2="11.76" stroke="#000" stroke-width="1.0" />
<line x1="48.8" y1="10.45" x2="50.8" y2="10.45" stroke="#000" stroke-width="1.0" />
<line x1="48.8" y1="9.35" x2="50.8" y2="9.35" stroke="#000" stroke-width="1.0" />
<line x1="48.8" y1="8.4" x2="50.8" y2="8.4" stroke="#000" stroke-width="1.0" />
<line x1="48.8" y1="7.55" x2="50.8" y2="7.55" stroke="#000" stroke-width="1.0" />
<rect x="48.8" y="6.8" width="160.4" height="148.2" fill="none" stroke="#2a2a2a" stroke-width="1.3"/>
<line x1="48.8" y1="6.2" x2="48.8" y2="155.8" stroke="#000" stroke-width="1.7" />
<line x1="48" y1="155" x2="209.8" y2="155" stroke="#000" stroke-width="1.7" />
<line x1="65.46" y1="362.2" x2="65.46" y2="358.7" stroke="#000" stroke-width="1.2" />
<line x1="97.58" y1="362.2" x2="97.58" y2="358.7" stroke="#000" stroke-width="1.2" />
<line x1="129.7" y1="362.2" x2="129.7" y2="358.7" stroke="#000" stroke-width="1.2" />
<line x1="161.82" y1="362.2" x2="161.82" y2="358.7" stroke="#000" stroke-width="1.2" />
<line x1="193.94" y1="362.2" x2="193.94" y2="358.7" stroke="#000" stroke-width="1.2" />
<line x1="81.52" y1="362.2" x2="81.52" y2="360.2" stroke="#000" stroke-width="1.0" />
<line x1="113.64" y1="362.2" x2="113.64" y2="360.2" stroke="#000" stroke-width="1.0" />
<line x1="145.76" y1="362.2" x2="145.76" y2="360.2" stroke="#000" stroke-width="1.0" />
<line x1="177.88" y1="362.2" x2="177.88" y2="360.2" stroke="#000" stroke-width="1.0" />
<line x1="49.4" y1="362.2" x2="52.9" y2="362.2" stroke="#000" stroke-width="1.2" />
<line x1="49.4" y1="345.79" x2="52.9" y2="345.79" stroke="#000" stroke-width="1.2" />
<line x1="49.4" y1="329.38" x2="52.9" y2="329.38" stroke="#000" stroke-width="1.2" />
<line x1="49.4" y1="312.97" x2="52.9" y2="312.97" stroke="#000" stroke-width="1.2" />
<line x1="49.4" y1="296.56" x2="52.9" y2="296.56" stroke="#000" stroke-width="1.2" />
<line x1="49.4" y1="280.14" x2="52.9" y2="280.14" stroke="#000" stroke-width="1.2" />
<line x1="49.4" y1="263.73" x2="52.9" y2="263.73" stroke="#000" stroke-width="1.2" />
<line x1="49.4" y1="247.32" x2="52.9" y2="247.32" stroke="#000" stroke-width="1.2" />
<line x1="49.4" y1="230.91" x2="52.9" y2="230.91" stroke="#000" stroke-width="1.2" />
<line x1="49.4" y1="214.5" x2="52.9" y2="214.5" stroke="#000" stroke-width="1.2" />
<line x1="49.4" y1="357.26" x2="51.4" y2="357.26" stroke="#000" stroke-width="1.0" />
<line x1="49.4" y1="354.37" x2="51.4" y2="354.37" stroke="#000" stroke-width="1.0" />
<line x1="49.4" y1="352.32" x2="51.4" y2="352.32" stroke="#000" stroke-width="1.0" />
<line x1="49.4" y1="350.73" x2="51.4" y2="350.73" stroke="#000" stroke-width="1.0" />
<line x1="49.4" y1="349.43" x2="51.4" y2="349.43" stroke="#000" stroke-width="1.0" />
<line x1="49.4" y1="348.33" x2="51.4" y2="348.33" stroke="#000" stroke-width="1.0" />
<line x1="49.4" y1="347.38" x2="51.4" y2="347.38" stroke="#000" stroke-width="1.0" />
<line x1="49.4" y1="346.54" x2="51.4" y2="346.54" stroke="#000" stroke-width="1.0" />
<line x1="49.4" y1="340.85" x2="51.4" y2="340.85" stroke="#000" stroke-width="1.0" />
<line x1="49.4" y1="337.96" x2="51.4" y2="337.96" stroke="#000" stroke-width="1.0" />
<line x1="49.4" y1="335.91" x2="51.4" y2="335.91" stroke="#000" stroke-width="1.0" />
<line x1="49.4" y1="334.32" x2="51.4" y2="334.32" stroke="#000" stroke-width="1.0" />
<line x1="49.4" y1="333.02" x2="51.4" y2="333.02" stroke="#000" stroke-width="1.0" />
<line x1="49.4" y1="331.92" x2="51.4" y2="331.92" stroke="#000" stroke-width="1.0" />
<line x1="49.4" y1="330.97" x2="51.4" y2="330.97" stroke="#000" stroke-width="1.0" />
<line x1="49.4" y1="330.13" x2="51.4" y2="330.13" stroke="#000" stroke-width="1.0" />
<line x1="49.4" y1="324.44" x2="51.4" y2="324.44" stroke="#000" stroke-width="1.0" />
<line x1="49.4" y1="321.55" x2="51.4" y2="321.55" stroke="#000" stroke-width="1.0" />
<line x1="49.4" y1="319.5" x2="51.4" y2="319.5" stroke="#000" stroke-width="1.0" />
<line x1="49.4" y1="317.91" x2="51.4" y2="317.91" stroke="#000" stroke-width="1.0" />
<line x1="49.4" y1="316.61" x2="51.4" y2="316.61" stroke="#000" stroke-width="1.0" />
<line x1="49.4" y1="315.51" x2="51.4" y2="315.51" stroke="#000" stroke-width="1.0" />
<line x1="49.4" y1="314.56" x2="51.4" y2="314.56" stroke="#000" stroke-width="1.0" />
<line x1="49.4" y1="313.72" x2="51.4" y2="313.72" stroke="#000" stroke-width="1.0" />
<line x1="49.4" y1="308.03" x2="51.4" y2="308.03" stroke="#000" stroke-width="1.0" />
<line x1="49.4" y1="305.14" x2="51.4" y2="305.14" stroke="#000" stroke-width="1.0" />
<line x1="49.4" y1="303.09" x2="51.4" y2="303.09" stroke="#000" stroke-width="1.0" />
<line x1="49.4" y1="301.5" x2="51.4" y2="301.5" stroke="#000" stroke-width="1.0" />
<line x1="49.4" y1="300.2" x2="51.4" y2="300.2" stroke="#000" stroke-width="1.0" />
<line x1="49.4" y1="299.1" x2="51.4" y2="299.1" stroke="#000" stroke-width="1.0" />
<line x1="49.4" y1="298.15" x2="51.4" y2="298.15" stroke="#000" stroke-width="1.0" />
<line x1="49.4" y1="297.31" x2="51.4" y2="297.31" stroke="#000" stroke-width="1.0" />
<line x1="49.4" y1="291.62" x2="51.4" y2="291.62" stroke="#000" stroke-width="1.0" />
<line x1="49.4" y1="288.73" x2="51.4" y2="288.73" stroke="#000" stroke-width="1.0" />
<line x1="49.4" y1="286.68" x2="51.4" y2="286.68" stroke="#000" stroke-width="1.0" />
<line x1="49.4" y1="285.08" x2="51.4" y2="285.08" stroke="#000" stroke-width="1.0" />
<line x1="49.4" y1="283.79" x2="51.4" y2="283.79" stroke="#000" stroke-width="1.0" />
<line x1="49.4" y1="282.69" x2="51.4" y2="282.69" stroke="#000" stroke-width="1.0" />
<line x1="49.4" y1="281.73" x2="51.4" y2="281.73" stroke="#000" stroke-width="1.0" />
<line x1="49.4" y1="280.9" x2="51.4" y2="280.9" stroke="#000" stroke-width="1.0" />
<line x1="49.4" y1="275.2" x2="51.4" y2="275.2" stroke="#000" stroke-width="1.0" />
<line x1="49.4" y1="272.31" x2="51.4" y2="272.31" stroke="#000" stroke-width="1.0" />
<line x1="49.4" y1="270.26" x2="51.4" y2="270.26" stroke="#000" stroke-width="1.0" />
<line x1="49.4" y1="268.67" x2="51.4" y2="268.67" stroke="#000" stroke-width="1.0" />
<line x1="49.4" y1="267.37" x2="51.4" y2="267.37" stroke="#000" stroke-width="1.0" />
<line x1="49.4" y1="266.28" x2="51.4" y2="266.28" stroke="#000" stroke-width="1.0" />
<line x1="49.4" y1="265.32" x2="51.4" y2="265.32" stroke="#000" stroke-width="1.0" />
<line x1="49.4" y1="264.48" x2="51.4" y2="264.48" stroke="#000" stroke-width="1.0" />
<line x1="49.4" y1="258.79" x2="51.4" y2="258.79" stroke="#000" stroke-width="1.0" />
<line x1="49.4" y1="255.9" x2="51.4" y2="255.9" stroke="#000" stroke-width="1.0" />
<line x1="49.4" y1="253.85" x2="51.4" y2="253.85" stroke="#000" stroke-width="1.0" />
<line x1="49.4" y1="252.26" x2="51.4" y2="252.26" stroke="#000" stroke-width="1.0" />
<line x1="49.4" y1="250.96" x2="51.4" y2="250.96" stroke="#000" stroke-width="1.0" />
<line x1="49.4" y1="249.86" x2="51.4" y2="249.86" stroke="#000" stroke-width="1.0" />
<line x1="49.4" y1="248.91" x2="51.4" y2="248.91" stroke="#000" stroke-width="1.0" />
<line x1="49.4" y1="248.07" x2="51.4" y2="248.07" stroke="#000" stroke-width="1.0" />
<line x1="49.4" y1="242.38" x2="51.4" y2="242.38" stroke="#000" stroke-width="1.0" />
<line x1="49.4" y1="239.49" x2="51.4" y2="239.49" stroke="#000" stroke-width="1.0" />
<line x1="49.4" y1="237.44" x2="51.4" y2="237.44" stroke="#000" stroke-width="1.0" />
<line x1="49.4" y1="235.85" x2="51.4" y2="235.85" stroke="#000" stroke-width="1.0" />
<line x1="49.4" y1="234.55" x2="51.4" y2="234.55" stroke="#000" stroke-width="1.0" />
<line x1="49.4" y1="233.45" x2="51.4" y2="233.45" stroke="#000" stroke-width="1.0" />
<line x1="49.4" y1="232.5" x2="51.4" y2="232.5" stroke="#000" stroke-width="1.0" />
<line x1="49.4" y1="231.66" x2="51.4" y2="231.66" stroke="#000" stroke-width="1.0" />
<line x1="49.4" y1="225.97" x2="51.4" y2="225.97" stroke="#000" stroke-width="1.0" />
<line x1="49.4" y1="223.08" x2="51.4" y2="223.08" stroke="#000" stroke-width="1.0" />
<line x1="49.4" y1="221.03" x2="51.4" y2="221.03" stroke="#000" stroke-width="1.0" />
<line x1="49.4" y1="219.44" x2="51.4" y2="219.44" stroke="#000" stroke-width="1.0" />
<line x1="49.4" y1="218.14" x2="51.4" y2="218.14" stroke="#000" stroke-width="1.0" />
<line x1="49.4" y1="217.04" x2="51.4" y2="217.04" stroke="#000" stroke-width="1.0" />
<line x1="49.4" y1="216.09" x2="51.4" y2="216.09" stroke="#000" stroke-width="1.0" />
<line x1="49.4" y1="215.25" x2="51.4" y2="215.25" stroke="#000" stroke-width="1.0" />
<rect x="49.4" y="214.5" width="160.6" height="147.7" fill="none" stroke="#2a2a2a" stroke-width="1.3"/>
<line x1="49.4" y1="213.9" x2="49.4" y2="363" stroke="#000" stroke-width="1.7" />
<line x1="48.6" y1="362.2" x2="210.6" y2="362.2" stroke="#000" stroke-width="1.7" />
<line x1="299.95" y1="157.6" x2="299.95" y2="154.1" stroke="#000" stroke-width="1.2" />
<line x1="332.25" y1="157.6" x2="332.25" y2="154.1" stroke="#000" stroke-width="1.2" />
<line x1="364.55" y1="157.6" x2="364.55" y2="154.1" stroke="#000" stroke-width="1.2" />
<line x1="396.85" y1="157.6" x2="396.85" y2="154.1" stroke="#000" stroke-width="1.2" />
<line x1="429.15" y1="157.6" x2="429.15" y2="154.1" stroke="#000" stroke-width="1.2" />
<line x1="316.1" y1="157.6" x2="316.1" y2="155.6" stroke="#000" stroke-width="1.0" />
<line x1="348.4" y1="157.6" x2="348.4" y2="155.6" stroke="#000" stroke-width="1.0" />
<line x1="380.7" y1="157.6" x2="380.7" y2="155.6" stroke="#000" stroke-width="1.0" />
<line x1="413" y1="157.6" x2="413" y2="155.6" stroke="#000" stroke-width="1.0" />
<line x1="283.8" y1="157.6" x2="287.3" y2="157.6" stroke="#000" stroke-width="1.2" />
<line x1="283.8" y1="132.8" x2="287.3" y2="132.8" stroke="#000" stroke-width="1.2" />
<line x1="283.8" y1="108" x2="287.3" y2="108" stroke="#000" stroke-width="1.2" />
<line x1="283.8" y1="83.2" x2="287.3" y2="83.2" stroke="#000" stroke-width="1.2" />
<line x1="283.8" y1="58.4" x2="287.3" y2="58.4" stroke="#000" stroke-width="1.2" />
<line x1="283.8" y1="33.6" x2="287.3" y2="33.6" stroke="#000" stroke-width="1.2" />
<line x1="283.8" y1="8.8" x2="287.3" y2="8.8" stroke="#000" stroke-width="1.2" />
<line x1="283.8" y1="150.13" x2="285.8" y2="150.13" stroke="#000" stroke-width="1.0" />
<line x1="283.8" y1="145.77" x2="285.8" y2="145.77" stroke="#000" stroke-width="1.0" />
<line x1="283.8" y1="142.67" x2="285.8" y2="142.67" stroke="#000" stroke-width="1.0" />
<line x1="283.8" y1="140.27" x2="285.8" y2="140.27" stroke="#000" stroke-width="1.0" />
<line x1="283.8" y1="138.3" x2="285.8" y2="138.3" stroke="#000" stroke-width="1.0" />
<line x1="283.8" y1="136.64" x2="285.8" y2="136.64" stroke="#000" stroke-width="1.0" />
<line x1="283.8" y1="135.2" x2="285.8" y2="135.2" stroke="#000" stroke-width="1.0" />
<line x1="283.8" y1="133.93" x2="285.8" y2="133.93" stroke="#000" stroke-width="1.0" />
<line x1="283.8" y1="125.33" x2="285.8" y2="125.33" stroke="#000" stroke-width="1.0" />
<line x1="283.8" y1="120.97" x2="285.8" y2="120.97" stroke="#000" stroke-width="1.0" />
<line x1="283.8" y1="117.87" x2="285.8" y2="117.87" stroke="#000" stroke-width="1.0" />
<line x1="283.8" y1="115.47" x2="285.8" y2="115.47" stroke="#000" stroke-width="1.0" />
<line x1="283.8" y1="113.5" x2="285.8" y2="113.5" stroke="#000" stroke-width="1.0" />
<line x1="283.8" y1="111.84" x2="285.8" y2="111.84" stroke="#000" stroke-width="1.0" />
<line x1="283.8" y1="110.4" x2="285.8" y2="110.4" stroke="#000" stroke-width="1.0" />
<line x1="283.8" y1="109.13" x2="285.8" y2="109.13" stroke="#000" stroke-width="1.0" />
<line x1="283.8" y1="100.53" x2="285.8" y2="100.53" stroke="#000" stroke-width="1.0" />
<line x1="283.8" y1="96.17" x2="285.8" y2="96.17" stroke="#000" stroke-width="1.0" />
<line x1="283.8" y1="93.07" x2="285.8" y2="93.07" stroke="#000" stroke-width="1.0" />
<line x1="283.8" y1="90.67" x2="285.8" y2="90.67" stroke="#000" stroke-width="1.0" />
<line x1="283.8" y1="88.7" x2="285.8" y2="88.7" stroke="#000" stroke-width="1.0" />
<line x1="283.8" y1="87.04" x2="285.8" y2="87.04" stroke="#000" stroke-width="1.0" />
<line x1="283.8" y1="85.6" x2="285.8" y2="85.6" stroke="#000" stroke-width="1.0" />
<line x1="283.8" y1="84.33" x2="285.8" y2="84.33" stroke="#000" stroke-width="1.0" />
<line x1="283.8" y1="75.73" x2="285.8" y2="75.73" stroke="#000" stroke-width="1.0" />
<line x1="283.8" y1="71.37" x2="285.8" y2="71.37" stroke="#000" stroke-width="1.0" />
<line x1="283.8" y1="68.27" x2="285.8" y2="68.27" stroke="#000" stroke-width="1.0" />
<line x1="283.8" y1="65.87" x2="285.8" y2="65.87" stroke="#000" stroke-width="1.0" />
<line x1="283.8" y1="63.9" x2="285.8" y2="63.9" stroke="#000" stroke-width="1.0" />
<line x1="283.8" y1="62.24" x2="285.8" y2="62.24" stroke="#000" stroke-width="1.0" />
<line x1="283.8" y1="60.8" x2="285.8" y2="60.8" stroke="#000" stroke-width="1.0" />
<line x1="283.8" y1="59.53" x2="285.8" y2="59.53" stroke="#000" stroke-width="1.0" />
<line x1="283.8" y1="50.93" x2="285.8" y2="50.93" stroke="#000" stroke-width="1.0" />
<line x1="283.8" y1="46.57" x2="285.8" y2="46.57" stroke="#000" stroke-width="1.0" />
<line x1="283.8" y1="43.47" x2="285.8" y2="43.47" stroke="#000" stroke-width="1.0" />
<line x1="283.8" y1="41.07" x2="285.8" y2="41.07" stroke="#000" stroke-width="1.0" />
<line x1="283.8" y1="39.1" x2="285.8" y2="39.1" stroke="#000" stroke-width="1.0" />
<line x1="283.8" y1="37.44" x2="285.8" y2="37.44" stroke="#000" stroke-width="1.0" />
<line x1="283.8" y1="36" x2="285.8" y2="36" stroke="#000" stroke-width="1.0" />
<line x1="283.8" y1="34.73" x2="285.8" y2="34.73" stroke="#000" stroke-width="1.0" />
<line x1="283.8" y1="26.13" x2="285.8" y2="26.13" stroke="#000" stroke-width="1.0" />
<line x1="283.8" y1="21.77" x2="285.8" y2="21.77" stroke="#000" stroke-width="1.0" />
<line x1="283.8" y1="18.67" x2="285.8" y2="18.67" stroke="#000" stroke-width="1.0" />
<line x1="283.8" y1="16.27" x2="285.8" y2="16.27" stroke="#000" stroke-width="1.0" />
<line x1="283.8" y1="14.3" x2="285.8" y2="14.3" stroke="#000" stroke-width="1.0" />
<line x1="283.8" y1="12.64" x2="285.8" y2="12.64" stroke="#000" stroke-width="1.0" />
<line x1="283.8" y1="11.2" x2="285.8" y2="11.2" stroke="#000" stroke-width="1.0" />
<line x1="283.8" y1="9.93" x2="285.8" y2="9.93" stroke="#000" stroke-width="1.0" />
<rect x="283.8" y="8.8" width="161.5" height="148.8" fill="none" stroke="#2a2a2a" stroke-width="1.3"/>
<line x1="283.8" y1="8.2" x2="283.8" y2="158.4" stroke="#000" stroke-width="1.7" />
<line x1="283" y1="157.6" x2="445.9" y2="157.6" stroke="#000" stroke-width="1.7" />
<line x1="298.15" y1="364.2" x2="298.15" y2="360.7" stroke="#000" stroke-width="1.2" />
<line x1="330.45" y1="364.2" x2="330.45" y2="360.7" stroke="#000" stroke-width="1.2" />
<line x1="362.75" y1="364.2" x2="362.75" y2="360.7" stroke="#000" stroke-width="1.2" />
<line x1="395.05" y1="364.2" x2="395.05" y2="360.7" stroke="#000" stroke-width="1.2" />
<line x1="427.35" y1="364.2" x2="427.35" y2="360.7" stroke="#000" stroke-width="1.2" />
<line x1="314.3" y1="364.2" x2="314.3" y2="362.2" stroke="#000" stroke-width="1.0" />
<line x1="346.6" y1="364.2" x2="346.6" y2="362.2" stroke="#000" stroke-width="1.0" />
<line x1="378.9" y1="364.2" x2="378.9" y2="362.2" stroke="#000" stroke-width="1.0" />
<line x1="411.2" y1="364.2" x2="411.2" y2="362.2" stroke="#000" stroke-width="1.0" />
<line x1="282" y1="364.2" x2="285.5" y2="364.2" stroke="#000" stroke-width="1.2" />
<line x1="282" y1="339.42" x2="285.5" y2="339.42" stroke="#000" stroke-width="1.2" />
<line x1="282" y1="314.63" x2="285.5" y2="314.63" stroke="#000" stroke-width="1.2" />
<line x1="282" y1="289.85" x2="285.5" y2="289.85" stroke="#000" stroke-width="1.2" />
<line x1="282" y1="265.07" x2="285.5" y2="265.07" stroke="#000" stroke-width="1.2" />
<line x1="282" y1="240.28" x2="285.5" y2="240.28" stroke="#000" stroke-width="1.2" />
<line x1="282" y1="215.5" x2="285.5" y2="215.5" stroke="#000" stroke-width="1.2" />
<line x1="282" y1="356.74" x2="284" y2="356.74" stroke="#000" stroke-width="1.0" />
<line x1="282" y1="352.38" x2="284" y2="352.38" stroke="#000" stroke-width="1.0" />
<line x1="282" y1="349.28" x2="284" y2="349.28" stroke="#000" stroke-width="1.0" />
<line x1="282" y1="346.88" x2="284" y2="346.88" stroke="#000" stroke-width="1.0" />
<line x1="282" y1="344.91" x2="284" y2="344.91" stroke="#000" stroke-width="1.0" />
<line x1="282" y1="343.26" x2="284" y2="343.26" stroke="#000" stroke-width="1.0" />
<line x1="282" y1="341.82" x2="284" y2="341.82" stroke="#000" stroke-width="1.0" />
<line x1="282" y1="340.55" x2="284" y2="340.55" stroke="#000" stroke-width="1.0" />
<line x1="282" y1="331.96" x2="284" y2="331.96" stroke="#000" stroke-width="1.0" />
<line x1="282" y1="327.59" x2="284" y2="327.59" stroke="#000" stroke-width="1.0" />
<line x1="282" y1="324.5" x2="284" y2="324.5" stroke="#000" stroke-width="1.0" />
<line x1="282" y1="322.09" x2="284" y2="322.09" stroke="#000" stroke-width="1.0" />
<line x1="282" y1="320.13" x2="284" y2="320.13" stroke="#000" stroke-width="1.0" />
<line x1="282" y1="318.47" x2="284" y2="318.47" stroke="#000" stroke-width="1.0" />
<line x1="282" y1="317.04" x2="284" y2="317.04" stroke="#000" stroke-width="1.0" />
<line x1="282" y1="315.77" x2="284" y2="315.77" stroke="#000" stroke-width="1.0" />
<line x1="282" y1="307.17" x2="284" y2="307.17" stroke="#000" stroke-width="1.0" />
<line x1="282" y1="302.81" x2="284" y2="302.81" stroke="#000" stroke-width="1.0" />
<line x1="282" y1="299.71" x2="284" y2="299.71" stroke="#000" stroke-width="1.0" />
<line x1="282" y1="297.31" x2="284" y2="297.31" stroke="#000" stroke-width="1.0" />
<line x1="282" y1="295.35" x2="284" y2="295.35" stroke="#000" stroke-width="1.0" />
<line x1="282" y1="293.69" x2="284" y2="293.69" stroke="#000" stroke-width="1.0" />
<line x1="282" y1="292.25" x2="284" y2="292.25" stroke="#000" stroke-width="1.0" />
<line x1="282" y1="290.98" x2="284" y2="290.98" stroke="#000" stroke-width="1.0" />
<line x1="282" y1="282.39" x2="284" y2="282.39" stroke="#000" stroke-width="1.0" />
<line x1="282" y1="278.03" x2="284" y2="278.03" stroke="#000" stroke-width="1.0" />
<line x1="282" y1="274.93" x2="284" y2="274.93" stroke="#000" stroke-width="1.0" />
<line x1="282" y1="272.53" x2="284" y2="272.53" stroke="#000" stroke-width="1.0" />
<line x1="282" y1="270.56" x2="284" y2="270.56" stroke="#000" stroke-width="1.0" />
<line x1="282" y1="268.91" x2="284" y2="268.91" stroke="#000" stroke-width="1.0" />
<line x1="282" y1="267.47" x2="284" y2="267.47" stroke="#000" stroke-width="1.0" />
<line x1="282" y1="266.2" x2="284" y2="266.2" stroke="#000" stroke-width="1.0" />
<line x1="282" y1="257.61" x2="284" y2="257.61" stroke="#000" stroke-width="1.0" />
<line x1="282" y1="253.24" x2="284" y2="253.24" stroke="#000" stroke-width="1.0" />
<line x1="282" y1="250.15" x2="284" y2="250.15" stroke="#000" stroke-width="1.0" />
<line x1="282" y1="247.74" x2="284" y2="247.74" stroke="#000" stroke-width="1.0" />
<line x1="282" y1="245.78" x2="284" y2="245.78" stroke="#000" stroke-width="1.0" />
<line x1="282" y1="244.12" x2="284" y2="244.12" stroke="#000" stroke-width="1.0" />
<line x1="282" y1="242.69" x2="284" y2="242.69" stroke="#000" stroke-width="1.0" />
<line x1="282" y1="241.42" x2="284" y2="241.42" stroke="#000" stroke-width="1.0" />
<line x1="282" y1="232.82" x2="284" y2="232.82" stroke="#000" stroke-width="1.0" />
<line x1="282" y1="228.46" x2="284" y2="228.46" stroke="#000" stroke-width="1.0" />
<line x1="282" y1="225.36" x2="284" y2="225.36" stroke="#000" stroke-width="1.0" />
<line x1="282" y1="222.96" x2="284" y2="222.96" stroke="#000" stroke-width="1.0" />
<line x1="282" y1="221" x2="284" y2="221" stroke="#000" stroke-width="1.0" />
<line x1="282" y1="219.34" x2="284" y2="219.34" stroke="#000" stroke-width="1.0" />
<line x1="282" y1="217.9" x2="284" y2="217.9" stroke="#000" stroke-width="1.0" />
<line x1="282" y1="216.63" x2="284" y2="216.63" stroke="#000" stroke-width="1.0" />
<rect x="282" y="215.5" width="161.5" height="148.7" fill="none" stroke="#2a2a2a" stroke-width="1.3"/>
<line x1="282" y1="214.9" x2="282" y2="365" stroke="#000" stroke-width="1.7" />
<line x1="281.2" y1="364.2" x2="444.1" y2="364.2" stroke="#000" stroke-width="1.7" />
<line x1="507" y1="162.3" x2="507" y2="158.8" stroke="#000" stroke-width="1.2" />
<line x1="534.7" y1="162.3" x2="534.7" y2="158.8" stroke="#000" stroke-width="1.2" />
<line x1="562.4" y1="162.3" x2="562.4" y2="158.8" stroke="#000" stroke-width="1.2" />
<line x1="590.1" y1="162.3" x2="590.1" y2="158.8" stroke="#000" stroke-width="1.2" />
<line x1="617.8" y1="162.3" x2="617.8" y2="158.8" stroke="#000" stroke-width="1.2" />
<line x1="645.5" y1="162.3" x2="645.5" y2="158.8" stroke="#000" stroke-width="1.2" />
<line x1="673.2" y1="162.3" x2="673.2" y2="158.8" stroke="#000" stroke-width="1.2" />
<line x1="520.85" y1="162.3" x2="520.85" y2="160.3" stroke="#000" stroke-width="1.0" />
<line x1="548.55" y1="162.3" x2="548.55" y2="160.3" stroke="#000" stroke-width="1.0" />
<line x1="576.25" y1="162.3" x2="576.25" y2="160.3" stroke="#000" stroke-width="1.0" />
<line x1="603.95" y1="162.3" x2="603.95" y2="160.3" stroke="#000" stroke-width="1.0" />
<line x1="631.65" y1="162.3" x2="631.65" y2="160.3" stroke="#000" stroke-width="1.0" />
<line x1="659.35" y1="162.3" x2="659.35" y2="160.3" stroke="#000" stroke-width="1.0" />
<line x1="507" y1="158.4" x2="510.5" y2="158.4" stroke="#000" stroke-width="1.2" />
<line x1="507" y1="133.9" x2="510.5" y2="133.9" stroke="#000" stroke-width="1.2" />
<line x1="507" y1="109.4" x2="510.5" y2="109.4" stroke="#000" stroke-width="1.2" />
<line x1="507" y1="84.9" x2="510.5" y2="84.9" stroke="#000" stroke-width="1.2" />
<line x1="507" y1="60.4" x2="510.5" y2="60.4" stroke="#000" stroke-width="1.2" />
<line x1="507" y1="35.9" x2="510.5" y2="35.9" stroke="#000" stroke-width="1.2" />
<line x1="507" y1="11.4" x2="510.5" y2="11.4" stroke="#000" stroke-width="1.2" />
<line x1="507" y1="146.15" x2="509" y2="146.15" stroke="#000" stroke-width="1.0" />
<line x1="507" y1="121.65" x2="509" y2="121.65" stroke="#000" stroke-width="1.0" />
<line x1="507" y1="97.15" x2="509" y2="97.15" stroke="#000" stroke-width="1.0" />
<line x1="507" y1="72.65" x2="509" y2="72.65" stroke="#000" stroke-width="1.0" />
<line x1="507" y1="48.15" x2="509" y2="48.15" stroke="#000" stroke-width="1.0" />
<line x1="507" y1="23.65" x2="509" y2="23.65" stroke="#000" stroke-width="1.0" />
<rect x="507" y="7" width="166.2" height="155.3" fill="none" stroke="#2a2a2a" stroke-width="1.3"/>
<line x1="507" y1="6.4" x2="507" y2="163.1" stroke="#000" stroke-width="1.7" />
<line x1="506.2" y1="162.3" x2="673.8" y2="162.3" stroke="#000" stroke-width="1.7" />
<line x1="508.6" y1="368.3" x2="508.6" y2="364.8" stroke="#000" stroke-width="1.2" />
<line x1="536.37" y1="368.3" x2="536.37" y2="364.8" stroke="#000" stroke-width="1.2" />
<line x1="564.13" y1="368.3" x2="564.13" y2="364.8" stroke="#000" stroke-width="1.2" />
<line x1="591.9" y1="368.3" x2="591.9" y2="364.8" stroke="#000" stroke-width="1.2" />
<line x1="619.67" y1="368.3" x2="619.67" y2="364.8" stroke="#000" stroke-width="1.2" />
<line x1="647.43" y1="368.3" x2="647.43" y2="364.8" stroke="#000" stroke-width="1.2" />
<line x1="675.2" y1="368.3" x2="675.2" y2="364.8" stroke="#000" stroke-width="1.2" />
<line x1="522.48" y1="368.3" x2="522.48" y2="366.3" stroke="#000" stroke-width="1.0" />
<line x1="550.25" y1="368.3" x2="550.25" y2="366.3" stroke="#000" stroke-width="1.0" />
<line x1="578.02" y1="368.3" x2="578.02" y2="366.3" stroke="#000" stroke-width="1.0" />
<line x1="605.78" y1="368.3" x2="605.78" y2="366.3" stroke="#000" stroke-width="1.0" />
<line x1="633.55" y1="368.3" x2="633.55" y2="366.3" stroke="#000" stroke-width="1.0" />
<line x1="661.32" y1="368.3" x2="661.32" y2="366.3" stroke="#000" stroke-width="1.0" />
<line x1="508.6" y1="364.7" x2="512.1" y2="364.7" stroke="#000" stroke-width="1.2" />
<line x1="508.6" y1="340.2" x2="512.1" y2="340.2" stroke="#000" stroke-width="1.2" />
<line x1="508.6" y1="315.7" x2="512.1" y2="315.7" stroke="#000" stroke-width="1.2" />
<line x1="508.6" y1="291.2" x2="512.1" y2="291.2" stroke="#000" stroke-width="1.2" />
<line x1="508.6" y1="266.7" x2="512.1" y2="266.7" stroke="#000" stroke-width="1.2" />
<line x1="508.6" y1="242.2" x2="512.1" y2="242.2" stroke="#000" stroke-width="1.2" />
<line x1="508.6" y1="217.7" x2="512.1" y2="217.7" stroke="#000" stroke-width="1.2" />
<line x1="508.6" y1="352.45" x2="510.6" y2="352.45" stroke="#000" stroke-width="1.0" />
<line x1="508.6" y1="327.95" x2="510.6" y2="327.95" stroke="#000" stroke-width="1.0" />
<line x1="508.6" y1="303.45" x2="510.6" y2="303.45" stroke="#000" stroke-width="1.0" />
<line x1="508.6" y1="278.95" x2="510.6" y2="278.95" stroke="#000" stroke-width="1.0" />
<line x1="508.6" y1="254.45" x2="510.6" y2="254.45" stroke="#000" stroke-width="1.0" />
<line x1="508.6" y1="229.95" x2="510.6" y2="229.95" stroke="#000" stroke-width="1.0" />
<rect x="508.6" y="213" width="166.6" height="155.3" fill="none" stroke="#2a2a2a" stroke-width="1.3"/>
<line x1="508.6" y1="212.4" x2="508.6" y2="369.1" stroke="#000" stroke-width="1.7" />
<line x1="507.8" y1="368.3" x2="675.8" y2="368.3" stroke="#000" stroke-width="1.7" />
<text x="45.6" y="159.8" font-family='"Liberation Sans", sans-serif' font-size="11.5" font-weight="bold" text-anchor="end" fill="#111" stroke="#111" stroke-width="0.3">10<tspan font-size="6.6" dy="-5.8" stroke-width="0.15">-13</tspan></text>
<text x="46.1" y="367" font-family='"Liberation Sans", sans-serif' font-size="11.5" font-weight="bold" text-anchor="end" fill="#111" stroke="#111" stroke-width="0.3">10<tspan font-size="6.6" dy="-5.8" stroke-width="0.15">-13</tspan></text>
<text x="45.6" y="143.33" font-family='"Liberation Sans", sans-serif' font-size="11.5" font-weight="bold" text-anchor="end" fill="#111" stroke="#111" stroke-width="0.3">10<tspan font-size="6.6" dy="-5.8" stroke-width="0.15">-12</tspan></text>
<text x="46.1" y="350.59" font-family='"Liberation Sans", sans-serif' font-size="11.5" font-weight="bold" text-anchor="end" fill="#111" stroke="#111" stroke-width="0.3">10<tspan font-size="6.6" dy="-5.8" stroke-width="0.15">-12</tspan></text>
<text x="45.6" y="126.87" font-family='"Liberation Sans", sans-serif' font-size="11.5" font-weight="bold" text-anchor="end" fill="#111" stroke="#111" stroke-width="0.3">10<tspan font-size="6.6" dy="-5.8" stroke-width="0.15">-11</tspan></text>
<text x="46.1" y="334.18" font-family='"Liberation Sans", sans-serif' font-size="11.5" font-weight="bold" text-anchor="end" fill="#111" stroke="#111" stroke-width="0.3">10<tspan font-size="6.6" dy="-5.8" stroke-width="0.15">-11</tspan></text>
<text x="45.6" y="110.4" font-family='"Liberation Sans", sans-serif' font-size="11.5" font-weight="bold" text-anchor="end" fill="#111" stroke="#111" stroke-width="0.3">10<tspan font-size="6.6" dy="-5.8" stroke-width="0.15">-10</tspan></text>
<text x="46.1" y="317.77" font-family='"Liberation Sans", sans-serif' font-size="11.5" font-weight="bold" text-anchor="end" fill="#111" stroke="#111" stroke-width="0.3">10<tspan font-size="6.6" dy="-5.8" stroke-width="0.15">-10</tspan></text>
<text x="45.6" y="93.93" font-family='"Liberation Sans", sans-serif' font-size="11.5" font-weight="bold" text-anchor="end" fill="#111" stroke="#111" stroke-width="0.3">10<tspan font-size="6.6" dy="-5.8" stroke-width="0.15">-9</tspan></text>
<text x="46.1" y="301.36" font-family='"Liberation Sans", sans-serif' font-size="11.5" font-weight="bold" text-anchor="end" fill="#111" stroke="#111" stroke-width="0.3">10<tspan font-size="6.6" dy="-5.8" stroke-width="0.15">-9</tspan></text>
<text x="45.6" y="77.47" font-family='"Liberation Sans", sans-serif' font-size="11.5" font-weight="bold" text-anchor="end" fill="#111" stroke="#111" stroke-width="0.3">10<tspan font-size="6.6" dy="-5.8" stroke-width="0.15">-8</tspan></text>
<text x="46.1" y="284.94" font-family='"Liberation Sans", sans-serif' font-size="11.5" font-weight="bold" text-anchor="end" fill="#111" stroke="#111" stroke-width="0.3">10<tspan font-size="6.6" dy="-5.8" stroke-width="0.15">-8</tspan></text>
<text x="45.6" y="61" font-family='"Liberation Sans", sans-serif' font-size="11.5" font-weight="bold" text-anchor="end" fill="#111" stroke="#111" stroke-width="0.3">10<tspan font-size="6.6" dy="-5.8" stroke-width="0.15">-7</tspan></text>
<text x="46.1" y="268.53" font-family='"Liberation Sans", sans-serif' font-size="11.5" font-weight="bold" text-anchor="end" fill="#111" stroke="#111" stroke-width="0.3">10<tspan font-size="6.6" dy="-5.8" stroke-width="0.15">-7</tspan></text>
<text x="45.6" y="44.53" font-family='"Liberation Sans", sans-serif' font-size="11.5" font-weight="bold" text-anchor="end" fill="#111" stroke="#111" stroke-width="0.3">10<tspan font-size="6.6" dy="-5.8" stroke-width="0.15">-6</tspan></text>
<text x="46.1" y="252.12" font-family='"Liberation Sans", sans-serif' font-size="11.5" font-weight="bold" text-anchor="end" fill="#111" stroke="#111" stroke-width="0.3">10<tspan font-size="6.6" dy="-5.8" stroke-width="0.15">-6</tspan></text>
<text x="45.6" y="28.07" font-family='"Liberation Sans", sans-serif' font-size="11.5" font-weight="bold" text-anchor="end" fill="#111" stroke="#111" stroke-width="0.3">10<tspan font-size="6.6" dy="-5.8" stroke-width="0.15">-5</tspan></text>
<text x="46.1" y="235.71" font-family='"Liberation Sans", sans-serif' font-size="11.5" font-weight="bold" text-anchor="end" fill="#111" stroke="#111" stroke-width="0.3">10<tspan font-size="6.6" dy="-5.8" stroke-width="0.15">-5</tspan></text>
<text x="45.6" y="11.6" font-family='"Liberation Sans", sans-serif' font-size="11.5" font-weight="bold" text-anchor="end" fill="#111" stroke="#111" stroke-width="0.3">10<tspan font-size="6.6" dy="-5.8" stroke-width="0.15">-4</tspan></text>
<text x="46.1" y="219.3" font-family='"Liberation Sans", sans-serif' font-size="11.5" font-weight="bold" text-anchor="end" fill="#111" stroke="#111" stroke-width="0.3">10<tspan font-size="6.6" dy="-5.8" stroke-width="0.15">-4</tspan></text>
<text x="279.6" y="162.4" font-family='"Liberation Sans", sans-serif' font-size="11.5" font-weight="bold" text-anchor="end" fill="#111" stroke="#111" stroke-width="0.3">10<tspan font-size="6.6" dy="-5.8" stroke-width="0.15">-11</tspan></text>
<text x="278.4" y="369" font-family='"Liberation Sans", sans-serif' font-size="11.5" font-weight="bold" text-anchor="end" fill="#111" stroke="#111" stroke-width="0.3">10<tspan font-size="6.6" dy="-5.8" stroke-width="0.15">-11</tspan></text>
<text x="279.6" y="137.6" font-family='"Liberation Sans", sans-serif' font-size="11.5" font-weight="bold" text-anchor="end" fill="#111" stroke="#111" stroke-width="0.3">10<tspan font-size="6.6" dy="-5.8" stroke-width="0.15">-10</tspan></text>
<text x="278.4" y="344.22" font-family='"Liberation Sans", sans-serif' font-size="11.5" font-weight="bold" text-anchor="end" fill="#111" stroke="#111" stroke-width="0.3">10<tspan font-size="6.6" dy="-5.8" stroke-width="0.15">-10</tspan></text>
<text x="279.6" y="112.8" font-family='"Liberation Sans", sans-serif' font-size="11.5" font-weight="bold" text-anchor="end" fill="#111" stroke="#111" stroke-width="0.3">10<tspan font-size="6.6" dy="-5.8" stroke-width="0.15">-9</tspan></text>
<text x="278.4" y="319.43" font-family='"Liberation Sans", sans-serif' font-size="11.5" font-weight="bold" text-anchor="end" fill="#111" stroke="#111" stroke-width="0.3">10<tspan font-size="6.6" dy="-5.8" stroke-width="0.15">-9</tspan></text>
<text x="279.6" y="88" font-family='"Liberation Sans", sans-serif' font-size="11.5" font-weight="bold" text-anchor="end" fill="#111" stroke="#111" stroke-width="0.3">10<tspan font-size="6.6" dy="-5.8" stroke-width="0.15">-8</tspan></text>
<text x="278.4" y="294.65" font-family='"Liberation Sans", sans-serif' font-size="11.5" font-weight="bold" text-anchor="end" fill="#111" stroke="#111" stroke-width="0.3">10<tspan font-size="6.6" dy="-5.8" stroke-width="0.15">-8</tspan></text>
<text x="279.6" y="63.2" font-family='"Liberation Sans", sans-serif' font-size="11.5" font-weight="bold" text-anchor="end" fill="#111" stroke="#111" stroke-width="0.3">10<tspan font-size="6.6" dy="-5.8" stroke-width="0.15">-7</tspan></text>
<text x="278.4" y="269.87" font-family='"Liberation Sans", sans-serif' font-size="11.5" font-weight="bold" text-anchor="end" fill="#111" stroke="#111" stroke-width="0.3">10<tspan font-size="6.6" dy="-5.8" stroke-width="0.15">-7</tspan></text>
<text x="279.6" y="38.4" font-family='"Liberation Sans", sans-serif' font-size="11.5" font-weight="bold" text-anchor="end" fill="#111" stroke="#111" stroke-width="0.3">10<tspan font-size="6.6" dy="-5.8" stroke-width="0.15">-6</tspan></text>
<text x="278.4" y="245.08" font-family='"Liberation Sans", sans-serif' font-size="11.5" font-weight="bold" text-anchor="end" fill="#111" stroke="#111" stroke-width="0.3">10<tspan font-size="6.6" dy="-5.8" stroke-width="0.15">-6</tspan></text>
<text x="279.6" y="13.6" font-family='"Liberation Sans", sans-serif' font-size="11.5" font-weight="bold" text-anchor="end" fill="#111" stroke="#111" stroke-width="0.3">10<tspan font-size="6.6" dy="-5.8" stroke-width="0.15">-5</tspan></text>
<text x="278.4" y="220.3" font-family='"Liberation Sans", sans-serif' font-size="11.5" font-weight="bold" text-anchor="end" fill="#111" stroke="#111" stroke-width="0.3">10<tspan font-size="6.6" dy="-5.8" stroke-width="0.15">-5</tspan></text>
<text x="63.94" y="167.8" font-family='"Liberation Sans", sans-serif' font-size="11.5" font-weight="bold" text-anchor="middle" fill="#111" >-1</text>
<text x="96.92" y="167.8" font-family='"Liberation Sans", sans-serif' font-size="11.5" font-weight="bold" text-anchor="middle" fill="#111" >0</text>
<text x="129" y="167.8" font-family='"Liberation Sans", sans-serif' font-size="11.5" font-weight="bold" text-anchor="middle" fill="#111" >1</text>
<text x="161.08" y="167.8" font-family='"Liberation Sans", sans-serif' font-size="11.5" font-weight="bold" text-anchor="middle" fill="#111" >2</text>
<text x="193.16" y="167.8" font-family='"Liberation Sans", sans-serif' font-size="11.5" font-weight="bold" text-anchor="middle" fill="#111" >3</text>
<text x="64.56" y="375.1" font-family='"Liberation Sans", sans-serif' font-size="11.5" font-weight="bold" text-anchor="middle" fill="#111" >-1</text>
<text x="97.58" y="375.1" font-family='"Liberation Sans", sans-serif' font-size="11.5" font-weight="bold" text-anchor="middle" fill="#111" >0</text>
<text x="129.7" y="375.1" font-family='"Liberation Sans", sans-serif' font-size="11.5" font-weight="bold" text-anchor="middle" fill="#111" >1</text>
<text x="161.82" y="375.1" font-family='"Liberation Sans", sans-serif' font-size="11.5" font-weight="bold" text-anchor="middle" fill="#111" >2</text>
<text x="193.94" y="375.1" font-family='"Liberation Sans", sans-serif' font-size="11.5" font-weight="bold" text-anchor="middle" fill="#111" >3</text>
<text x="299.05" y="170.4" font-family='"Liberation Sans", sans-serif' font-size="11.5" font-weight="bold" text-anchor="middle" fill="#111" >-3</text>
<text x="331.35" y="170.4" font-family='"Liberation Sans", sans-serif' font-size="11.5" font-weight="bold" text-anchor="middle" fill="#111" >-2</text>
<text x="363.65" y="170.4" font-family='"Liberation Sans", sans-serif' font-size="11.5" font-weight="bold" text-anchor="middle" fill="#111" >-1</text>
<text x="396.85" y="170.4" font-family='"Liberation Sans", sans-serif' font-size="11.5" font-weight="bold" text-anchor="middle" fill="#111" >0</text>
<text x="429.15" y="170.4" font-family='"Liberation Sans", sans-serif' font-size="11.5" font-weight="bold" text-anchor="middle" fill="#111" >1</text>
<text x="297.25" y="377.1" font-family='"Liberation Sans", sans-serif' font-size="11.5" font-weight="bold" text-anchor="middle" fill="#111" >-3</text>
<text x="329.55" y="377.1" font-family='"Liberation Sans", sans-serif' font-size="11.5" font-weight="bold" text-anchor="middle" fill="#111" >-2</text>
<text x="361.85" y="377.1" font-family='"Liberation Sans", sans-serif' font-size="11.5" font-weight="bold" text-anchor="middle" fill="#111" >-1</text>
<text x="395.05" y="377.1" font-family='"Liberation Sans", sans-serif' font-size="11.5" font-weight="bold" text-anchor="middle" fill="#111" >0</text>
<text x="427.35" y="377.1" font-family='"Liberation Sans", sans-serif' font-size="11.5" font-weight="bold" text-anchor="middle" fill="#111" >1</text>
<text x="507" y="177.6" font-family='"Liberation Sans", sans-serif' font-size="14.1" font-weight="bold" text-anchor="middle" fill="#111" >0.0</text>
<text x="534.7" y="177.6" font-family='"Liberation Sans", sans-serif' font-size="14.1" font-weight="bold" text-anchor="middle" fill="#111" >0.5</text>
<text x="562.4" y="177.6" font-family='"Liberation Sans", sans-serif' font-size="14.1" font-weight="bold" text-anchor="middle" fill="#111" >1.0</text>
<text x="590.1" y="177.6" font-family='"Liberation Sans", sans-serif' font-size="14.1" font-weight="bold" text-anchor="middle" fill="#111" >1.5</text>
<text x="617.8" y="177.6" font-family='"Liberation Sans", sans-serif' font-size="14.1" font-weight="bold" text-anchor="middle" fill="#111" >2.0</text>
<text x="645.5" y="177.6" font-family='"Liberation Sans", sans-serif' font-size="14.1" font-weight="bold" text-anchor="middle" fill="#111" >2.5</text>
<text x="673.2" y="177.6" font-family='"Liberation Sans", sans-serif' font-size="14.1" font-weight="bold" text-anchor="middle" fill="#111" >3.0</text>
<text x="508.6" y="383.2" font-family='"Liberation Sans", sans-serif' font-size="14.1" font-weight="bold" text-anchor="middle" fill="#111" >0.0</text>
<text x="536.37" y="383.2" font-family='"Liberation Sans", sans-serif' font-size="14.1" font-weight="bold" text-anchor="middle" fill="#111" >0.5</text>
<text x="564.13" y="383.2" font-family='"Liberation Sans", sans-serif' font-size="14.1" font-weight="bold" text-anchor="middle" fill="#111" >1.0</text>
<text x="591.9" y="383.2" font-family='"Liberation Sans", sans-serif' font-size="14.1" font-weight="bold" text-anchor="middle" fill="#111" >1.5</text>
<text x="619.67" y="383.2" font-family='"Liberation Sans", sans-serif' font-size="14.1" font-weight="bold" text-anchor="middle" fill="#111" >2.0</text>
<text x="647.43" y="383.2" font-family='"Liberation Sans", sans-serif' font-size="14.1" font-weight="bold" text-anchor="middle" fill="#111" >2.5</text>
<text x="675.2" y="383.2" font-family='"Liberation Sans", sans-serif' font-size="14.1" font-weight="bold" text-anchor="middle" fill="#111" >3.0</text>
<text x="502.6" y="162.6" font-family='"Liberation Sans", sans-serif' font-size="12" font-weight="bold" text-anchor="end" fill="#111" >0.0</text>
<text x="504.6" y="368.9" font-family='"Liberation Sans", sans-serif' font-size="12" font-weight="bold" text-anchor="end" fill="#111" >0.0</text>
<text x="502.6" y="138.1" font-family='"Liberation Sans", sans-serif' font-size="12" font-weight="bold" text-anchor="end" fill="#111" >0.5</text>
<text x="504.6" y="344.4" font-family='"Liberation Sans", sans-serif' font-size="12" font-weight="bold" text-anchor="end" fill="#111" >0.5</text>
<text x="502.6" y="113.6" font-family='"Liberation Sans", sans-serif' font-size="12" font-weight="bold" text-anchor="end" fill="#111" >1.0</text>
<text x="504.6" y="319.9" font-family='"Liberation Sans", sans-serif' font-size="12" font-weight="bold" text-anchor="end" fill="#111" >1.0</text>
<text x="502.6" y="89.1" font-family='"Liberation Sans", sans-serif' font-size="12" font-weight="bold" text-anchor="end" fill="#111" >1.5</text>
<text x="504.6" y="295.4" font-family='"Liberation Sans", sans-serif' font-size="12" font-weight="bold" text-anchor="end" fill="#111" >1.5</text>
<text x="502.6" y="64.6" font-family='"Liberation Sans", sans-serif' font-size="12" font-weight="bold" text-anchor="end" fill="#111" >2.0</text>
<text x="504.6" y="270.9" font-family='"Liberation Sans", sans-serif' font-size="12" font-weight="bold" text-anchor="end" fill="#111" >2.0</text>
<text x="502.6" y="40.1" font-family='"Liberation Sans", sans-serif' font-size="12" font-weight="bold" text-anchor="end" fill="#111" >2.5</text>
<text x="504.6" y="246.4" font-family='"Liberation Sans", sans-serif' font-size="12" font-weight="bold" text-anchor="end" fill="#111" >2.5</text>
<text x="502.6" y="15.6" font-family='"Liberation Sans", sans-serif' font-size="12" font-weight="bold" text-anchor="end" fill="#111" >3.0</text>
<text x="504.6" y="221.9" font-family='"Liberation Sans", sans-serif' font-size="12" font-weight="bold" text-anchor="end" fill="#111" >3.0</text>
<text transform="translate(12.9,167) rotate(-90)" font-family='"Liberation Sans", sans-serif' font-size="17" font-weight="bold" fill="#111">Drain Current, I<tspan font-size="10.5" dy="4">DS</tspan><tspan dy="-4"> [A]</tspan></text>
<text transform="translate(15.4,374) rotate(-90)" font-family='"Liberation Sans", sans-serif' font-size="17" font-weight="bold" fill="#111">Drain Current, I<tspan font-size="10.5" dy="4">DS</tspan><tspan dy="-4"> [A]</tspan></text>
<text transform="translate(249.7,172.1) rotate(-90)" font-family='"Liberation Sans", sans-serif' font-size="17.3" font-weight="bold" fill="#111">Drain Current, I<tspan font-size="10.7" dy="4">DS</tspan><tspan dy="-4"> [A]</tspan></text>
<text transform="translate(248.3,378.9) rotate(-90)" font-family='"Liberation Sans", sans-serif' font-size="17.4" font-weight="bold" fill="#111">Drain Current, I<tspan font-size="10.8" dy="4">DS</tspan><tspan dy="-4"> [A]</tspan></text>
<text x="42.5" y="184.2" font-family='"Liberation Sans", sans-serif' font-size="16.5" font-weight="bold" fill="#111" letter-spacing="0.25">Gate Voltage, V<tspan font-size="10.2" dy="3.5">GS</tspan><tspan dy="-3.5"> [V]</tspan></text>
<text x="45.4" y="390.7" font-family='"Liberation Sans", sans-serif' font-size="16.5" font-weight="bold" fill="#111" letter-spacing="0.33">Gate Voltage, V<tspan font-size="10.2" dy="3.5">GS</tspan><tspan dy="-3.5"> [V]</tspan></text>
<text x="279.9" y="187.1" font-family='"Liberation Sans", sans-serif' font-size="16.5" font-weight="bold" fill="#111" letter-spacing="0.28">Gate Voltage, V<tspan font-size="10.2" dy="3.5">GS</tspan><tspan dy="-3.5"> [V]</tspan></text>
<text x="278.6" y="394.5" font-family='"Liberation Sans", sans-serif' font-size="16.5" font-weight="bold" fill="#111" letter-spacing="0.35">Gate Voltage, V<tspan font-size="10.2" dy="3.5">GS</tspan><tspan dy="-3.5"> [V]</tspan></text>
<text transform="translate(476,116.4) rotate(-90)" font-family='"Liberation Sans", sans-serif' font-size="18.2" font-weight="bold" fill="#111">V<tspan font-size="11.3" dy="4">out</tspan><tspan dy="-4"> [V]</tspan></text>
<text transform="translate(478.1,325.2) rotate(-90)" font-family='"Liberation Sans", sans-serif' font-size="18.0" font-weight="bold" fill="#111">V<tspan font-size="11.2" dy="4">out</tspan><tspan dy="-4"> [V]</tspan></text>
<text x="557.6" y="196.3" font-family='"Liberation Sans", sans-serif' font-size="20.5" font-weight="bold" fill="#111" stroke="#111" stroke-width="0.35" letter-spacing="0.15">V<tspan font-size="11.9" dy="4">in</tspan><tspan dy="-4"> [V]</tspan></text>
<text x="561.7" y="403.4" font-family='"Liberation Sans", sans-serif' font-size="20.5" font-weight="bold" fill="#111" stroke="#111" stroke-width="0.35" letter-spacing="0.55">V<tspan font-size="11.9" dy="4">in</tspan><tspan dy="-4"> [V]</tspan></text>
<text x="53.8" y="17.3" font-family='"Liberation Sans", sans-serif' font-size="8.0" font-weight="bold" fill="#1a1a1a">Stress Time (V<tspan font-size="5.0" dy="2">GS</tspan><tspan dy="-2"> = 3 V)</tspan></text>
<line x1="53.8" y1="23" x2="71" y2="23" stroke="#000000" stroke-width="1.7" />
<text x="71.6" y="25.1" font-family='"Liberation Sans", sans-serif' font-size="5.7" font-weight="bold" text-anchor="start" fill="#222" >0sec</text>
<line x1="53.8" y1="31.9" x2="71" y2="31.9" stroke="#ff1a1a" stroke-width="1.7" />
<text x="71.6" y="34" font-family='"Liberation Sans", sans-serif' font-size="5.7" font-weight="bold" text-anchor="start" fill="#222" >10sec</text>
<line x1="53.8" y1="40.8" x2="71" y2="40.8" stroke="#1a1aff" stroke-width="1.7" />
<text x="71.6" y="42.9" font-family='"Liberation Sans", sans-serif' font-size="5.7" font-weight="bold" text-anchor="start" fill="#222" >50sec</text>
<line x1="53.8" y1="49.6" x2="71" y2="49.6" stroke="#ff1aff" stroke-width="1.7" />
<text x="71.6" y="51.7" font-family='"Liberation Sans", sans-serif' font-size="5.7" font-weight="bold" text-anchor="start" fill="#222" >100sec</text>
<line x1="53.8" y1="58.5" x2="71" y2="58.5" stroke="#1a8c1a" stroke-width="1.7" />
<text x="71.6" y="60.6" font-family='"Liberation Sans", sans-serif' font-size="5.7" font-weight="bold" text-anchor="start" fill="#222" >500sec</text>
<line x1="53.8" y1="67.2" x2="71" y2="67.2" stroke="#22228a" stroke-width="1.7" />
<text x="71.6" y="69.3" font-family='"Liberation Sans", sans-serif' font-size="5.7" font-weight="bold" text-anchor="start" fill="#222" >1000sec</text>
<text x="54.6" y="224.6" font-family='"Liberation Sans", sans-serif' font-size="8.0" font-weight="bold" fill="#1a1a1a">Stress Time (V<tspan font-size="5.0" dy="2">GS</tspan><tspan dy="-2"> = 3 V)</tspan></text>
<line x1="54.9" y1="230.4" x2="71.4" y2="230.4" stroke="#000000" stroke-width="1.7" />
<text x="72" y="232.5" font-family='"Liberation Sans", sans-serif' font-size="5.7" font-weight="bold" text-anchor="start" fill="#222" >0sec</text>
<line x1="54.9" y1="239.2" x2="71.4" y2="239.2" stroke="#ff1a1a" stroke-width="1.7" />
<text x="72" y="241.3" font-family='"Liberation Sans", sans-serif' font-size="5.7" font-weight="bold" text-anchor="start" fill="#222" >10sec</text>
<line x1="54.9" y1="248" x2="71.4" y2="248" stroke="#1a1aff" stroke-width="1.7" />
<text x="72" y="250.1" font-family='"Liberation Sans", sans-serif' font-size="5.7" font-weight="bold" text-anchor="start" fill="#222" >50sec</text>
<line x1="54.9" y1="256.9" x2="71.4" y2="256.9" stroke="#ff1aff" stroke-width="1.7" />
<text x="72" y="259" font-family='"Liberation Sans", sans-serif' font-size="5.7" font-weight="bold" text-anchor="start" fill="#222" >100sec</text>
<line x1="54.9" y1="265.7" x2="71.4" y2="265.7" stroke="#1a8c1a" stroke-width="1.7" />
<text x="72" y="267.8" font-family='"Liberation Sans", sans-serif' font-size="5.7" font-weight="bold" text-anchor="start" fill="#222" >500sec</text>
<line x1="54.9" y1="274.5" x2="71.4" y2="274.5" stroke="#22228a" stroke-width="1.7" />
<text x="72" y="276.6" font-family='"Liberation Sans", sans-serif' font-size="5.7" font-weight="bold" text-anchor="start" fill="#222" >1000sec</text>
<text x="352.3" y="18.6" font-family='"Liberation Sans", sans-serif' font-size="8.0" font-weight="bold" fill="#1a1a1a">Stress Time (V<tspan font-size="5.0" dy="2">GS</tspan><tspan dy="-2"> = -3 V)</tspan></text>
<line x1="403.1" y1="26.2" x2="419.7" y2="26.2" stroke="#000000" stroke-width="1.7" />
<text x="420.4" y="28.3" font-family='"Liberation Sans", sans-serif' font-size="5.7" font-weight="bold" text-anchor="start" fill="#222" >0sec</text>
<line x1="403.1" y1="35.2" x2="419.7" y2="35.2" stroke="#ff1a1a" stroke-width="1.7" />
<text x="420.4" y="37.3" font-family='"Liberation Sans", sans-serif' font-size="5.7" font-weight="bold" text-anchor="start" fill="#222" >10sec</text>
<line x1="403.1" y1="44.1" x2="419.7" y2="44.1" stroke="#1a1aff" stroke-width="1.7" />
<text x="420.4" y="46.2" font-family='"Liberation Sans", sans-serif' font-size="5.7" font-weight="bold" text-anchor="start" fill="#222" >50sec</text>
<line x1="403.1" y1="53" x2="419.7" y2="53" stroke="#ff1aff" stroke-width="1.7" />
<text x="420.4" y="55.1" font-family='"Liberation Sans", sans-serif' font-size="5.7" font-weight="bold" text-anchor="start" fill="#222" >100sec</text>
<line x1="403.1" y1="61.8" x2="419.7" y2="61.8" stroke="#1a8c1a" stroke-width="1.7" />
<text x="420.4" y="63.9" font-family='"Liberation Sans", sans-serif' font-size="5.7" font-weight="bold" text-anchor="start" fill="#222" >500sec</text>
<line x1="403.1" y1="70.4" x2="419.7" y2="70.4" stroke="#22228a" stroke-width="1.7" />
<text x="420.4" y="72.5" font-family='"Liberation Sans", sans-serif' font-size="5.7" font-weight="bold" text-anchor="start" fill="#222" >1000sec</text>
<text x="350.8" y="224.8" font-family='"Liberation Sans", sans-serif' font-size="8.0" font-weight="bold" fill="#1a1a1a">Stress Time (V<tspan font-size="5.0" dy="2">GS</tspan><tspan dy="-2"> = -3 V)</tspan></text>
<line x1="400" y1="232.6" x2="416.4" y2="232.6" stroke="#000000" stroke-width="1.7" />
<text x="417.4" y="234.7" font-family='"Liberation Sans", sans-serif' font-size="5.7" font-weight="bold" text-anchor="start" fill="#222" >0sec</text>
<line x1="400" y1="241.6" x2="416.4" y2="241.6" stroke="#ff1a1a" stroke-width="1.7" />
<text x="417.4" y="243.7" font-family='"Liberation Sans", sans-serif' font-size="5.7" font-weight="bold" text-anchor="start" fill="#222" >10sec</text>
<line x1="400" y1="250.6" x2="416.4" y2="250.6" stroke="#1a1aff" stroke-width="1.7" />
<text x="417.4" y="252.7" font-family='"Liberation Sans", sans-serif' font-size="5.7" font-weight="bold" text-anchor="start" fill="#222" >50sec</text>
<line x1="400" y1="259.4" x2="416.4" y2="259.4" stroke="#ff1aff" stroke-width="1.7" />
<text x="417.4" y="261.5" font-family='"Liberation Sans", sans-serif' font-size="5.7" font-weight="bold" text-anchor="start" fill="#222" >100sec</text>
<line x1="400" y1="268.2" x2="416.4" y2="268.2" stroke="#1a8c1a" stroke-width="1.7" />
<text x="417.4" y="270.3" font-family='"Liberation Sans", sans-serif' font-size="5.7" font-weight="bold" text-anchor="start" fill="#222" >500sec</text>
<line x1="400" y1="277" x2="416.4" y2="277" stroke="#22228a" stroke-width="1.7" />
<text x="417.4" y="279.1" font-family='"Liberation Sans", sans-serif' font-size="5.7" font-weight="bold" text-anchor="start" fill="#222" >1000sec</text>
<line x1="608" y1="18.6" x2="629.2" y2="18.6" stroke="#6e6eb2" stroke-width="1.8" />
<text x="631.5" y="21.9" font-family='"Liberation Sans", sans-serif' font-size="9" font-weight="bold" text-anchor="start" fill="#151515" >Pristine</text>
<line x1="608" y1="30.4" x2="629.2" y2="30.4" stroke="#4a4a98" stroke-width="1.4" />
<text x="631.5" y="33.7" font-family='"Liberation Sans", sans-serif' font-size="9" font-weight="bold" text-anchor="start" fill="#151515" >cycle1</text>
<line x1="608" y1="42.2" x2="629.2" y2="42.2" stroke="#4a4a98" stroke-width="1.4" />
<text x="631.5" y="45.5" font-family='"Liberation Sans", sans-serif' font-size="9" font-weight="bold" text-anchor="start" fill="#151515" >cycle10</text>
<line x1="608" y1="53.8" x2="629.2" y2="53.8" stroke="#6cc6cc" stroke-width="1.9" />
<text x="631.5" y="57.1" font-family='"Liberation Sans", sans-serif' font-size="9" font-weight="bold" text-anchor="start" fill="#151515" >cycle50</text>
<line x1="608" y1="65.4" x2="629.2" y2="65.4" stroke="#5f88e6" stroke-width="1.3" />
<text x="631.5" y="68.7" font-family='"Liberation Sans", sans-serif' font-size="9" font-weight="bold" text-anchor="start" fill="#151515" >cycle100</text>
<line x1="608" y1="225.1" x2="629.3" y2="225.1" stroke="#6e6eb2" stroke-width="1.8" />
<text x="631.5" y="228.4" font-family='"Liberation Sans", sans-serif' font-size="9" font-weight="bold" text-anchor="start" fill="#151515" >Pristine</text>
<line x1="608" y1="236.9" x2="629.3" y2="236.9" stroke="#4a4a98" stroke-width="1.4" />
<text x="631.5" y="240.2" font-family='"Liberation Sans", sans-serif' font-size="9" font-weight="bold" text-anchor="start" fill="#151515" >cycle1</text>
<line x1="608" y1="248.7" x2="629.3" y2="248.7" stroke="#4a4a98" stroke-width="1.4" />
<text x="631.5" y="252" font-family='"Liberation Sans", sans-serif' font-size="9" font-weight="bold" text-anchor="start" fill="#151515" >cycle10</text>
<line x1="608" y1="260.3" x2="629.3" y2="260.3" stroke="#6cc6cc" stroke-width="1.9" />
<text x="631.5" y="263.6" font-family='"Liberation Sans", sans-serif' font-size="9" font-weight="bold" text-anchor="start" fill="#151515" >cycle50</text>
<line x1="608" y1="272" x2="629.3" y2="272" stroke="#5f88e6" stroke-width="1.3" />
<text x="631.5" y="275.3" font-family='"Liberation Sans", sans-serif' font-size="9" font-weight="bold" text-anchor="start" fill="#151515" >cycle100</text>
<text x="131" y="97.9" font-family='"Liberation Sans", sans-serif' font-size="11.9" font-weight="normal" text-anchor="start" fill="#1a1a1a" stroke="#1a1a1a" stroke-width="0.25">&#916;|V<tspan font-size="8.1" dy="3">th</tspan><tspan dy="-3">| = 0.18V</tspan></text>
<text x="131.4" y="303.8" font-family='"Liberation Sans", sans-serif' font-size="11.9" font-weight="normal" text-anchor="start" fill="#1a1a1a" stroke="#1a1a1a" stroke-width="0.25">&#916;|V<tspan font-size="8.1" dy="3">th</tspan><tspan dy="-3">| = 0.02V</tspan></text>
<text x="297.8" y="84.8" font-family='"Liberation Sans", sans-serif' font-size="12" font-weight="normal" text-anchor="start" fill="#1a1a1a" stroke="#1a1a1a" stroke-width="0.25">&#916;|V<tspan font-size="8.2" dy="2">th</tspan><tspan dy="-2">| =</tspan></text>
<text x="298.2" y="99" font-family='"Liberation Sans", sans-serif' font-size="12" font-weight="normal" text-anchor="start" fill="#1a1a1a" stroke="#1a1a1a" stroke-width="0.25">0.59V</text>
<text x="300" y="287.6" font-family='"Liberation Sans", sans-serif' font-size="12" font-weight="normal" text-anchor="start" fill="#1a1a1a" stroke="#1a1a1a" stroke-width="0.25">&#916;|V<tspan font-size="8.2" dy="2">th</tspan><tspan dy="-2">| =</tspan></text>
<text x="300" y="302.2" font-family='"Liberation Sans", sans-serif' font-size="12" font-weight="normal" text-anchor="start" fill="#1a1a1a" stroke="#1a1a1a" stroke-width="0.25">0.34V</text>
<text x="203.6" y="117.8" font-family='"Liberation Serif", serif' font-size="19" font-weight="bold" text-anchor="end" fill="#111" stroke="#111" stroke-width="0.3">(a)</text>
<text x="205.6" y="324.6" font-family='"Liberation Serif", serif' font-size="19" font-weight="bold" text-anchor="end" fill="#111" stroke="#111" stroke-width="0.3">(b)</text>
<text x="288.6" y="118.8" font-family='"Liberation Serif", serif' font-size="19" font-weight="bold" text-anchor="start" fill="#111" stroke="#111" stroke-width="0.3">(c)</text>
<text x="288.8" y="324.4" font-family='"Liberation Serif", serif' font-size="19" font-weight="bold" text-anchor="start" fill="#111" stroke="#111" stroke-width="0.3">(d)</text>
<text x="513.8" y="136.6" font-family='"Liberation Serif", serif' font-size="19" font-weight="bold" text-anchor="start" fill="#111" stroke="#111" stroke-width="0.3">(e)</text>
<text x="517" y="343.4" font-family='"Liberation Serif", serif' font-size="19" font-weight="bold" text-anchor="start" fill="#111" stroke="#111" stroke-width="0.3">(f)</text>
<text x="205.2" y="134.6" font-family='"Liberation Sans", sans-serif' font-size="9.8" font-weight="bold" text-anchor="end" fill="#1a1a1a" >IGZO TFT</text>
<text x="205.2" y="146.6" font-family='"Liberation Sans", sans-serif' font-size="9.8" font-weight="bold" text-anchor="end" fill="#1a1a1a" >No Passivate</text>
<text x="206.6" y="342.2" font-family='"Liberation Sans", sans-serif' font-size="9.8" font-weight="bold" text-anchor="end" fill="#1a1a1a" >IGZO TFT</text>
<text x="206.6" y="353.9" font-family='"Liberation Sans", sans-serif' font-size="9.8" font-weight="bold" text-anchor="end" fill="#1a1a1a" >Passivate</text>
<text x="288" y="135.8" font-family='"Liberation Sans", sans-serif' font-size="9.8" font-weight="bold" text-anchor="start" fill="#1a1a1a" >SnO TFT</text>
<text x="288" y="147.8" font-family='"Liberation Sans", sans-serif' font-size="9.8" font-weight="bold" text-anchor="start" fill="#1a1a1a" >No Passivate</text>
<text x="286.4" y="342" font-family='"Liberation Sans", sans-serif' font-size="9.8" font-weight="bold" text-anchor="start" fill="#1a1a1a" >SnO TFT</text>
<text x="286.4" y="354" font-family='"Liberation Sans", sans-serif' font-size="9.8" font-weight="bold" text-anchor="start" fill="#1a1a1a" >Passivate</text>
<text x="511.8" y="154.4" font-family='"Liberation Sans", sans-serif' font-size="10.1" font-weight="bold" text-anchor="start" fill="#1a1a1a" >No Passivate</text>
<text x="513" y="360.8" font-family='"Liberation Sans", sans-serif' font-size="10.3" font-weight="bold" text-anchor="start" fill="#1a1a1a" >Passivate</text>
<text x="517.9" y="56.3" font-family='"Liberation Sans", sans-serif' font-size="12.5" font-weight="normal" text-anchor="start" fill="#1a1a1a" stroke="#1a1a1a" stroke-width="0.25">V<tspan font-size="8.0" dy="3.5">SP</tspan><tspan dy="-3.5"> :</tspan></text>
<text x="610.2" y="97" font-family='"Liberation Sans", sans-serif' font-size="12.5" font-weight="normal" text-anchor="start" fill="#1a1a1a" stroke="#1a1a1a" stroke-width="0.25">V<tspan font-size="8.0" dy="3.5">SP</tspan><tspan dy="-3.5"> :</tspan></text>
<text x="519.1" y="261.8" font-family='"Liberation Sans", sans-serif' font-size="12.5" font-weight="normal" text-anchor="start" fill="#1a1a1a" stroke="#1a1a1a" stroke-width="0.25">V<tspan font-size="8.0" dy="3.5">SP</tspan><tspan dy="-3.5"> :</tspan></text>
<text x="610.9" y="304.2" font-family='"Liberation Sans", sans-serif' font-size="12.5" font-weight="normal" text-anchor="start" fill="#1a1a1a" stroke="#1a1a1a" stroke-width="0.25">V<tspan font-size="8.0" dy="3.5">SP</tspan><tspan dy="-3.5"> :</tspan></text>
<text x="517.9" y="76.9" font-family='"Liberation Sans", sans-serif' font-size="11.2" font-weight="normal" text-anchor="start" fill="#1a1a1a" stroke="#1a1a1a" stroke-width="0.2" word-spacing="-0.6">(forward)</text>
<text x="517.9" y="89.7" font-family='"Liberation Sans", sans-serif' font-size="11.2" font-weight="normal" text-anchor="start" fill="#1a1a1a" stroke="#1a1a1a" stroke-width="0.2" word-spacing="-0.6">&#956; = 1.38 V</text>
<text x="517.9" y="101.7" font-family='"Liberation Sans", sans-serif' font-size="11.2" font-weight="normal" text-anchor="start" fill="#1a1a1a" stroke="#1a1a1a" stroke-width="0.2" word-spacing="-0.6">&#963; = 9.06 mV</text>
<text x="610.2" y="118.7" font-family='"Liberation Sans", sans-serif' font-size="11.2" font-weight="normal" text-anchor="start" fill="#1a1a1a" stroke="#1a1a1a" stroke-width="0.2" word-spacing="-0.6">(reverse)</text>
<text x="610.2" y="131" font-family='"Liberation Sans", sans-serif' font-size="11.2" font-weight="normal" text-anchor="start" fill="#1a1a1a" stroke="#1a1a1a" stroke-width="0.2" word-spacing="-0.6">&#956; = 1.50 V</text>
<text x="610.2" y="144" font-family='"Liberation Sans", sans-serif' font-size="11.2" font-weight="normal" text-anchor="start" fill="#1a1a1a" stroke="#1a1a1a" stroke-width="0.2" word-spacing="-0.6">&#963; = 9.29 mV</text>
<text x="519.1" y="282.4" font-family='"Liberation Sans", sans-serif' font-size="11.2" font-weight="normal" text-anchor="start" fill="#1a1a1a" stroke="#1a1a1a" stroke-width="0.2" word-spacing="-0.6">(forward)</text>
<text x="519.1" y="295.1" font-family='"Liberation Sans", sans-serif' font-size="11.2" font-weight="normal" text-anchor="start" fill="#1a1a1a" stroke="#1a1a1a" stroke-width="0.2" word-spacing="-0.6">&#956; = 1.34 V</text>
<text x="519.1" y="307.1" font-family='"Liberation Sans", sans-serif' font-size="11.2" font-weight="normal" text-anchor="start" fill="#1a1a1a" stroke="#1a1a1a" stroke-width="0.2" word-spacing="-0.6">&#963; = 9.47 mV</text>
<text x="610.9" y="325.2" font-family='"Liberation Sans", sans-serif' font-size="11.2" font-weight="normal" text-anchor="start" fill="#1a1a1a" stroke="#1a1a1a" stroke-width="0.2" word-spacing="-0.6">(reverse)</text>
<text x="610.9" y="337.7" font-family='"Liberation Sans", sans-serif' font-size="11.2" font-weight="normal" text-anchor="start" fill="#1a1a1a" stroke="#1a1a1a" stroke-width="0.2" word-spacing="-0.6">&#956; = 1.42 V</text>
<text x="610.9" y="350.5" font-family='"Liberation Sans", sans-serif' font-size="11.2" font-weight="normal" text-anchor="start" fill="#1a1a1a" stroke="#1a1a1a" stroke-width="0.2" word-spacing="-0.6">&#963; = 7.12 mV</text>
<line x1="577.9" y1="72.6" x2="577.9" y2="84.9" stroke="#5b88ea" stroke-width="1.6" />
<path d="M575,83.4 L577.9,88.9 L580.8,83.4 Z" fill="#5b88ea"/>
<line x1="596.8" y1="88.9" x2="596.8" y2="76.6" stroke="#5b88ea" stroke-width="1.6" />
<path d="M593.9,78.1 L596.8,72.6 L599.7,78.1 Z" fill="#5b88ea"/>
<line x1="577.9" y1="279.3" x2="577.9" y2="291.6" stroke="#5b88ea" stroke-width="1.6" />
<path d="M575,290.1 L577.9,295.6 L580.8,290.1 Z" fill="#5b88ea"/>
<line x1="593.8" y1="295.6" x2="593.8" y2="283.3" stroke="#5b88ea" stroke-width="1.6" />
<path d="M590.9,284.8 L593.8,279.3 L596.7,284.8 Z" fill="#5b88ea"/>
<path d="M105.6,51.4 L105.25,65.82 L109.02,62.09 L134.58,87.89 L141.82,80.71 L116.26,54.91 L120.03,51.18 Z" fill="url(#gOl)"/>
<path d="M118.3,266.9 L118.21,276.23 L120.35,274.13 L135.93,290.02 L141.07,284.98 L125.49,269.09 L127.63,266.99 Z" fill="url(#gOl)"/>
<path d="M336.7,113.5 L361.45,113.25 L353.66,105.62 L395.31,63.12 L385.89,53.88 L344.23,96.38 L336.45,88.75 Z" fill="url(#gMv)"/>
<path d="M354.2,287.2 L369.04,286.84 L364.34,282.36 L389.4,256.06 L383.6,250.54 L358.55,276.84 L353.84,272.36 Z" fill="url(#gMv)"/>
</svg>
</body></html>
